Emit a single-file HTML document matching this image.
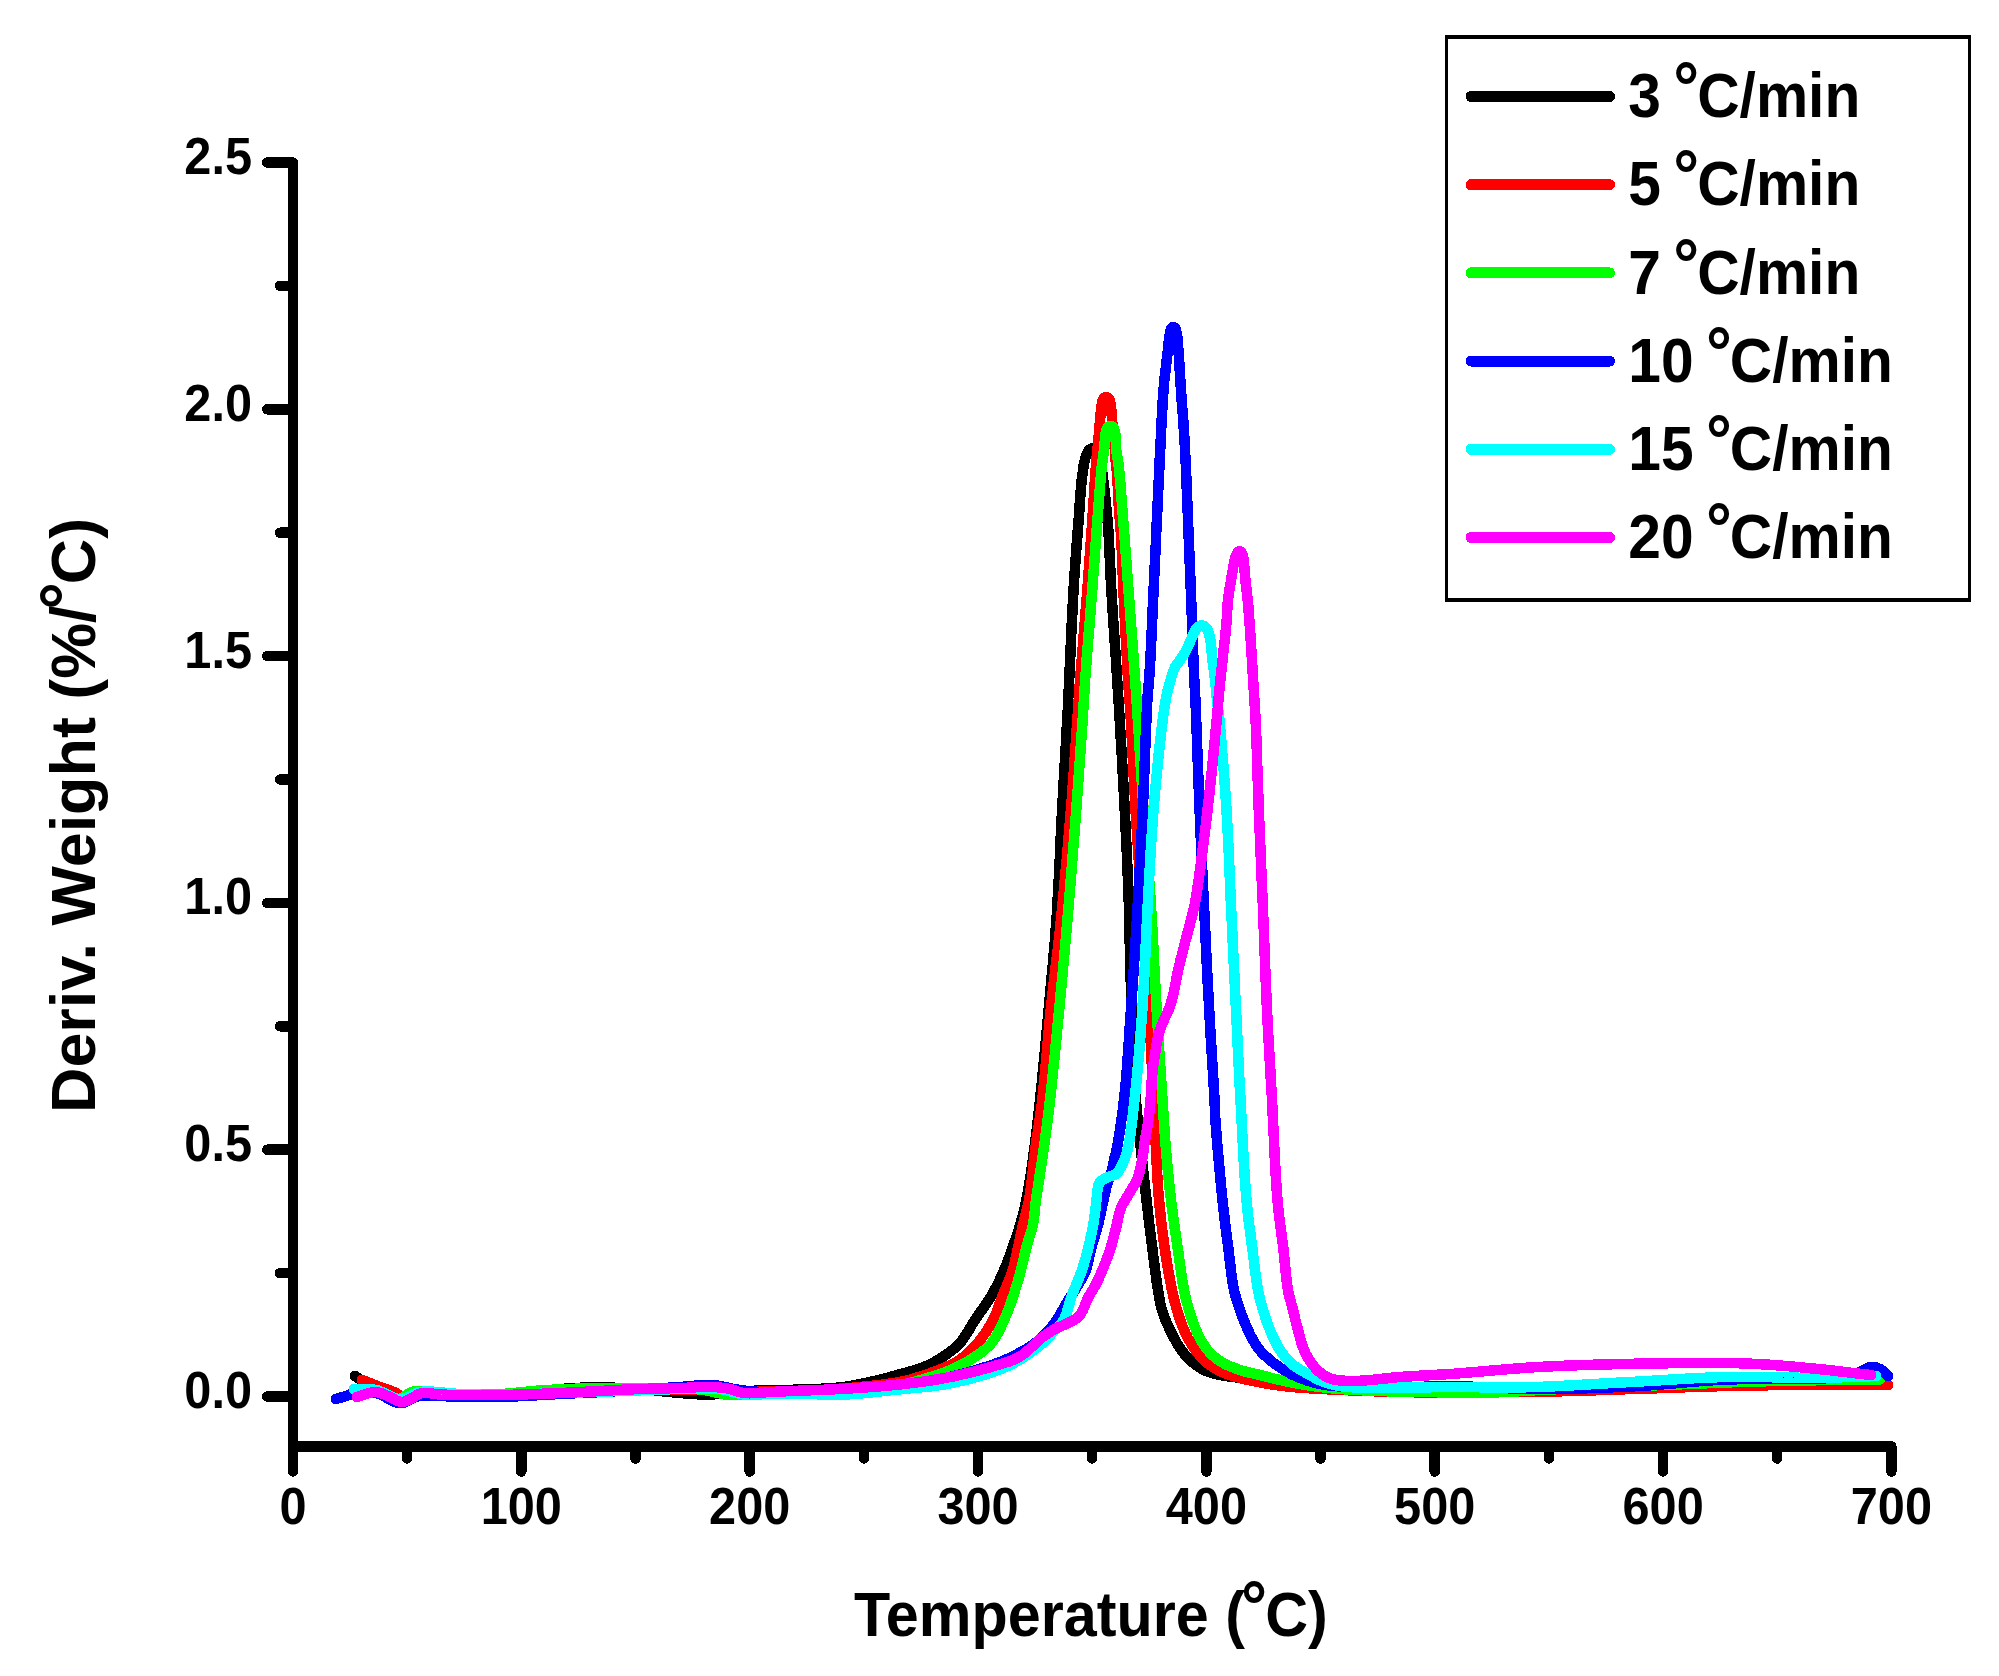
<!DOCTYPE html>
<html lang="en"><head><meta charset="utf-8"><title>Deriv. Weight vs Temperature</title>
<style>html,body{margin:0;padding:0;background:#fff}body{width:1999px;height:1676px;overflow:hidden}svg{display:block}text{font-family:'Liberation Sans', Arial, Helvetica, sans-serif;font-weight:bold;fill:#000}</style></head><body>
<svg width="1999" height="1676" viewBox="0 0 1999 1676">
<rect x="0" y="0" width="1999" height="1676" fill="#fff"/>
<g fill="none" stroke-width="10.5" stroke-linecap="round" stroke-linejoin="round" shape-rendering="crispEdges">
<path stroke="#000000" d="M355.0 1376.0L355.7 1376.5L357.4 1377.6L359.7 1379.0L362.0 1380.3L363.6 1381.1L365.4 1381.9L367.4 1382.7L369.5 1383.5L371.6 1384.3L373.7 1385.1L375.9 1385.9L378.0 1386.7L380.0 1387.5L382.1 1388.3L384.2 1389.0L386.3 1389.8L388.4 1390.5L390.5 1391.2L392.4 1392.0L394.3 1392.7L396.0 1393.5L398.2 1394.9L400.2 1396.4L402.0 1397.8L404.0 1398.5L405.9 1398.5L407.9 1397.9L409.9 1397.2L412.0 1396.5L413.8 1396.0L415.6 1395.4L417.5 1394.9L419.6 1394.4L422.0 1394.0L423.4 1393.9L425.0 1393.8L426.6 1393.7L428.4 1393.7L430.2 1393.8L432.1 1393.8L434.1 1393.9L436.2 1394.0L438.3 1394.1L440.5 1394.2L442.7 1394.3L444.9 1394.4L447.1 1394.5L449.3 1394.6L451.5 1394.8L453.7 1394.8L455.8 1394.9L457.9 1395.0L460.0 1395.0L462.0 1395.0L464.0 1395.0L465.9 1395.0L467.9 1395.0L469.9 1395.1L471.9 1395.1L473.9 1395.1L475.9 1395.1L477.9 1395.0L479.9 1395.0L481.9 1395.0L484.0 1395.0L486.0 1395.0L488.0 1394.9L490.0 1394.9L492.0 1394.8L494.0 1394.8L496.0 1394.7L498.0 1394.6L500.0 1394.5L502.0 1394.4L504.0 1394.3L506.0 1394.1L508.0 1394.0L510.1 1393.8L512.1 1393.7L514.1 1393.5L516.1 1393.3L518.2 1393.1L520.2 1392.9L522.2 1392.7L524.2 1392.5L526.2 1392.3L528.2 1392.1L530.2 1391.9L532.2 1391.7L534.1 1391.5L536.1 1391.4L538.1 1391.2L540.0 1391.0L542.1 1390.8L544.3 1390.6L546.4 1390.4L548.5 1390.2L550.6 1390.0L552.8 1389.8L554.9 1389.6L557.0 1389.4L559.1 1389.2L561.1 1389.0L563.2 1388.9L565.2 1388.7L567.2 1388.5L569.2 1388.4L571.2 1388.2L573.1 1388.1L575.0 1388.0L577.2 1387.9L579.3 1387.8L581.4 1387.7L583.4 1387.6L585.4 1387.6L587.4 1387.5L589.4 1387.5L591.4 1387.5L593.4 1387.5L595.5 1387.5L597.7 1387.5L600.0 1387.5L601.8 1387.5L603.6 1387.5L605.5 1387.6L607.4 1387.6L609.3 1387.6L611.3 1387.7L613.3 1387.7L615.3 1387.8L617.4 1387.9L619.4 1387.9L621.5 1388.0L623.6 1388.1L625.6 1388.2L627.7 1388.3L629.8 1388.4L631.9 1388.5L633.9 1388.6L636.0 1388.7L638.0 1388.9L640.0 1389.0L642.0 1389.1L644.0 1389.3L646.1 1389.5L648.1 1389.7L650.1 1389.9L652.2 1390.1L654.2 1390.3L656.3 1390.5L658.3 1390.8L660.4 1391.0L662.4 1391.2L664.4 1391.5L666.4 1391.7L668.4 1391.9L670.4 1392.1L672.4 1392.3L674.3 1392.5L676.2 1392.7L678.1 1392.9L680.0 1393.0L682.1 1393.2L684.2 1393.3L686.2 1393.5L688.2 1393.6L690.2 1393.8L692.1 1393.9L694.1 1394.1L696.0 1394.2L697.9 1394.3L699.9 1394.4L701.8 1394.5L703.8 1394.5L705.8 1394.5L707.9 1394.5L710.0 1394.5L711.9 1394.4L713.9 1394.4L715.8 1394.2L717.8 1394.1L719.8 1393.9L721.8 1393.7L723.8 1393.5L725.8 1393.3L727.8 1393.1L729.9 1392.9L731.9 1392.6L734.0 1392.4L736.1 1392.1L738.2 1391.9L740.4 1391.7L742.5 1391.5L744.6 1391.3L746.8 1391.1L749.0 1391.0L750.9 1390.9L752.9 1390.8L754.8 1390.7L756.8 1390.6L758.9 1390.5L760.9 1390.5L763.0 1390.4L765.0 1390.4L767.1 1390.3L769.2 1390.3L771.3 1390.2L773.4 1390.2L775.5 1390.1L777.6 1390.1L779.7 1390.0L781.8 1390.0L783.9 1390.0L786.0 1389.9L788.0 1389.9L790.1 1389.8L792.1 1389.8L794.1 1389.7L796.1 1389.6L798.1 1389.6L800.0 1389.5L802.1 1389.4L804.2 1389.3L806.3 1389.3L808.4 1389.2L810.5 1389.1L812.5 1389.1L814.6 1389.0L816.6 1388.9L818.7 1388.8L820.7 1388.8L822.7 1388.7L824.7 1388.6L826.6 1388.5L828.6 1388.4L830.5 1388.2L832.5 1388.1L834.4 1388.0L836.3 1387.8L838.1 1387.6L840.0 1387.4L842.1 1387.1L844.2 1386.9L846.3 1386.6L848.3 1386.3L850.3 1385.9L852.3 1385.6L854.3 1385.2L856.3 1384.9L858.2 1384.5L860.2 1384.1L862.1 1383.7L864.1 1383.3L866.0 1382.9L868.0 1382.4L870.0 1382.0L872.0 1381.5L874.0 1381.1L876.1 1380.6L878.1 1380.1L880.2 1379.6L882.2 1379.1L884.2 1378.5L886.3 1378.0L888.3 1377.5L890.3 1376.9L892.3 1376.4L894.2 1375.8L896.2 1375.3L898.1 1374.7L900.0 1374.2L902.1 1373.6L904.2 1373.1L906.3 1372.5L908.3 1371.9L910.4 1371.4L912.4 1370.8L914.4 1370.3L916.4 1369.7L918.3 1369.1L920.2 1368.4L922.1 1367.7L923.9 1367.0L925.8 1366.2L927.7 1365.3L929.6 1364.5L931.4 1363.6L933.1 1362.7L934.9 1361.7L936.6 1360.7L938.3 1359.7L940.1 1358.6L941.8 1357.5L943.5 1356.4L945.2 1355.3L946.9 1354.1L948.5 1352.9L950.2 1351.7L951.9 1350.4L953.5 1349.1L955.1 1347.7L956.7 1346.3L958.2 1344.8L959.7 1343.2L961.0 1341.8L962.2 1340.2L963.4 1338.6L964.5 1337.0L965.6 1335.3L966.7 1333.5L967.8 1331.8L968.9 1330.0L970.0 1328.2L971.0 1326.4L972.1 1324.6L973.2 1322.8L974.3 1321.0L975.4 1319.3L976.5 1317.6L977.7 1315.9L978.9 1314.2L980.1 1312.5L981.3 1310.8L982.5 1309.1L983.7 1307.5L984.8 1305.8L986.0 1304.1L987.2 1302.4L988.3 1300.7L989.4 1299.0L990.5 1297.2L991.5 1295.5L992.5 1293.7L993.6 1291.9L994.6 1290.1L995.5 1288.2L996.5 1286.4L997.4 1284.6L998.3 1282.7L999.2 1280.9L1000.1 1279.0L1001.0 1277.2L1001.8 1275.3L1002.7 1273.5L1003.5 1271.6L1004.3 1269.6L1005.2 1267.6L1006.0 1265.7L1006.7 1263.7L1007.5 1261.7L1008.2 1259.7L1009.0 1257.7L1009.7 1255.7L1010.4 1253.7L1011.1 1251.7L1011.8 1249.7L1012.5 1247.7L1013.2 1245.7L1013.9 1243.8L1014.6 1241.8L1015.3 1239.8L1016.0 1237.9L1016.6 1235.9L1017.3 1233.9L1017.9 1231.9L1018.6 1230.0L1019.2 1228.0L1019.8 1226.0L1020.4 1224.0L1021.0 1222.0L1021.5 1220.1L1022.0 1218.2L1022.6 1216.4L1023.1 1214.5L1023.5 1212.6L1024.0 1210.7L1024.5 1208.7L1025.0 1206.6L1025.4 1204.5L1025.9 1202.3L1026.4 1200.0L1026.7 1198.3L1027.1 1196.6L1027.4 1194.9L1027.7 1193.0L1028.1 1191.2L1028.4 1189.3L1028.7 1187.3L1029.0 1185.4L1029.4 1183.4L1029.7 1181.3L1030.0 1179.3L1030.3 1177.2L1030.6 1175.1L1031.0 1173.0L1031.3 1170.9L1031.6 1168.8L1031.9 1166.7L1032.2 1164.5L1032.5 1162.4L1032.8 1160.3L1033.1 1158.2L1033.4 1156.1L1033.6 1154.1L1033.9 1152.0L1034.2 1150.0L1034.5 1148.0L1034.7 1146.0L1035.0 1144.1L1035.2 1142.2L1035.5 1140.2L1035.7 1138.3L1036.0 1136.4L1036.2 1134.5L1036.4 1132.6L1036.6 1130.7L1036.9 1128.8L1037.1 1126.9L1037.3 1125.0L1037.5 1123.0L1037.7 1121.1L1038.0 1119.1L1038.2 1117.1L1038.4 1115.1L1038.6 1113.0L1038.8 1110.9L1039.1 1108.8L1039.3 1106.7L1039.5 1104.5L1039.8 1102.3L1040.0 1100.0L1040.2 1098.3L1040.4 1096.5L1040.5 1094.8L1040.7 1093.0L1040.9 1091.2L1041.1 1089.3L1041.3 1087.5L1041.5 1085.6L1041.7 1083.7L1041.9 1081.8L1042.1 1079.8L1042.2 1077.9L1042.4 1075.9L1042.6 1073.9L1042.8 1072.0L1043.0 1069.9L1043.2 1067.9L1043.4 1065.9L1043.6 1063.9L1043.8 1061.8L1044.0 1059.7L1044.2 1057.7L1044.4 1055.6L1044.6 1053.5L1044.8 1051.4L1045.0 1049.4L1045.2 1047.3L1045.4 1045.2L1045.6 1043.1L1045.8 1041.0L1046.0 1038.9L1046.1 1036.8L1046.3 1034.7L1046.5 1032.6L1046.7 1030.5L1046.9 1028.4L1047.1 1026.3L1047.3 1024.3L1047.5 1022.2L1047.7 1020.1L1047.9 1018.1L1048.0 1016.1L1048.2 1014.0L1048.4 1012.0L1048.6 1010.0L1048.8 1008.0L1049.0 1006.0L1049.1 1004.0L1049.3 1002.0L1049.5 1000.1L1049.7 998.1L1049.9 996.1L1050.1 994.1L1050.3 992.1L1050.4 990.2L1050.6 988.2L1050.8 986.2L1051.0 984.3L1051.2 982.3L1051.4 980.3L1051.5 978.4L1051.7 976.4L1051.9 974.4L1052.1 972.5L1052.3 970.5L1052.4 968.5L1052.6 966.6L1052.8 964.6L1053.0 962.6L1053.1 960.6L1053.3 958.6L1053.5 956.7L1053.7 954.7L1053.8 952.7L1054.0 950.7L1054.2 948.7L1054.4 946.7L1054.5 944.7L1054.7 942.6L1054.9 940.6L1055.0 938.6L1055.2 936.5L1055.3 934.5L1055.5 932.5L1055.6 930.4L1055.8 928.3L1056.0 926.3L1056.1 924.2L1056.3 922.1L1056.4 920.0L1056.5 918.1L1056.7 916.2L1056.8 914.3L1056.9 912.3L1057.0 910.4L1057.2 908.4L1057.3 906.5L1057.4 904.5L1057.5 902.5L1057.6 900.5L1057.7 898.5L1057.8 896.5L1058.0 894.5L1058.1 892.5L1058.2 890.5L1058.3 888.5L1058.4 886.5L1058.5 884.4L1058.6 882.4L1058.7 880.4L1058.8 878.3L1058.9 876.3L1059.0 874.2L1059.1 872.2L1059.2 870.1L1059.3 868.1L1059.4 866.0L1059.5 864.0L1059.6 861.9L1059.7 859.9L1059.8 857.8L1059.9 855.8L1060.0 853.7L1060.1 851.7L1060.2 849.7L1060.3 847.6L1060.3 845.6L1060.4 843.6L1060.5 841.5L1060.6 839.5L1060.7 837.5L1060.8 835.5L1060.9 833.5L1061.0 831.5L1061.1 829.5L1061.2 827.5L1061.3 825.5L1061.4 823.5L1061.5 821.6L1061.6 819.6L1061.7 817.7L1061.8 815.7L1061.9 813.8L1062.0 811.9L1062.1 810.0L1062.2 807.9L1062.3 805.8L1062.4 803.7L1062.6 801.6L1062.7 799.4L1062.8 797.3L1062.9 795.2L1063.0 793.1L1063.2 790.9L1063.3 788.8L1063.4 786.7L1063.5 784.5L1063.6 782.4L1063.8 780.3L1063.9 778.2L1064.0 776.1L1064.1 774.0L1064.3 771.9L1064.4 769.8L1064.5 767.7L1064.6 765.6L1064.7 763.5L1064.9 761.5L1065.0 759.4L1065.1 757.4L1065.2 755.4L1065.3 753.3L1065.4 751.3L1065.6 749.4L1065.7 747.4L1065.8 745.4L1065.9 743.5L1066.0 741.6L1066.1 739.6L1066.2 737.8L1066.3 735.9L1066.4 734.0L1066.5 732.2L1066.6 730.4L1066.7 728.6L1066.8 726.8L1066.9 725.1L1067.0 723.4L1067.1 721.7L1067.2 720.0L1067.3 717.6L1067.4 715.4L1067.6 713.2L1067.7 711.1L1067.8 709.0L1067.9 707.0L1068.0 705.1L1068.1 703.1L1068.1 701.2L1068.2 699.3L1068.3 697.5L1068.4 695.6L1068.5 693.7L1068.6 691.8L1068.7 689.9L1068.8 687.9L1068.9 685.9L1069.0 683.9L1069.1 681.8L1069.2 679.6L1069.3 677.3L1069.4 675.0L1069.5 673.3L1069.6 671.5L1069.7 669.7L1069.7 667.9L1069.8 666.1L1069.9 664.2L1070.0 662.3L1070.1 660.3L1070.2 658.4L1070.3 656.4L1070.4 654.4L1070.5 652.4L1070.6 650.3L1070.6 648.2L1070.7 646.2L1070.8 644.1L1070.9 642.0L1071.0 639.8L1071.1 637.7L1071.2 635.6L1071.3 633.4L1071.4 631.3L1071.5 629.1L1071.6 626.9L1071.7 624.8L1071.8 622.6L1071.9 620.5L1072.0 618.3L1072.1 616.2L1072.3 614.0L1072.4 611.9L1072.5 609.8L1072.6 607.7L1072.7 605.6L1072.8 603.5L1072.9 601.4L1073.0 599.4L1073.1 597.3L1073.2 595.3L1073.4 593.3L1073.5 591.4L1073.6 589.4L1073.7 587.5L1073.8 585.3L1074.0 583.2L1074.1 581.0L1074.2 578.8L1074.4 576.7L1074.5 574.5L1074.7 572.4L1074.8 570.2L1075.0 568.1L1075.1 566.0L1075.3 563.8L1075.4 561.7L1075.6 559.6L1075.7 557.5L1075.9 555.5L1076.0 553.4L1076.2 551.3L1076.3 549.3L1076.5 547.2L1076.6 545.2L1076.8 543.2L1077.0 541.2L1077.1 539.2L1077.3 537.2L1077.4 535.2L1077.6 533.3L1077.7 531.3L1077.9 529.4L1078.0 527.5L1078.2 525.6L1078.3 523.7L1078.5 521.8L1078.6 520.0L1078.8 517.7L1078.9 515.5L1079.1 513.2L1079.3 511.0L1079.4 508.7L1079.6 506.5L1079.7 504.3L1079.9 502.1L1080.0 499.9L1080.2 497.7L1080.4 495.6L1080.5 493.5L1080.7 491.4L1080.8 489.4L1081.0 487.4L1081.2 485.5L1081.3 483.6L1081.5 481.8L1081.7 480.0L1081.9 478.3L1082.1 476.6L1082.3 475.0L1082.7 472.4L1083.0 469.9L1083.4 467.5L1083.7 465.3L1084.1 463.2L1084.5 461.2L1085.0 459.4L1085.5 457.6L1086.3 455.3L1087.1 453.2L1088.0 451.4L1089.0 450.0L1090.7 448.7L1092.5 448.2L1094.6 449.1L1096.5 451.0L1097.4 452.5L1098.2 454.4L1098.8 456.5L1099.4 458.7L1100.0 461.0L1100.5 462.9L1100.9 464.9L1101.3 467.0L1101.7 469.1L1102.0 471.4L1102.4 473.6L1102.7 476.0L1103.0 477.8L1103.2 479.7L1103.5 481.6L1103.7 483.6L1103.9 485.6L1104.2 487.7L1104.4 489.7L1104.6 491.8L1104.8 493.9L1105.1 495.9L1105.3 498.0L1105.5 500.0L1105.7 502.2L1106.0 504.3L1106.2 506.5L1106.4 508.7L1106.6 510.9L1106.9 513.1L1107.1 515.3L1107.3 517.4L1107.5 519.5L1107.6 521.5L1107.8 523.5L1108.0 525.6L1108.1 527.6L1108.3 529.5L1108.4 531.4L1108.5 533.3L1108.6 535.3L1108.8 537.5L1108.9 540.0L1109.0 541.6L1109.1 543.2L1109.2 544.9L1109.2 546.6L1109.3 548.4L1109.4 550.3L1109.5 552.2L1109.6 554.1L1109.7 556.1L1109.8 558.2L1109.9 560.3L1110.0 562.4L1110.1 564.5L1110.2 566.7L1110.3 568.9L1110.4 571.2L1110.5 573.5L1110.6 575.8L1110.7 578.1L1110.8 580.4L1110.9 582.8L1111.1 585.1L1111.2 587.5L1111.3 589.2L1111.4 591.0L1111.5 592.9L1111.6 594.7L1111.7 596.6L1111.9 598.6L1112.0 600.6L1112.1 602.6L1112.2 604.6L1112.4 606.6L1112.5 608.7L1112.6 610.8L1112.8 612.9L1112.9 615.1L1113.1 617.2L1113.2 619.4L1113.3 621.5L1113.5 623.7L1113.6 625.9L1113.8 628.1L1113.9 630.3L1114.1 632.5L1114.2 634.7L1114.4 636.9L1114.5 639.1L1114.7 641.2L1114.8 643.4L1114.9 645.6L1115.1 647.7L1115.2 649.8L1115.4 651.9L1115.5 654.0L1115.7 656.1L1115.8 658.1L1115.9 660.1L1116.1 662.1L1116.2 664.1L1116.3 666.0L1116.4 667.9L1116.6 669.7L1116.7 671.5L1116.8 673.3L1116.9 675.0L1117.0 677.3L1117.2 679.6L1117.3 681.8L1117.5 683.9L1117.6 685.9L1117.7 687.9L1117.8 689.9L1118.0 691.8L1118.1 693.7L1118.2 695.6L1118.3 697.5L1118.4 699.3L1118.6 701.2L1118.7 703.1L1118.8 705.1L1118.9 707.0L1119.0 709.0L1119.2 711.1L1119.3 713.2L1119.4 715.4L1119.6 717.6L1119.7 720.0L1119.8 721.7L1119.9 723.4L1120.0 725.1L1120.1 726.9L1120.2 728.6L1120.3 730.5L1120.4 732.3L1120.5 734.1L1120.6 736.0L1120.7 737.9L1120.9 739.8L1121.0 741.8L1121.1 743.7L1121.2 745.7L1121.3 747.7L1121.4 749.7L1121.5 751.7L1121.7 753.8L1121.8 755.8L1121.9 757.9L1122.0 759.9L1122.1 762.0L1122.2 764.1L1122.4 766.2L1122.5 768.3L1122.6 770.4L1122.7 772.5L1122.8 774.6L1122.9 776.7L1123.1 778.9L1123.2 781.0L1123.3 783.1L1123.4 785.2L1123.5 787.3L1123.6 789.4L1123.7 791.5L1123.9 793.6L1124.0 795.7L1124.1 797.8L1124.2 799.8L1124.3 801.9L1124.4 803.9L1124.5 806.0L1124.6 808.0L1124.7 810.0L1124.8 812.0L1124.9 814.0L1125.0 816.0L1125.1 818.0L1125.2 820.1L1125.3 822.1L1125.4 824.1L1125.5 826.1L1125.6 828.2L1125.7 830.2L1125.8 832.3L1125.9 834.3L1126.0 836.3L1126.1 838.4L1126.2 840.4L1126.3 842.5L1126.4 844.5L1126.5 846.5L1126.6 848.6L1126.7 850.6L1126.8 852.7L1126.9 854.7L1126.9 856.7L1127.0 858.7L1127.1 860.8L1127.2 862.8L1127.3 864.8L1127.4 866.8L1127.5 868.8L1127.6 870.8L1127.7 872.8L1127.7 874.8L1127.8 876.8L1127.9 878.8L1128.0 880.8L1128.1 882.7L1128.1 884.7L1128.2 886.6L1128.3 888.6L1128.4 890.5L1128.4 892.4L1128.5 894.3L1128.6 896.2L1128.6 898.1L1128.7 900.0L1128.8 902.1L1128.8 904.2L1128.9 906.3L1129.0 908.4L1129.0 910.5L1129.1 912.5L1129.1 914.6L1129.2 916.6L1129.2 918.6L1129.3 920.6L1129.3 922.6L1129.4 924.6L1129.4 926.6L1129.5 928.6L1129.5 930.6L1129.5 932.6L1129.6 934.6L1129.6 936.5L1129.7 938.5L1129.7 940.5L1129.7 942.4L1129.8 944.4L1129.8 946.3L1129.9 948.3L1129.9 950.3L1129.9 952.2L1130.0 954.2L1130.0 956.1L1130.1 958.1L1130.1 960.1L1130.2 962.1L1130.2 964.0L1130.3 966.0L1130.3 968.0L1130.4 970.0L1130.5 972.0L1130.5 974.0L1130.6 976.0L1130.7 978.0L1130.7 980.0L1130.8 982.1L1130.9 984.1L1130.9 986.1L1131.0 988.1L1131.1 990.2L1131.1 992.2L1131.2 994.2L1131.3 996.2L1131.3 998.3L1131.4 1000.3L1131.5 1002.3L1131.6 1004.3L1131.6 1006.3L1131.7 1008.4L1131.8 1010.4L1131.9 1012.4L1131.9 1014.4L1132.0 1016.4L1132.1 1018.4L1132.2 1020.4L1132.3 1022.4L1132.3 1024.4L1132.4 1026.3L1132.5 1028.3L1132.6 1030.3L1132.7 1032.2L1132.8 1034.2L1132.8 1036.1L1132.9 1038.1L1133.0 1040.0L1133.1 1042.1L1133.2 1044.1L1133.3 1046.2L1133.4 1048.3L1133.4 1050.3L1133.5 1052.4L1133.6 1054.4L1133.7 1056.5L1133.8 1058.5L1133.9 1060.5L1133.9 1062.6L1134.0 1064.6L1134.1 1066.6L1134.2 1068.6L1134.3 1070.6L1134.4 1072.6L1134.5 1074.6L1134.6 1076.6L1134.7 1078.6L1134.8 1080.6L1134.9 1082.6L1135.0 1084.5L1135.1 1086.5L1135.2 1088.4L1135.3 1090.4L1135.5 1092.3L1135.6 1094.2L1135.7 1096.2L1135.9 1098.1L1136.0 1100.0L1136.2 1102.1L1136.3 1104.2L1136.5 1106.2L1136.7 1108.3L1136.9 1110.3L1137.0 1112.3L1137.2 1114.3L1137.4 1116.3L1137.6 1118.3L1137.8 1120.3L1138.0 1122.3L1138.2 1124.3L1138.4 1126.3L1138.6 1128.3L1138.9 1130.2L1139.1 1132.2L1139.3 1134.2L1139.5 1136.1L1139.7 1138.1L1139.9 1140.1L1140.1 1142.1L1140.4 1144.0L1140.6 1146.0L1140.8 1148.0L1141.0 1150.0L1141.2 1152.0L1141.4 1154.0L1141.6 1156.0L1141.8 1158.0L1142.1 1160.0L1142.3 1162.0L1142.5 1164.0L1142.7 1166.0L1142.9 1168.0L1143.1 1170.0L1143.4 1172.0L1143.6 1174.0L1143.8 1176.0L1144.0 1178.0L1144.2 1180.0L1144.5 1182.0L1144.7 1184.0L1144.9 1186.0L1145.1 1188.0L1145.4 1190.0L1145.6 1192.0L1145.8 1194.0L1146.0 1196.0L1146.3 1198.0L1146.5 1200.0L1146.7 1202.0L1147.0 1204.0L1147.2 1206.0L1147.4 1208.1L1147.7 1210.1L1147.9 1212.1L1148.1 1214.2L1148.4 1216.2L1148.6 1218.2L1148.9 1220.3L1149.1 1222.3L1149.3 1224.3L1149.6 1226.4L1149.8 1228.4L1150.1 1230.4L1150.3 1232.4L1150.6 1234.4L1150.8 1236.4L1151.0 1238.4L1151.3 1240.4L1151.5 1242.3L1151.8 1244.3L1152.0 1246.2L1152.3 1248.1L1152.5 1250.0L1152.8 1252.1L1153.0 1254.2L1153.3 1256.4L1153.6 1258.5L1153.9 1260.6L1154.1 1262.8L1154.4 1264.9L1154.7 1267.0L1155.0 1269.1L1155.2 1271.1L1155.5 1273.2L1155.8 1275.2L1156.1 1277.2L1156.3 1279.2L1156.6 1281.1L1156.9 1283.0L1157.2 1284.8L1157.4 1286.6L1157.7 1288.3L1158.0 1290.0L1158.4 1292.3L1158.7 1294.5L1159.1 1296.5L1159.4 1298.5L1159.8 1300.5L1160.1 1302.4L1160.5 1304.3L1161.0 1306.1L1161.4 1308.1L1162.0 1310.0L1162.6 1312.0L1163.3 1314.1L1164.0 1316.1L1164.8 1318.1L1165.6 1320.1L1166.4 1322.1L1167.3 1324.1L1168.2 1326.1L1169.1 1328.1L1170.0 1330.0L1170.9 1331.9L1171.8 1333.8L1172.8 1335.7L1173.8 1337.5L1174.8 1339.4L1175.8 1341.2L1176.8 1343.0L1177.9 1344.7L1178.9 1346.4L1180.0 1348.0L1181.3 1349.9L1182.7 1351.7L1184.0 1353.5L1185.4 1355.2L1186.9 1356.8L1188.4 1358.4L1190.0 1360.0L1191.6 1361.4L1193.2 1362.8L1194.9 1364.2L1196.6 1365.5L1198.4 1366.7L1200.3 1367.9L1202.1 1369.0L1204.0 1370.0L1205.9 1370.9L1207.8 1371.6L1209.7 1372.3L1211.7 1372.9L1213.8 1373.5L1215.8 1374.0L1217.9 1374.5L1220.0 1375.0L1221.9 1375.4L1223.8 1375.8L1225.8 1376.1L1227.8 1376.3L1229.8 1376.6L1231.9 1376.9L1233.9 1377.1L1236.0 1377.4L1238.0 1377.7L1240.0 1378.0L1242.0 1378.4L1244.0 1378.8L1246.0 1379.2L1248.0 1379.6L1250.0 1380.0L1252.0 1380.4L1254.0 1380.8L1256.0 1381.2L1258.0 1381.6L1260.0 1382.0L1262.0 1382.3L1264.0 1382.7L1266.0 1383.0L1268.0 1383.3L1270.0 1383.6L1272.0 1383.9L1274.0 1384.2L1276.0 1384.5L1278.0 1384.7L1280.0 1385.0L1281.9 1385.2L1283.8 1385.5L1285.5 1385.7L1287.3 1385.9L1289.0 1386.1L1290.9 1386.2L1292.9 1386.4L1295.0 1386.6L1297.4 1386.8L1300.0 1387.0L1301.3 1387.1L1302.6 1387.2L1304.0 1387.3L1305.4 1387.4L1306.9 1387.5L1308.4 1387.6L1310.0 1387.7L1311.7 1387.8L1313.4 1387.9L1315.1 1388.0L1316.9 1388.1L1318.7 1388.2L1320.6 1388.3L1322.4 1388.4L1324.4 1388.5L1326.3 1388.6L1328.3 1388.7L1330.4 1388.8L1332.4 1388.9L1334.5 1389.0L1336.6 1389.1L1338.7 1389.2L1340.9 1389.3L1343.0 1389.4L1345.2 1389.5L1347.4 1389.6L1349.6 1389.7L1351.9 1389.8L1354.1 1389.9L1356.3 1390.0L1358.6 1390.1L1360.8 1390.2L1363.1 1390.3L1365.3 1390.4L1367.6 1390.5L1369.8 1390.6L1372.1 1390.6L1374.3 1390.7L1376.6 1390.8L1378.8 1390.9L1381.0 1391.0L1383.2 1391.0L1385.4 1391.1L1387.5 1391.2L1389.7 1391.2L1391.8 1391.3L1393.9 1391.3L1395.9 1391.4L1398.0 1391.5L1400.0 1391.5L1402.0 1391.5L1404.0 1391.6L1406.0 1391.6L1408.0 1391.7L1410.0 1391.7L1412.0 1391.7L1414.0 1391.8L1416.0 1391.8L1418.0 1391.8L1420.0 1391.8L1422.0 1391.8L1424.0 1391.9L1426.0 1391.9L1428.0 1391.9L1430.0 1391.9L1432.0 1391.9L1434.0 1391.9L1436.0 1391.9L1438.0 1391.9L1440.0 1391.9L1442.0 1391.9L1444.0 1391.9L1446.0 1391.9L1448.0 1391.9L1450.0 1391.9L1452.0 1391.9L1454.0 1391.9L1456.0 1391.9L1458.0 1391.9L1460.0 1391.9L1462.0 1391.9L1464.0 1391.9L1466.0 1391.9L1468.0 1391.8L1470.0 1391.8L1472.0 1391.8L1474.0 1391.8L1476.0 1391.8L1478.0 1391.8L1480.0 1391.7L1482.0 1391.7L1484.0 1391.7L1486.0 1391.7L1488.0 1391.6L1490.0 1391.6L1492.0 1391.6L1494.0 1391.6L1496.0 1391.5L1498.0 1391.5L1500.0 1391.5L1502.0 1391.5L1504.0 1391.4L1506.0 1391.4L1508.0 1391.4L1510.0 1391.4L1512.0 1391.3L1514.0 1391.3L1516.0 1391.3L1518.0 1391.2L1520.0 1391.2L1522.0 1391.1L1524.0 1391.1L1526.0 1391.1L1528.0 1391.0L1530.0 1391.0L1532.0 1390.9L1534.0 1390.9L1536.0 1390.8L1538.0 1390.8L1540.0 1390.8L1542.0 1390.7L1544.0 1390.7L1546.0 1390.6L1548.0 1390.6L1550.0 1390.5L1552.0 1390.4L1554.0 1390.4L1556.0 1390.3L1558.0 1390.3L1560.0 1390.2L1562.0 1390.2L1564.0 1390.1L1566.0 1390.1L1568.0 1390.0L1570.0 1389.9L1572.0 1389.9L1574.0 1389.8L1576.0 1389.8L1578.0 1389.7L1580.0 1389.6L1582.0 1389.6L1584.0 1389.5L1586.0 1389.4L1588.0 1389.4L1590.0 1389.3L1592.0 1389.3L1594.0 1389.2L1596.0 1389.1L1598.0 1389.1L1600.0 1389.0L1602.0 1388.9L1604.0 1388.9L1606.0 1388.8L1608.0 1388.7L1610.0 1388.7L1612.0 1388.6L1614.0 1388.5L1616.0 1388.5L1618.0 1388.4L1620.0 1388.3L1622.0 1388.2L1624.0 1388.2L1626.0 1388.1L1628.0 1388.0L1630.0 1387.9L1632.0 1387.9L1634.0 1387.8L1636.0 1387.7L1638.0 1387.6L1640.0 1387.6L1642.0 1387.5L1644.0 1387.4L1646.0 1387.3L1648.0 1387.2L1650.0 1387.2L1652.0 1387.1L1654.0 1387.0L1656.0 1386.9L1658.0 1386.8L1660.0 1386.7L1662.0 1386.7L1664.0 1386.6L1666.0 1386.5L1668.0 1386.4L1670.0 1386.3L1672.0 1386.2L1674.0 1386.1L1676.0 1386.1L1678.0 1386.0L1680.0 1385.9L1682.0 1385.8L1684.0 1385.7L1686.0 1385.6L1688.0 1385.5L1690.0 1385.4L1692.0 1385.4L1694.0 1385.3L1696.0 1385.2L1698.0 1385.1L1700.0 1385.0L1702.0 1384.9L1704.0 1384.8L1706.0 1384.7L1708.0 1384.6L1710.0 1384.5L1712.0 1384.4L1714.1 1384.4L1716.1 1384.3L1718.1 1384.2L1720.1 1384.1L1722.1 1384.0L1724.2 1383.9L1726.2 1383.8L1728.2 1383.7L1730.2 1383.6L1732.3 1383.5L1734.3 1383.4L1736.3 1383.3L1738.3 1383.2L1740.4 1383.1L1742.4 1383.0L1744.4 1382.9L1746.4 1382.8L1748.5 1382.7L1750.5 1382.6L1752.5 1382.4L1754.5 1382.3L1756.5 1382.2L1758.5 1382.1L1760.5 1382.0L1762.6 1381.9L1764.6 1381.8L1766.6 1381.7L1768.6 1381.6L1770.6 1381.5L1772.5 1381.4L1774.5 1381.3L1776.5 1381.2L1778.5 1381.1L1780.5 1381.0L1782.5 1380.9L1784.4 1380.8L1786.4 1380.7L1788.4 1380.6L1790.3 1380.5L1792.3 1380.4L1794.2 1380.3L1796.1 1380.2L1798.1 1380.1L1800.0 1380.0L1802.1 1379.9L1804.3 1379.8L1806.6 1379.7L1808.9 1379.5L1811.3 1379.4L1813.8 1379.3L1816.3 1379.2L1818.8 1379.0L1821.4 1378.9L1824.0 1378.8L1826.6 1378.6L1829.3 1378.5L1832.0 1378.3L1834.6 1378.2L1837.3 1378.1L1840.0 1377.9L1842.6 1377.8L1845.2 1377.6L1847.8 1377.5L1850.4 1377.4L1852.9 1377.2L1855.4 1377.1L1857.8 1377.0L1860.2 1376.9L1862.5 1376.7L1864.7 1376.6L1866.9 1376.5L1869.0 1376.4L1871.0 1376.3L1872.9 1376.2L1874.7 1376.1L1876.3 1376.0L1877.9 1375.9L1879.4 1375.9L1880.7 1375.8L1881.9 1375.7L1882.9 1375.7L1883.8 1375.6L1884.6 1375.6L1885.2 1375.5L1885.6 1375.5L1885.9 1375.5L1886.0 1375.5"/>
<path stroke="#ff0000" d="M362.0 1380.0L362.4 1380.2L363.6 1380.6L365.4 1381.3L367.6 1382.2L370.1 1383.2L372.7 1384.2L375.4 1385.2L377.8 1386.2L380.0 1387.0L382.1 1387.8L384.2 1388.5L386.3 1389.3L388.4 1390.0L390.5 1390.7L392.4 1391.5L394.3 1392.2L396.0 1393.0L398.2 1394.4L400.2 1395.9L402.0 1397.3L404.0 1398.0L405.9 1398.0L407.9 1397.4L409.9 1396.7L412.0 1396.0L413.8 1395.5L415.6 1394.9L417.5 1394.4L419.6 1393.9L422.0 1393.5L423.4 1393.4L425.0 1393.3L426.6 1393.2L428.4 1393.2L430.2 1393.3L432.1 1393.3L434.1 1393.4L436.2 1393.5L438.3 1393.6L440.5 1393.7L442.7 1393.8L444.9 1393.9L447.1 1394.0L449.3 1394.1L451.5 1394.3L453.7 1394.3L455.8 1394.4L457.9 1394.5L460.0 1394.5L462.0 1394.5L463.9 1394.5L465.9 1394.5L467.8 1394.5L469.7 1394.5L471.7 1394.5L473.6 1394.5L475.5 1394.5L477.5 1394.5L479.4 1394.5L481.4 1394.4L483.4 1394.4L485.4 1394.4L487.4 1394.3L489.4 1394.3L491.5 1394.2L493.6 1394.2L495.7 1394.1L497.8 1394.1L500.0 1394.0L501.8 1393.9L503.6 1393.9L505.5 1393.8L507.4 1393.7L509.3 1393.6L511.2 1393.5L513.2 1393.4L515.1 1393.3L517.1 1393.2L519.1 1393.1L521.1 1393.0L523.1 1392.9L525.2 1392.8L527.2 1392.7L529.2 1392.5L531.3 1392.4L533.4 1392.3L535.4 1392.2L537.5 1392.1L539.5 1391.9L541.6 1391.8L543.7 1391.7L545.7 1391.6L547.8 1391.5L549.9 1391.4L551.9 1391.3L553.9 1391.2L556.0 1391.1L558.0 1391.1L560.0 1391.0L562.0 1390.9L564.0 1390.9L566.0 1390.8L567.9 1390.8L569.9 1390.7L571.9 1390.7L573.8 1390.6L575.8 1390.6L577.7 1390.5L579.7 1390.5L581.6 1390.4L583.6 1390.4L585.5 1390.4L587.5 1390.3L589.5 1390.3L591.4 1390.3L593.4 1390.3L595.4 1390.2L597.4 1390.2L599.4 1390.2L601.4 1390.2L603.4 1390.1L605.4 1390.1L607.4 1390.1L609.5 1390.1L611.6 1390.1L613.7 1390.1L615.7 1390.0L617.9 1390.0L620.0 1390.0L621.9 1390.0L623.8 1390.0L625.7 1390.0L627.6 1389.9L629.5 1389.9L631.5 1389.9L633.5 1389.9L635.4 1389.9L637.4 1389.9L639.5 1389.9L641.5 1389.9L643.5 1389.9L645.6 1389.8L647.6 1389.8L649.7 1389.8L651.7 1389.8L653.8 1389.8L655.9 1389.8L657.9 1389.8L660.0 1389.8L662.1 1389.8L664.1 1389.8L666.2 1389.8L668.3 1389.8L670.3 1389.8L672.4 1389.8L674.4 1389.8L676.5 1389.8L678.5 1389.8L680.5 1389.8L682.6 1389.9L684.6 1389.9L686.5 1389.9L688.5 1389.9L690.5 1389.9L692.4 1389.9L694.3 1389.9L696.2 1390.0L698.1 1390.0L700.0 1390.0L702.1 1390.0L704.3 1390.1L706.3 1390.1L708.4 1390.2L710.5 1390.2L712.6 1390.3L714.6 1390.3L716.6 1390.4L718.6 1390.4L720.6 1390.5L722.6 1390.6L724.6 1390.6L726.6 1390.7L728.6 1390.8L730.5 1390.9L732.5 1390.9L734.5 1391.0L736.4 1391.0L738.4 1391.1L740.3 1391.2L742.3 1391.2L744.2 1391.3L746.2 1391.3L748.1 1391.4L750.1 1391.4L752.1 1391.4L754.0 1391.5L756.0 1391.5L758.0 1391.5L760.0 1391.5L762.0 1391.5L764.0 1391.5L766.0 1391.5L768.0 1391.5L770.1 1391.5L772.1 1391.4L774.1 1391.4L776.1 1391.4L778.2 1391.4L780.2 1391.3L782.2 1391.3L784.3 1391.3L786.3 1391.2L788.3 1391.2L790.3 1391.1L792.4 1391.1L794.4 1391.0L796.4 1391.0L798.4 1390.9L800.4 1390.8L802.4 1390.8L804.4 1390.7L806.4 1390.6L808.4 1390.5L810.3 1390.5L812.3 1390.4L814.2 1390.3L816.2 1390.2L818.1 1390.1L820.0 1390.0L822.1 1389.9L824.2 1389.8L826.3 1389.6L828.4 1389.5L830.5 1389.4L832.6 1389.2L834.7 1389.1L836.8 1389.0L838.9 1388.8L840.9 1388.6L843.0 1388.5L845.1 1388.3L847.1 1388.2L849.1 1388.0L851.1 1387.8L853.1 1387.7L855.1 1387.5L857.1 1387.3L859.0 1387.1L860.9 1386.9L862.8 1386.7L864.6 1386.6L866.4 1386.4L868.2 1386.2L870.0 1386.0L872.2 1385.8L874.4 1385.5L876.6 1385.3L878.7 1385.1L880.7 1384.8L882.7 1384.6L884.7 1384.3L886.7 1384.1L888.6 1383.8L890.6 1383.5L892.5 1383.3L894.4 1382.9L896.2 1382.6L898.1 1382.3L900.0 1381.9L902.1 1381.5L904.2 1381.0L906.2 1380.5L908.2 1380.0L910.2 1379.5L912.2 1378.9L914.1 1378.4L916.1 1377.8L918.0 1377.2L920.0 1376.6L921.9 1375.9L923.9 1375.3L925.9 1374.6L928.0 1373.9L930.1 1373.2L932.2 1372.4L934.3 1371.7L936.4 1370.9L938.4 1370.1L940.4 1369.3L942.4 1368.5L944.2 1367.7L946.0 1366.9L947.7 1366.2L949.9 1365.2L952.0 1364.3L953.9 1363.4L955.8 1362.4L957.7 1361.2L959.7 1359.9L961.1 1358.9L962.6 1357.7L964.1 1356.5L965.6 1355.2L967.2 1353.9L968.7 1352.5L970.3 1351.0L971.8 1349.5L973.3 1348.0L974.8 1346.4L976.2 1344.8L977.6 1343.2L978.9 1341.7L980.1 1340.1L981.3 1338.5L982.5 1336.9L983.7 1335.2L984.9 1333.5L986.1 1331.7L987.2 1330.0L988.3 1328.2L989.4 1326.4L990.4 1324.6L991.4 1322.8L992.4 1321.1L993.3 1319.3L994.3 1317.4L995.2 1315.4L996.0 1313.4L996.8 1311.5L997.5 1309.5L998.3 1307.5L999.0 1305.5L999.7 1303.5L1000.4 1301.5L1001.1 1299.5L1001.8 1297.5L1002.6 1295.5L1003.4 1293.5L1004.2 1291.5L1005.1 1289.5L1005.9 1287.6L1006.8 1285.6L1007.6 1283.6L1008.4 1281.6L1009.3 1279.6L1010.1 1277.6L1010.8 1275.6L1011.5 1273.6L1012.2 1271.6L1012.8 1269.6L1013.4 1267.6L1013.9 1265.7L1014.4 1263.7L1014.9 1261.7L1015.4 1259.7L1015.8 1257.7L1016.2 1255.7L1016.7 1253.7L1017.1 1251.7L1017.5 1249.7L1018.0 1247.7L1018.5 1245.7L1018.9 1243.7L1019.3 1241.8L1019.8 1239.8L1020.2 1237.8L1020.6 1235.8L1021.0 1233.8L1021.4 1231.8L1021.9 1229.8L1022.3 1227.9L1022.7 1225.9L1023.2 1223.9L1023.7 1221.9L1024.1 1220.0L1024.6 1218.1L1025.1 1216.3L1025.6 1214.4L1026.1 1212.5L1026.6 1210.6L1027.1 1208.6L1027.6 1206.6L1028.1 1204.5L1028.6 1202.3L1029.0 1200.0L1029.3 1198.3L1029.6 1196.6L1029.9 1194.9L1030.1 1193.0L1030.4 1191.2L1030.6 1189.3L1030.9 1187.3L1031.1 1185.4L1031.4 1183.4L1031.6 1181.3L1031.9 1179.3L1032.1 1177.2L1032.3 1175.1L1032.6 1173.0L1032.8 1170.9L1033.0 1168.8L1033.2 1166.6L1033.5 1164.5L1033.7 1162.4L1033.9 1160.3L1034.2 1158.2L1034.4 1156.1L1034.7 1154.1L1034.9 1152.0L1035.2 1150.0L1035.5 1148.0L1035.7 1146.0L1036.0 1144.1L1036.3 1142.2L1036.6 1140.2L1036.8 1138.3L1037.1 1136.4L1037.4 1134.5L1037.7 1132.6L1038.0 1130.7L1038.3 1128.8L1038.5 1126.9L1038.8 1125.0L1039.1 1123.0L1039.4 1121.1L1039.7 1119.1L1040.0 1117.1L1040.3 1115.1L1040.5 1113.0L1040.8 1110.9L1041.1 1108.8L1041.4 1106.7L1041.7 1104.5L1041.9 1102.3L1042.2 1100.0L1042.4 1098.3L1042.6 1096.5L1042.8 1094.8L1043.0 1093.0L1043.2 1091.2L1043.4 1089.3L1043.6 1087.5L1043.7 1085.6L1043.9 1083.7L1044.1 1081.8L1044.3 1079.8L1044.5 1077.9L1044.7 1075.9L1044.9 1073.9L1045.0 1072.0L1045.2 1069.9L1045.4 1067.9L1045.6 1065.9L1045.8 1063.9L1046.0 1061.8L1046.1 1059.7L1046.3 1057.7L1046.5 1055.6L1046.7 1053.5L1046.9 1051.4L1047.0 1049.4L1047.2 1047.3L1047.4 1045.2L1047.6 1043.1L1047.8 1041.0L1048.0 1038.9L1048.2 1036.8L1048.3 1034.7L1048.5 1032.6L1048.7 1030.5L1048.9 1028.4L1049.1 1026.3L1049.3 1024.3L1049.5 1022.2L1049.7 1020.1L1049.9 1018.1L1050.1 1016.1L1050.3 1014.0L1050.5 1012.0L1050.7 1010.0L1050.9 1008.0L1051.1 1006.0L1051.3 1004.0L1051.5 1002.0L1051.8 1000.0L1052.0 998.1L1052.2 996.1L1052.4 994.1L1052.6 992.1L1052.9 990.2L1053.1 988.2L1053.3 986.2L1053.6 984.3L1053.8 982.3L1054.0 980.3L1054.2 978.4L1054.5 976.4L1054.7 974.4L1054.9 972.5L1055.2 970.5L1055.4 968.5L1055.6 966.6L1055.9 964.6L1056.1 962.6L1056.3 960.6L1056.6 958.6L1056.8 956.7L1057.1 954.7L1057.3 952.7L1057.5 950.7L1057.8 948.7L1058.0 946.7L1058.2 944.7L1058.4 942.6L1058.7 940.6L1058.9 938.6L1059.1 936.5L1059.4 934.5L1059.6 932.5L1059.8 930.4L1060.0 928.3L1060.2 926.3L1060.5 924.2L1060.7 922.1L1060.9 920.0L1061.1 918.1L1061.3 916.2L1061.5 914.3L1061.7 912.3L1061.9 910.4L1062.1 908.5L1062.3 906.5L1062.4 904.6L1062.6 902.6L1062.8 900.7L1063.0 898.7L1063.2 896.7L1063.4 894.8L1063.6 892.8L1063.8 890.8L1064.0 888.8L1064.2 886.8L1064.4 884.8L1064.5 882.8L1064.7 880.8L1064.9 878.8L1065.1 876.8L1065.3 874.8L1065.5 872.8L1065.7 870.8L1065.8 868.7L1066.0 866.7L1066.2 864.7L1066.4 862.7L1066.6 860.6L1066.8 858.6L1066.9 856.6L1067.1 854.5L1067.3 852.5L1067.5 850.5L1067.7 848.4L1067.8 846.4L1068.0 844.4L1068.2 842.3L1068.4 840.3L1068.5 838.3L1068.7 836.2L1068.9 834.2L1069.1 832.2L1069.2 830.2L1069.4 828.1L1069.6 826.1L1069.7 824.1L1069.9 822.1L1070.1 820.0L1070.2 818.0L1070.4 816.0L1070.6 814.0L1070.7 812.0L1070.9 810.0L1071.1 808.0L1071.2 806.0L1071.4 803.9L1071.5 801.8L1071.7 799.7L1071.9 797.6L1072.0 795.5L1072.2 793.3L1072.4 791.1L1072.5 789.0L1072.7 786.8L1072.8 784.6L1073.0 782.3L1073.2 780.1L1073.3 777.9L1073.5 775.7L1073.7 773.4L1073.8 771.2L1074.0 769.0L1074.1 766.7L1074.3 764.5L1074.4 762.3L1074.6 760.0L1074.7 757.8L1074.9 755.6L1075.1 753.4L1075.2 751.2L1075.4 749.0L1075.5 746.9L1075.6 744.7L1075.8 742.6L1075.9 740.5L1076.1 738.4L1076.2 736.3L1076.4 734.3L1076.5 732.2L1076.6 730.2L1076.8 728.3L1076.9 726.3L1077.0 724.4L1077.2 722.5L1077.3 720.6L1077.4 718.8L1077.5 717.0L1077.6 715.3L1077.8 713.5L1077.9 711.9L1078.0 710.2L1078.1 708.6L1078.2 707.1L1078.3 705.6L1078.4 704.1L1078.5 702.7L1078.6 701.3L1078.7 700.0L1078.9 697.3L1079.1 695.0L1079.2 692.9L1079.3 690.9L1079.5 689.1L1079.6 687.3L1079.7 685.6L1079.8 683.8L1080.0 681.9L1080.1 679.8L1080.3 677.6L1080.5 675.0L1080.6 673.6L1080.7 672.0L1080.8 670.5L1081.0 668.8L1081.1 667.2L1081.2 665.4L1081.4 663.7L1081.5 661.8L1081.7 660.0L1081.8 658.1L1082.0 656.1L1082.2 654.1L1082.3 652.1L1082.5 650.0L1082.7 648.0L1082.8 645.8L1083.0 643.7L1083.2 641.6L1083.4 639.4L1083.5 637.2L1083.7 635.0L1083.9 632.7L1084.1 630.5L1084.3 628.3L1084.4 626.0L1084.6 623.8L1084.8 621.5L1085.0 619.3L1085.2 617.0L1085.4 614.8L1085.5 612.6L1085.7 610.4L1085.9 608.2L1086.1 606.0L1086.2 603.8L1086.4 601.7L1086.6 599.6L1086.7 597.5L1086.9 595.4L1087.1 593.4L1087.2 591.4L1087.4 589.4L1087.5 587.5L1087.7 585.3L1087.8 583.2L1088.0 581.0L1088.1 578.8L1088.3 576.7L1088.5 574.6L1088.6 572.4L1088.8 570.3L1088.9 568.2L1089.1 566.1L1089.2 564.0L1089.4 561.9L1089.5 559.8L1089.7 557.7L1089.8 555.7L1090.0 553.6L1090.1 551.5L1090.3 549.5L1090.4 547.5L1090.5 545.5L1090.7 543.4L1090.8 541.4L1091.0 539.4L1091.1 537.4L1091.2 535.5L1091.4 533.5L1091.5 531.5L1091.6 529.6L1091.8 527.7L1091.9 525.7L1092.0 523.8L1092.2 521.9L1092.3 520.0L1092.4 517.9L1092.6 515.7L1092.7 513.6L1092.9 511.4L1093.0 509.3L1093.1 507.2L1093.3 505.1L1093.4 503.0L1093.5 500.9L1093.7 498.9L1093.8 496.8L1093.9 494.8L1094.0 492.7L1094.2 490.7L1094.3 488.7L1094.4 486.8L1094.6 484.8L1094.7 482.9L1094.8 481.0L1094.9 479.1L1095.1 477.2L1095.2 475.4L1095.3 473.5L1095.5 471.8L1095.6 470.0L1095.8 467.8L1096.0 465.6L1096.1 463.4L1096.3 461.3L1096.5 459.2L1096.7 457.1L1096.9 455.1L1097.1 453.1L1097.3 451.1L1097.4 449.2L1097.6 447.3L1097.8 445.4L1098.0 443.6L1098.1 441.8L1098.3 440.0L1098.5 437.8L1098.7 435.6L1098.9 433.5L1099.1 431.4L1099.2 429.4L1099.4 427.4L1099.6 425.5L1099.7 423.6L1099.9 421.8L1100.1 419.2L1100.3 416.8L1100.5 414.4L1100.8 412.2L1101.0 410.0L1101.3 407.8L1101.5 405.7L1101.8 403.7L1102.2 402.0L1102.7 400.1L1103.4 398.6L1104.0 397.9L1104.6 397.5L1105.4 397.3L1106.2 397.2L1107.0 397.3L1107.8 397.5L1108.4 397.9L1109.0 398.6L1109.7 400.1L1110.2 402.0L1110.5 403.7L1110.8 405.7L1111.1 407.8L1111.3 410.0L1111.5 412.2L1111.7 414.7L1111.8 417.1L1112.0 419.5L1112.2 421.8L1112.5 423.8L1112.8 425.7L1113.2 427.6L1113.5 430.0L1113.7 431.6L1113.8 433.4L1114.0 435.4L1114.1 437.6L1114.3 439.8L1114.4 442.1L1114.5 444.5L1114.7 446.9L1114.8 449.2L1114.9 451.5L1115.1 453.8L1115.2 455.9L1115.4 457.9L1115.6 460.3L1115.8 462.6L1116.1 464.8L1116.3 466.9L1116.6 469.1L1116.8 471.2L1117.0 473.5L1117.2 475.8L1117.3 477.8L1117.5 479.9L1117.6 482.1L1117.7 484.2L1117.8 486.4L1117.9 488.6L1118.0 490.9L1118.1 493.1L1118.2 495.3L1118.3 497.5L1118.4 499.7L1118.5 501.9L1118.7 504.1L1118.8 506.3L1119.0 508.5L1119.2 510.8L1119.3 513.0L1119.5 515.2L1119.6 517.3L1119.8 519.4L1120.0 521.5L1120.1 523.5L1120.3 525.6L1120.4 527.6L1120.6 529.5L1120.7 531.4L1120.9 533.3L1121.0 535.3L1121.2 537.5L1121.3 540.0L1121.4 541.6L1121.5 543.2L1121.6 544.9L1121.6 546.6L1121.7 548.4L1121.8 550.3L1121.9 552.2L1122.0 554.1L1122.0 556.1L1122.1 558.2L1122.2 560.3L1122.3 562.4L1122.4 564.5L1122.4 566.7L1122.5 568.9L1122.6 571.2L1122.7 573.5L1122.8 575.8L1122.9 578.1L1123.0 580.4L1123.1 582.8L1123.2 585.1L1123.3 587.5L1123.4 589.3L1123.5 591.0L1123.6 592.9L1123.6 594.8L1123.7 596.7L1123.8 598.7L1123.9 600.7L1124.0 602.7L1124.1 604.8L1124.2 606.9L1124.3 609.0L1124.4 611.1L1124.5 613.3L1124.6 615.4L1124.8 617.6L1124.9 619.8L1125.0 622.0L1125.1 624.3L1125.2 626.5L1125.3 628.7L1125.4 630.9L1125.5 633.2L1125.6 635.4L1125.8 637.6L1125.9 639.8L1126.0 642.0L1126.1 644.2L1126.2 646.3L1126.3 648.5L1126.4 650.6L1126.5 652.7L1126.7 654.8L1126.8 656.8L1126.9 658.8L1127.0 660.8L1127.1 662.7L1127.2 664.6L1127.3 666.5L1127.4 668.3L1127.5 670.0L1127.6 671.7L1127.7 673.4L1127.8 675.0L1127.9 677.4L1128.1 679.7L1128.2 681.9L1128.4 683.9L1128.5 685.9L1128.6 687.8L1128.8 689.6L1128.9 691.5L1129.1 693.3L1129.2 695.1L1129.3 697.0L1129.5 698.9L1129.6 700.9L1129.7 702.9L1129.9 705.2L1130.0 707.5L1130.2 710.0L1130.3 711.5L1130.4 713.1L1130.5 714.6L1130.6 716.3L1130.7 717.9L1130.8 719.6L1130.9 721.4L1131.0 723.2L1131.1 725.0L1131.2 726.8L1131.3 728.7L1131.4 730.6L1131.5 732.5L1131.6 734.4L1131.7 736.4L1131.8 738.4L1131.9 740.4L1132.0 742.4L1132.1 744.5L1132.2 746.6L1132.3 748.6L1132.4 750.7L1132.5 752.9L1132.6 755.0L1132.7 757.1L1132.9 759.3L1133.0 761.4L1133.1 763.6L1133.2 765.7L1133.3 767.9L1133.4 770.1L1133.5 772.3L1133.6 774.4L1133.8 776.6L1133.9 778.8L1134.0 780.9L1134.1 783.1L1134.2 785.2L1134.3 787.4L1134.4 789.5L1134.6 791.6L1134.7 793.7L1134.8 795.8L1134.9 797.9L1135.0 800.0L1135.1 802.0L1135.3 804.1L1135.4 806.1L1135.5 808.0L1135.6 810.0L1135.7 812.0L1135.8 814.1L1136.0 816.1L1136.1 818.1L1136.2 820.2L1136.3 822.2L1136.5 824.2L1136.6 826.2L1136.7 828.2L1136.8 830.1L1137.0 832.1L1137.1 834.1L1137.2 836.1L1137.4 838.1L1137.5 840.0L1137.6 842.0L1137.7 843.9L1137.9 845.9L1138.0 847.9L1138.1 849.8L1138.3 851.8L1138.4 853.8L1138.5 855.7L1138.6 857.7L1138.8 859.6L1138.9 861.6L1139.0 863.6L1139.2 865.6L1139.3 867.5L1139.4 869.5L1139.6 871.5L1139.7 873.5L1139.8 875.5L1140.0 877.5L1140.1 879.5L1140.3 881.5L1140.4 883.5L1140.5 885.5L1140.7 887.6L1140.8 889.6L1140.9 891.7L1141.1 893.7L1141.2 895.8L1141.4 897.9L1141.5 900.0L1141.6 901.9L1141.8 903.8L1141.9 905.7L1142.0 907.7L1142.2 909.6L1142.3 911.6L1142.4 913.5L1142.6 915.5L1142.7 917.5L1142.8 919.5L1143.0 921.5L1143.1 923.5L1143.3 925.5L1143.4 927.5L1143.5 929.5L1143.7 931.5L1143.8 933.5L1144.0 935.6L1144.1 937.6L1144.3 939.7L1144.4 941.7L1144.6 943.7L1144.7 945.8L1144.8 947.8L1145.0 949.9L1145.1 951.9L1145.3 954.0L1145.4 956.0L1145.6 958.1L1145.7 960.1L1145.9 962.2L1146.0 964.2L1146.1 966.3L1146.3 968.3L1146.4 970.3L1146.6 972.4L1146.7 974.4L1146.8 976.4L1147.0 978.5L1147.1 980.5L1147.3 982.5L1147.4 984.5L1147.5 986.5L1147.7 988.5L1147.8 990.5L1147.9 992.5L1148.0 994.5L1148.2 996.5L1148.3 998.4L1148.4 1000.4L1148.5 1002.3L1148.7 1004.3L1148.8 1006.2L1148.9 1008.1L1149.0 1010.0L1149.1 1012.1L1149.2 1014.2L1149.4 1016.3L1149.5 1018.4L1149.6 1020.5L1149.7 1022.7L1149.8 1024.8L1149.9 1026.9L1150.1 1029.0L1150.2 1031.1L1150.3 1033.2L1150.4 1035.3L1150.5 1037.4L1150.6 1039.5L1150.7 1041.6L1150.8 1043.7L1150.9 1045.8L1151.0 1047.9L1151.1 1050.0L1151.2 1052.1L1151.3 1054.1L1151.4 1056.2L1151.5 1058.2L1151.6 1060.3L1151.7 1062.3L1151.8 1064.3L1151.9 1066.3L1152.0 1068.3L1152.1 1070.3L1152.2 1072.3L1152.3 1074.2L1152.4 1076.2L1152.5 1078.1L1152.5 1080.0L1152.6 1081.9L1152.7 1083.8L1152.8 1085.7L1152.9 1087.5L1153.0 1089.4L1153.1 1091.2L1153.2 1093.0L1153.2 1094.8L1153.3 1096.5L1153.4 1098.3L1153.5 1100.0L1153.6 1102.3L1153.7 1104.5L1153.8 1106.7L1153.9 1108.8L1154.0 1110.9L1154.1 1113.0L1154.2 1115.1L1154.3 1117.1L1154.4 1119.1L1154.5 1121.1L1154.6 1123.0L1154.7 1124.9L1154.8 1126.9L1154.9 1128.8L1155.0 1130.7L1155.1 1132.6L1155.2 1134.5L1155.3 1136.4L1155.4 1138.3L1155.5 1140.2L1155.6 1142.2L1155.7 1144.1L1155.8 1146.0L1155.9 1148.0L1156.0 1150.0L1156.1 1152.0L1156.2 1154.0L1156.3 1156.0L1156.4 1158.0L1156.5 1160.0L1156.6 1162.0L1156.7 1164.0L1156.8 1166.0L1156.9 1168.0L1157.0 1170.0L1157.1 1172.0L1157.2 1174.0L1157.3 1176.0L1157.4 1178.0L1157.6 1180.0L1157.7 1182.0L1157.8 1184.0L1157.9 1186.0L1158.1 1188.0L1158.2 1190.0L1158.3 1192.0L1158.5 1194.0L1158.7 1196.0L1158.8 1198.0L1159.0 1200.0L1159.2 1202.0L1159.4 1204.0L1159.6 1206.0L1159.8 1208.1L1160.0 1210.1L1160.2 1212.1L1160.4 1214.2L1160.6 1216.2L1160.9 1218.2L1161.1 1220.3L1161.3 1222.3L1161.6 1224.4L1161.8 1226.4L1162.1 1228.4L1162.3 1230.4L1162.6 1232.4L1162.8 1234.4L1163.1 1236.4L1163.4 1238.4L1163.6 1240.4L1163.9 1242.3L1164.2 1244.3L1164.4 1246.2L1164.7 1248.1L1165.0 1250.0L1165.3 1252.1L1165.6 1254.3L1166.0 1256.4L1166.3 1258.5L1166.6 1260.7L1167.0 1262.8L1167.3 1264.9L1167.7 1267.0L1168.0 1269.1L1168.4 1271.2L1168.8 1273.2L1169.1 1275.2L1169.5 1277.2L1169.9 1279.2L1170.2 1281.1L1170.6 1283.0L1170.9 1284.8L1171.3 1286.6L1171.6 1288.3L1172.0 1290.0L1172.5 1292.3L1173.0 1294.5L1173.4 1296.5L1173.9 1298.5L1174.4 1300.5L1174.9 1302.4L1175.4 1304.2L1175.9 1306.1L1176.4 1308.0L1177.0 1310.0L1177.6 1312.0L1178.2 1314.0L1178.9 1316.1L1179.5 1318.1L1180.2 1320.1L1180.9 1322.1L1181.6 1324.1L1182.4 1326.1L1183.2 1328.1L1184.0 1330.0L1184.9 1331.9L1185.8 1333.8L1186.7 1335.6L1187.6 1337.5L1188.6 1339.3L1189.7 1341.1L1190.7 1342.9L1191.8 1344.6L1192.9 1346.3L1194.0 1348.0L1195.2 1349.7L1196.4 1351.4L1197.7 1353.1L1199.0 1354.7L1200.3 1356.3L1201.7 1357.8L1203.1 1359.3L1204.5 1360.7L1206.0 1362.0L1207.6 1363.3L1209.2 1364.6L1210.9 1365.8L1212.6 1366.9L1214.4 1368.0L1216.2 1369.0L1218.1 1370.0L1220.0 1371.0L1221.8 1371.8L1223.7 1372.7L1225.7 1373.4L1227.7 1374.2L1229.7 1374.9L1231.8 1375.5L1233.8 1376.2L1235.9 1376.8L1238.0 1377.4L1240.0 1378.0L1242.0 1378.5L1244.0 1379.1L1246.0 1379.5L1248.0 1380.0L1250.0 1380.4L1252.0 1380.8L1254.0 1381.2L1256.0 1381.6L1258.0 1382.0L1260.0 1382.4L1262.0 1382.8L1264.0 1383.1L1266.0 1383.5L1268.0 1383.8L1270.0 1384.1L1272.0 1384.5L1274.0 1384.8L1276.0 1385.1L1278.0 1385.3L1280.0 1385.6L1281.9 1385.8L1283.7 1386.1L1285.5 1386.3L1287.3 1386.5L1289.0 1386.7L1290.9 1386.9L1292.9 1387.0L1295.0 1387.2L1297.4 1387.4L1300.0 1387.6L1301.3 1387.7L1302.6 1387.8L1303.9 1387.9L1305.4 1388.0L1306.8 1388.1L1308.3 1388.2L1309.9 1388.3L1311.5 1388.4L1313.1 1388.5L1314.8 1388.6L1316.6 1388.7L1318.3 1388.8L1320.1 1388.9L1322.0 1389.0L1323.8 1389.1L1325.8 1389.2L1327.7 1389.3L1329.7 1389.4L1331.7 1389.5L1333.7 1389.6L1335.7 1389.7L1337.8 1389.8L1339.9 1389.9L1342.0 1390.0L1344.2 1390.1L1346.3 1390.2L1348.5 1390.3L1350.7 1390.4L1352.9 1390.5L1355.1 1390.6L1357.3 1390.6L1359.6 1390.7L1361.8 1390.8L1364.1 1390.9L1366.4 1391.0L1368.6 1391.1L1370.9 1391.2L1373.2 1391.2L1375.4 1391.3L1377.7 1391.4L1380.0 1391.5L1382.2 1391.5L1384.5 1391.6L1386.7 1391.7L1389.0 1391.7L1391.2 1391.8L1393.4 1391.8L1395.6 1391.9L1397.8 1392.0L1400.0 1392.0L1401.8 1392.0L1403.7 1392.1L1405.6 1392.1L1407.4 1392.1L1409.3 1392.2L1411.2 1392.2L1413.2 1392.2L1415.1 1392.3L1417.1 1392.3L1419.0 1392.3L1421.0 1392.3L1423.0 1392.3L1424.9 1392.4L1426.9 1392.4L1428.9 1392.4L1431.0 1392.4L1433.0 1392.4L1435.0 1392.4L1437.0 1392.4L1439.1 1392.4L1441.1 1392.5L1443.2 1392.5L1445.3 1392.5L1447.3 1392.5L1449.4 1392.5L1451.5 1392.5L1453.6 1392.5L1455.6 1392.5L1457.7 1392.5L1459.8 1392.5L1461.9 1392.5L1464.0 1392.5L1466.1 1392.4L1468.2 1392.4L1470.3 1392.4L1472.4 1392.4L1474.4 1392.4L1476.5 1392.4L1478.6 1392.4L1480.7 1392.4L1482.8 1392.4L1484.9 1392.3L1486.9 1392.3L1489.0 1392.3L1491.1 1392.3L1493.1 1392.3L1495.2 1392.3L1497.3 1392.2L1499.3 1392.2L1501.3 1392.2L1503.4 1392.2L1505.4 1392.2L1507.4 1392.1L1509.4 1392.1L1511.4 1392.1L1513.4 1392.1L1515.4 1392.0L1517.4 1392.0L1519.3 1392.0L1521.3 1392.0L1523.2 1391.9L1525.1 1391.9L1527.0 1391.9L1528.9 1391.9L1530.8 1391.8L1532.7 1391.8L1534.5 1391.8L1536.4 1391.8L1538.2 1391.7L1540.0 1391.7L1542.2 1391.7L1544.4 1391.6L1546.5 1391.6L1548.7 1391.6L1550.8 1391.5L1552.9 1391.5L1555.0 1391.4L1557.1 1391.4L1559.2 1391.3L1561.2 1391.3L1563.3 1391.2L1565.3 1391.2L1567.4 1391.1L1569.4 1391.1L1571.4 1391.0L1573.4 1391.0L1575.4 1390.9L1577.4 1390.8L1579.4 1390.8L1581.4 1390.7L1583.3 1390.7L1585.3 1390.6L1587.3 1390.5L1589.2 1390.5L1591.2 1390.4L1593.1 1390.4L1595.0 1390.3L1597.0 1390.2L1598.9 1390.2L1600.9 1390.1L1602.8 1390.0L1604.7 1390.0L1606.7 1389.9L1608.6 1389.8L1610.5 1389.8L1612.5 1389.7L1614.4 1389.6L1616.3 1389.6L1618.3 1389.5L1620.2 1389.4L1622.2 1389.4L1624.1 1389.3L1626.1 1389.2L1628.1 1389.2L1630.0 1389.1L1632.0 1389.1L1634.0 1389.0L1636.0 1388.9L1638.0 1388.9L1640.0 1388.8L1642.0 1388.7L1644.0 1388.7L1646.0 1388.6L1648.1 1388.5L1650.1 1388.5L1652.1 1388.4L1654.1 1388.3L1656.1 1388.3L1658.1 1388.2L1660.1 1388.1L1662.1 1388.1L1664.1 1388.0L1666.1 1387.9L1668.1 1387.8L1670.1 1387.8L1672.1 1387.7L1674.1 1387.6L1676.1 1387.6L1678.1 1387.5L1680.1 1387.4L1682.1 1387.3L1684.1 1387.3L1686.1 1387.2L1688.0 1387.1L1690.0 1387.1L1692.0 1387.0L1694.0 1386.9L1696.0 1386.9L1698.0 1386.8L1700.0 1386.7L1702.0 1386.7L1704.0 1386.6L1706.0 1386.5L1708.0 1386.5L1710.0 1386.4L1712.0 1386.4L1714.0 1386.3L1716.0 1386.3L1718.0 1386.2L1720.0 1386.1L1722.0 1386.1L1724.0 1386.0L1726.0 1386.0L1728.0 1386.0L1730.0 1385.9L1732.0 1385.9L1734.0 1385.8L1736.1 1385.8L1738.1 1385.7L1740.1 1385.7L1742.2 1385.7L1744.2 1385.6L1746.2 1385.6L1748.3 1385.6L1750.3 1385.5L1752.4 1385.5L1754.4 1385.5L1756.4 1385.4L1758.5 1385.4L1760.5 1385.4L1762.6 1385.3L1764.6 1385.3L1766.7 1385.3L1768.7 1385.2L1770.7 1385.2L1772.8 1385.2L1774.8 1385.2L1776.8 1385.1L1778.9 1385.1L1780.9 1385.1L1782.9 1385.1L1784.9 1385.1L1786.9 1385.0L1788.9 1385.0L1790.9 1385.0L1792.9 1385.0L1794.9 1385.0L1796.9 1384.9L1798.8 1384.9L1800.8 1384.9L1802.7 1384.9L1804.7 1384.9L1806.6 1384.9L1808.5 1384.9L1810.5 1384.8L1812.4 1384.8L1814.2 1384.8L1816.1 1384.8L1818.0 1384.8L1820.2 1384.8L1822.5 1384.8L1824.8 1384.8L1827.2 1384.8L1829.7 1384.8L1832.3 1384.8L1834.9 1384.8L1837.5 1384.8L1840.1 1384.8L1842.8 1384.8L1845.4 1384.8L1848.1 1384.8L1850.8 1384.8L1853.4 1384.8L1856.0 1384.8L1858.6 1384.8L1861.1 1384.8L1863.6 1384.9L1866.0 1384.9L1868.3 1384.9L1870.5 1384.9L1872.7 1384.9L1874.7 1384.9L1876.7 1384.9L1878.5 1384.9L1880.2 1384.9L1881.7 1385.0L1883.1 1385.0L1884.4 1385.0L1885.4 1385.0L1886.3 1385.0L1887.0 1385.0L1887.6 1385.0L1887.9 1385.0L1888.0 1385.0"/>
<path stroke="#00ff00" d="M358.0 1394.0L358.4 1393.9L359.6 1393.6L361.3 1393.1L363.5 1392.6L365.9 1392.0L368.6 1391.5L371.2 1391.1L373.7 1391.0L376.0 1391.0L378.0 1391.3L380.0 1392.0L382.0 1392.8L384.1 1393.8L386.2 1394.8L388.3 1395.9L390.3 1396.9L392.3 1397.8L394.3 1398.5L396.2 1398.9L398.0 1399.0L400.2 1398.6L402.3 1397.7L404.3 1396.5L406.3 1395.2L408.2 1393.9L410.1 1392.8L412.0 1392.0L414.0 1391.5L415.8 1391.2L417.6 1391.1L419.6 1391.0L422.0 1391.0L423.4 1391.0L425.0 1391.1L426.6 1391.1L428.4 1391.3L430.2 1391.4L432.2 1391.6L434.2 1391.8L436.2 1392.0L438.3 1392.2L440.5 1392.4L442.7 1392.6L444.9 1392.8L447.1 1393.0L449.3 1393.3L451.5 1393.4L453.7 1393.6L455.8 1393.8L457.9 1393.9L460.0 1394.0L462.0 1394.1L464.0 1394.1L465.9 1394.2L467.9 1394.3L469.9 1394.3L471.9 1394.3L473.9 1394.4L475.9 1394.4L477.9 1394.4L479.9 1394.4L481.9 1394.4L484.0 1394.4L486.0 1394.4L488.0 1394.4L490.0 1394.3L492.0 1394.3L494.0 1394.2L496.0 1394.2L498.0 1394.1L500.0 1394.0L502.0 1393.9L504.0 1393.8L505.9 1393.7L507.9 1393.5L509.8 1393.3L511.7 1393.2L513.7 1393.0L515.6 1392.8L517.6 1392.6L519.5 1392.4L521.4 1392.2L523.4 1392.0L525.4 1391.8L527.4 1391.6L529.4 1391.4L531.5 1391.2L533.6 1391.0L535.7 1390.8L537.8 1390.6L540.0 1390.5L541.8 1390.4L543.7 1390.3L545.6 1390.2L547.5 1390.0L549.4 1389.9L551.4 1389.8L553.4 1389.7L555.4 1389.6L557.5 1389.5L559.5 1389.4L561.6 1389.3L563.7 1389.2L565.8 1389.1L567.9 1389.0L570.0 1389.0L572.1 1388.9L574.2 1388.8L576.3 1388.7L578.4 1388.6L580.4 1388.6L582.5 1388.5L584.5 1388.4L586.6 1388.4L588.6 1388.3L590.6 1388.2L592.5 1388.2L594.4 1388.1L596.3 1388.1L598.2 1388.0L600.0 1388.0L602.2 1388.0L604.3 1387.9L606.4 1387.9L608.4 1387.9L610.4 1387.8L612.3 1387.8L614.3 1387.8L616.2 1387.8L618.1 1387.8L620.0 1387.8L621.9 1387.8L623.8 1387.8L625.7 1387.8L627.7 1387.9L629.6 1387.9L631.6 1387.9L633.6 1387.9L635.7 1387.9L637.8 1388.0L640.0 1388.0L641.8 1388.0L643.7 1388.0L645.6 1388.1L647.6 1388.1L649.5 1388.1L651.6 1388.1L653.6 1388.1L655.7 1388.1L657.8 1388.1L659.9 1388.1L662.0 1388.1L664.1 1388.1L666.3 1388.1L668.4 1388.2L670.6 1388.2L672.7 1388.2L674.8 1388.3L676.9 1388.3L679.0 1388.3L681.1 1388.4L683.2 1388.5L685.2 1388.5L687.2 1388.6L689.1 1388.7L691.1 1388.8L693.0 1388.9L694.8 1389.0L696.6 1389.2L698.3 1389.3L700.0 1389.5L702.3 1389.8L704.5 1390.1L706.7 1390.5L708.8 1390.9L710.8 1391.3L712.8 1391.7L714.7 1392.2L716.6 1392.7L718.5 1393.1L720.4 1393.5L722.3 1393.9L724.2 1394.3L726.1 1394.6L728.0 1394.8L730.0 1395.0L732.0 1395.1L734.0 1395.2L735.9 1395.2L737.9 1395.2L739.8 1395.2L741.8 1395.1L743.7 1395.0L745.7 1394.9L747.7 1394.8L749.7 1394.6L751.7 1394.5L753.7 1394.3L755.8 1394.2L757.9 1394.1L760.0 1394.0L761.9 1393.9L763.7 1393.8L765.6 1393.8L767.5 1393.7L769.4 1393.6L771.3 1393.5L773.3 1393.4L775.2 1393.3L777.2 1393.2L779.1 1393.1L781.1 1393.0L783.1 1392.9L785.2 1392.8L787.2 1392.7L789.3 1392.5L791.4 1392.4L793.5 1392.3L795.6 1392.2L797.8 1392.1L800.0 1392.0L801.8 1391.9L803.7 1391.8L805.6 1391.7L807.5 1391.6L809.4 1391.6L811.4 1391.5L813.4 1391.4L815.4 1391.3L817.5 1391.2L819.6 1391.1L821.6 1391.0L823.7 1390.9L825.8 1390.9L827.9 1390.8L830.0 1390.7L832.1 1390.6L834.2 1390.5L836.3 1390.4L838.4 1390.3L840.5 1390.2L842.5 1390.1L844.6 1390.0L846.6 1389.9L848.6 1389.7L850.6 1389.6L852.5 1389.5L854.4 1389.4L856.3 1389.3L858.2 1389.1L860.0 1389.0L862.2 1388.8L864.4 1388.7L866.5 1388.5L868.7 1388.4L870.8 1388.2L872.9 1388.0L875.0 1387.9L877.1 1387.7L879.1 1387.5L881.2 1387.3L883.2 1387.2L885.2 1387.0L887.1 1386.8L889.0 1386.5L890.9 1386.3L892.8 1386.1L894.6 1385.8L896.5 1385.6L898.2 1385.3L900.0 1385.0L902.2 1384.6L904.4 1384.2L906.5 1383.7L908.5 1383.3L910.5 1382.8L912.4 1382.3L914.3 1381.8L916.3 1381.2L918.2 1380.7L920.1 1380.1L922.0 1379.6L924.0 1379.0L926.0 1378.4L928.0 1377.8L930.0 1377.2L932.1 1376.6L934.1 1376.0L936.1 1375.4L938.1 1374.7L940.1 1374.0L942.1 1373.3L944.1 1372.6L946.0 1371.8L948.0 1371.0L949.9 1370.2L951.7 1369.4L953.6 1368.6L955.4 1367.7L957.3 1366.9L959.2 1366.0L961.0 1365.0L962.8 1364.1L964.6 1363.1L966.4 1362.1L968.2 1361.1L969.9 1360.1L971.6 1359.0L973.4 1357.8L975.2 1356.7L976.9 1355.5L978.7 1354.3L980.4 1353.1L982.1 1351.8L983.8 1350.5L985.4 1349.1L986.9 1347.7L988.5 1346.3L989.9 1344.8L991.3 1343.2L992.6 1341.6L993.8 1340.0L994.9 1338.2L996.0 1336.4L997.1 1334.6L998.1 1332.7L999.0 1330.8L1000.0 1328.9L1000.9 1327.0L1001.8 1325.0L1002.7 1323.1L1003.5 1321.2L1004.4 1319.3L1005.3 1317.3L1006.1 1315.4L1006.9 1313.4L1007.7 1311.4L1008.5 1309.5L1009.2 1307.5L1010.0 1305.5L1010.7 1303.5L1011.4 1301.5L1012.0 1299.5L1012.7 1297.5L1013.4 1295.5L1014.1 1293.5L1014.7 1291.5L1015.3 1289.6L1015.9 1287.6L1016.5 1285.6L1017.1 1283.6L1017.7 1281.6L1018.3 1279.6L1018.9 1277.6L1019.4 1275.6L1020.0 1273.6L1020.5 1271.6L1021.0 1269.6L1021.5 1267.6L1022.0 1265.6L1022.5 1263.6L1023.0 1261.6L1023.4 1259.6L1023.9 1257.7L1024.3 1255.7L1024.8 1253.7L1025.3 1251.7L1025.8 1249.7L1026.3 1247.7L1026.8 1245.7L1027.4 1243.7L1028.0 1241.7L1028.6 1239.8L1029.2 1237.8L1029.8 1235.8L1030.4 1233.8L1031.0 1231.9L1031.6 1229.9L1032.1 1227.9L1032.6 1225.9L1033.0 1223.9L1033.4 1222.0L1033.7 1220.0L1034.0 1218.2L1034.2 1216.3L1034.4 1214.4L1034.6 1212.5L1034.8 1210.6L1035.0 1208.6L1035.2 1206.6L1035.4 1204.5L1035.7 1202.3L1036.0 1200.0L1036.2 1198.3L1036.5 1196.6L1036.7 1194.8L1037.0 1193.0L1037.3 1191.2L1037.6 1189.3L1037.9 1187.3L1038.2 1185.3L1038.5 1183.3L1038.8 1181.3L1039.1 1179.3L1039.4 1177.2L1039.7 1175.1L1040.1 1173.0L1040.4 1170.9L1040.7 1168.8L1041.0 1166.6L1041.4 1164.5L1041.7 1162.4L1042.0 1160.3L1042.3 1158.2L1042.6 1156.1L1042.9 1154.1L1043.2 1152.0L1043.5 1150.0L1043.8 1148.0L1044.1 1146.0L1044.3 1144.1L1044.6 1142.2L1044.9 1140.2L1045.1 1138.3L1045.4 1136.4L1045.6 1134.5L1045.9 1132.6L1046.2 1130.7L1046.4 1128.8L1046.7 1126.9L1046.9 1125.0L1047.2 1123.0L1047.4 1121.1L1047.7 1119.1L1047.9 1117.1L1048.2 1115.1L1048.4 1113.0L1048.7 1110.9L1049.0 1108.8L1049.2 1106.7L1049.5 1104.5L1049.7 1102.3L1050.0 1100.0L1050.2 1098.3L1050.4 1096.5L1050.6 1094.8L1050.8 1093.0L1051.0 1091.2L1051.2 1089.3L1051.4 1087.5L1051.6 1085.6L1051.8 1083.7L1052.0 1081.8L1052.2 1079.8L1052.4 1077.9L1052.6 1075.9L1052.8 1073.9L1053.0 1072.0L1053.2 1069.9L1053.4 1067.9L1053.6 1065.9L1053.9 1063.9L1054.1 1061.8L1054.3 1059.8L1054.5 1057.7L1054.7 1055.6L1054.9 1053.5L1055.1 1051.4L1055.3 1049.4L1055.5 1047.3L1055.7 1045.2L1055.9 1043.1L1056.1 1041.0L1056.3 1038.9L1056.5 1036.8L1056.7 1034.7L1056.9 1032.6L1057.1 1030.5L1057.3 1028.4L1057.5 1026.3L1057.7 1024.3L1057.9 1022.2L1058.1 1020.1L1058.3 1018.1L1058.5 1016.1L1058.7 1014.0L1058.9 1012.0L1059.1 1010.0L1059.3 1008.0L1059.5 1006.0L1059.7 1004.0L1059.9 1002.0L1060.1 1000.1L1060.2 998.1L1060.4 996.1L1060.6 994.1L1060.8 992.1L1061.0 990.2L1061.2 988.2L1061.4 986.2L1061.6 984.3L1061.8 982.3L1061.9 980.3L1062.1 978.4L1062.3 976.4L1062.5 974.4L1062.7 972.5L1062.9 970.5L1063.0 968.5L1063.2 966.6L1063.4 964.6L1063.6 962.6L1063.8 960.6L1064.0 958.6L1064.1 956.7L1064.3 954.7L1064.5 952.7L1064.7 950.7L1064.9 948.7L1065.0 946.7L1065.2 944.7L1065.4 942.6L1065.6 940.6L1065.8 938.6L1066.0 936.5L1066.1 934.5L1066.3 932.5L1066.5 930.4L1066.7 928.3L1066.9 926.3L1067.0 924.2L1067.2 922.1L1067.4 920.0L1067.6 918.1L1067.7 916.2L1067.9 914.3L1068.1 912.3L1068.2 910.4L1068.4 908.4L1068.6 906.5L1068.7 904.5L1068.9 902.5L1069.0 900.5L1069.2 898.5L1069.4 896.5L1069.5 894.5L1069.7 892.5L1069.9 890.5L1070.0 888.5L1070.2 886.5L1070.4 884.4L1070.5 882.4L1070.7 880.4L1070.9 878.3L1071.0 876.3L1071.2 874.2L1071.4 872.2L1071.5 870.1L1071.7 868.1L1071.9 866.0L1072.0 864.0L1072.2 861.9L1072.3 859.9L1072.5 857.8L1072.7 855.8L1072.8 853.7L1073.0 851.7L1073.1 849.7L1073.3 847.6L1073.5 845.6L1073.6 843.6L1073.8 841.5L1073.9 839.5L1074.1 837.5L1074.3 835.5L1074.4 833.5L1074.6 831.5L1074.7 829.5L1074.9 827.5L1075.0 825.5L1075.2 823.5L1075.3 821.6L1075.5 819.6L1075.6 817.7L1075.8 815.7L1075.9 813.8L1076.1 811.9L1076.2 810.0L1076.4 807.9L1076.5 805.8L1076.7 803.7L1076.8 801.6L1077.0 799.4L1077.1 797.3L1077.3 795.2L1077.5 793.1L1077.6 790.9L1077.8 788.8L1077.9 786.7L1078.1 784.6L1078.2 782.4L1078.4 780.3L1078.5 778.2L1078.7 776.1L1078.8 774.0L1079.0 771.9L1079.1 769.8L1079.3 767.7L1079.4 765.6L1079.6 763.5L1079.7 761.5L1079.9 759.4L1080.0 757.4L1080.2 755.4L1080.3 753.3L1080.4 751.3L1080.6 749.4L1080.7 747.4L1080.9 745.4L1081.0 743.5L1081.1 741.6L1081.3 739.6L1081.4 737.8L1081.5 735.9L1081.6 734.0L1081.8 732.2L1081.9 730.4L1082.0 728.6L1082.1 726.8L1082.3 725.1L1082.4 723.4L1082.5 721.7L1082.6 720.0L1082.8 717.6L1082.9 715.4L1083.1 713.2L1083.2 711.1L1083.3 709.0L1083.4 707.0L1083.6 705.1L1083.7 703.1L1083.8 701.2L1083.9 699.3L1084.0 697.5L1084.1 695.6L1084.3 693.7L1084.4 691.8L1084.5 689.9L1084.6 687.9L1084.8 685.9L1084.9 683.9L1085.0 681.8L1085.2 679.6L1085.3 677.3L1085.5 675.0L1085.6 673.3L1085.8 671.5L1085.9 669.7L1086.0 667.9L1086.2 666.1L1086.3 664.2L1086.4 662.3L1086.6 660.3L1086.7 658.4L1086.9 656.4L1087.1 654.4L1087.2 652.4L1087.4 650.3L1087.5 648.2L1087.7 646.2L1087.9 644.1L1088.0 642.0L1088.2 639.8L1088.4 637.7L1088.6 635.6L1088.7 633.4L1088.9 631.3L1089.1 629.1L1089.3 627.0L1089.4 624.8L1089.6 622.6L1089.8 620.5L1090.0 618.3L1090.1 616.2L1090.3 614.0L1090.5 611.9L1090.6 609.8L1090.8 607.7L1091.0 605.6L1091.1 603.5L1091.3 601.4L1091.5 599.4L1091.6 597.3L1091.8 595.3L1091.9 593.3L1092.1 591.4L1092.3 589.4L1092.4 587.5L1092.6 585.3L1092.7 583.2L1092.9 581.0L1093.1 578.8L1093.2 576.7L1093.4 574.5L1093.5 572.4L1093.7 570.2L1093.9 568.1L1094.0 566.0L1094.2 563.8L1094.3 561.7L1094.5 559.6L1094.6 557.5L1094.8 555.4L1094.9 553.4L1095.1 551.3L1095.2 549.2L1095.4 547.2L1095.5 545.2L1095.7 543.1L1095.8 541.1L1096.0 539.1L1096.1 537.2L1096.3 535.2L1096.4 533.2L1096.6 531.3L1096.7 529.4L1096.8 527.5L1097.0 525.6L1097.1 523.7L1097.3 521.8L1097.4 520.0L1097.6 517.8L1097.7 515.5L1097.9 513.2L1098.1 511.0L1098.3 508.7L1098.4 506.4L1098.6 504.2L1098.8 502.0L1098.9 499.7L1099.1 497.6L1099.3 495.4L1099.4 493.3L1099.6 491.2L1099.8 489.2L1099.9 487.3L1100.1 485.4L1100.2 483.5L1100.4 481.8L1100.5 480.1L1100.6 478.5L1100.8 476.9L1100.9 475.5L1101.1 473.1L1101.3 470.9L1101.5 469.0L1101.7 467.2L1101.9 465.4L1102.1 463.5L1102.4 461.5L1102.7 459.5L1103.0 457.5L1103.3 455.6L1103.5 453.6L1103.8 451.6L1104.1 449.2L1104.3 446.8L1104.5 444.5L1104.7 442.2L1104.9 440.0L1105.1 437.8L1105.3 435.7L1105.5 433.8L1105.8 432.0L1106.4 429.8L1107.2 428.0L1107.8 427.1L1108.6 426.5L1109.5 426.1L1110.4 426.0L1111.3 426.1L1112.2 426.5L1113.0 427.1L1113.6 428.0L1114.4 429.8L1115.0 432.0L1115.3 433.8L1115.4 435.7L1115.6 437.8L1115.7 440.0L1115.8 442.2L1115.9 444.5L1116.0 446.9L1116.2 449.2L1116.4 451.6L1116.7 453.6L1117.0 455.6L1117.4 457.5L1117.7 459.5L1118.1 461.5L1118.4 463.5L1118.6 465.4L1118.9 467.3L1119.0 469.2L1119.2 471.2L1119.4 473.3L1119.6 475.5L1119.8 477.2L1119.9 479.1L1120.1 481.1L1120.3 483.1L1120.4 485.2L1120.6 487.4L1120.8 489.5L1120.9 491.7L1121.1 493.8L1121.3 496.0L1121.4 498.0L1121.6 500.0L1121.8 502.0L1121.9 503.9L1122.1 505.8L1122.2 507.6L1122.4 509.4L1122.5 511.2L1122.7 513.2L1122.8 515.3L1123.0 517.5L1123.2 520.0L1123.3 521.5L1123.4 523.0L1123.6 524.6L1123.7 526.3L1123.8 528.0L1123.9 529.7L1124.1 531.5L1124.2 533.4L1124.4 535.3L1124.5 537.2L1124.7 539.2L1124.8 541.2L1125.0 543.3L1125.1 545.4L1125.3 547.5L1125.5 549.6L1125.6 551.8L1125.8 554.0L1126.0 556.2L1126.1 558.4L1126.3 560.6L1126.5 562.9L1126.6 565.1L1126.8 567.4L1127.0 569.6L1127.1 571.9L1127.3 574.2L1127.5 576.4L1127.6 578.7L1127.8 580.9L1128.0 583.1L1128.1 585.3L1128.3 587.5L1128.4 589.4L1128.6 591.4L1128.7 593.4L1128.9 595.4L1129.0 597.4L1129.2 599.5L1129.4 601.5L1129.5 603.6L1129.7 605.8L1129.8 607.9L1130.0 610.0L1130.2 612.2L1130.3 614.4L1130.5 616.6L1130.6 618.7L1130.8 620.9L1131.0 623.1L1131.1 625.3L1131.3 627.5L1131.5 629.7L1131.6 631.9L1131.8 634.1L1132.0 636.3L1132.1 638.4L1132.3 640.6L1132.4 642.7L1132.6 644.8L1132.7 646.9L1132.9 649.0L1133.1 651.1L1133.2 653.1L1133.4 655.1L1133.5 657.1L1133.6 659.1L1133.8 661.0L1133.9 662.9L1134.1 664.7L1134.2 666.5L1134.3 668.3L1134.4 670.1L1134.6 671.8L1134.7 673.4L1134.8 675.0L1135.0 677.4L1135.1 679.7L1135.3 681.9L1135.4 683.9L1135.6 685.9L1135.7 687.8L1135.8 689.6L1136.0 691.5L1136.1 693.3L1136.2 695.1L1136.3 697.0L1136.5 698.9L1136.6 700.9L1136.7 703.0L1136.9 705.2L1137.0 707.5L1137.2 710.0L1137.3 711.5L1137.4 713.1L1137.5 714.6L1137.6 716.3L1137.7 717.9L1137.8 719.6L1137.9 721.4L1138.0 723.2L1138.2 725.0L1138.3 726.8L1138.4 728.7L1138.5 730.6L1138.6 732.5L1138.8 734.4L1138.9 736.4L1139.0 738.4L1139.1 740.4L1139.2 742.4L1139.4 744.5L1139.5 746.6L1139.6 748.6L1139.8 750.7L1139.9 752.9L1140.0 755.0L1140.2 757.1L1140.3 759.3L1140.4 761.4L1140.6 763.6L1140.7 765.7L1140.8 767.9L1141.0 770.1L1141.1 772.3L1141.2 774.4L1141.4 776.6L1141.5 778.8L1141.7 780.9L1141.8 783.1L1141.9 785.2L1142.1 787.4L1142.2 789.5L1142.3 791.6L1142.5 793.7L1142.6 795.8L1142.8 797.9L1142.9 800.0L1143.0 802.0L1143.2 804.1L1143.3 806.1L1143.5 808.0L1143.6 810.0L1143.7 812.0L1143.9 814.1L1144.0 816.1L1144.2 818.1L1144.3 820.2L1144.5 822.2L1144.7 824.2L1144.8 826.2L1145.0 828.2L1145.1 830.1L1145.3 832.1L1145.4 834.1L1145.6 836.1L1145.8 838.1L1145.9 840.0L1146.1 842.0L1146.2 843.9L1146.4 845.9L1146.6 847.9L1146.7 849.8L1146.9 851.8L1147.1 853.8L1147.2 855.7L1147.4 857.7L1147.5 859.6L1147.7 861.6L1147.9 863.6L1148.0 865.5L1148.2 867.5L1148.3 869.5L1148.5 871.5L1148.7 873.5L1148.8 875.5L1149.0 877.5L1149.1 879.5L1149.3 881.5L1149.4 883.5L1149.6 885.5L1149.7 887.6L1149.9 889.6L1150.0 891.7L1150.2 893.7L1150.3 895.8L1150.5 897.9L1150.6 900.0L1150.7 901.9L1150.9 903.8L1151.0 905.7L1151.1 907.7L1151.2 909.6L1151.3 911.6L1151.5 913.5L1151.6 915.5L1151.7 917.5L1151.8 919.5L1151.9 921.5L1152.0 923.5L1152.2 925.5L1152.3 927.5L1152.4 929.5L1152.5 931.5L1152.6 933.5L1152.7 935.6L1152.8 937.6L1152.9 939.6L1153.0 941.7L1153.1 943.7L1153.3 945.8L1153.4 947.8L1153.5 949.9L1153.6 951.9L1153.7 954.0L1153.8 956.0L1153.9 958.1L1154.0 960.1L1154.1 962.2L1154.2 964.2L1154.3 966.3L1154.4 968.3L1154.5 970.3L1154.6 972.4L1154.7 974.4L1154.8 976.4L1155.0 978.5L1155.1 980.5L1155.2 982.5L1155.3 984.5L1155.4 986.5L1155.5 988.5L1155.6 990.5L1155.7 992.5L1155.8 994.5L1155.9 996.5L1156.0 998.4L1156.1 1000.4L1156.3 1002.3L1156.4 1004.3L1156.5 1006.2L1156.6 1008.1L1156.7 1010.0L1156.8 1012.1L1157.0 1014.2L1157.1 1016.3L1157.2 1018.4L1157.3 1020.5L1157.5 1022.7L1157.6 1024.8L1157.7 1026.9L1157.9 1029.0L1158.0 1031.1L1158.1 1033.2L1158.3 1035.3L1158.4 1037.4L1158.5 1039.5L1158.7 1041.6L1158.8 1043.7L1158.9 1045.8L1159.1 1047.9L1159.2 1050.0L1159.3 1052.1L1159.5 1054.1L1159.6 1056.2L1159.7 1058.2L1159.9 1060.3L1160.0 1062.3L1160.1 1064.3L1160.3 1066.3L1160.4 1068.3L1160.5 1070.3L1160.7 1072.3L1160.8 1074.2L1160.9 1076.2L1161.0 1078.1L1161.2 1080.0L1161.3 1081.9L1161.4 1083.8L1161.5 1085.7L1161.7 1087.5L1161.8 1089.4L1161.9 1091.2L1162.0 1093.0L1162.1 1094.8L1162.3 1096.5L1162.4 1098.3L1162.5 1100.0L1162.7 1102.3L1162.8 1104.5L1162.9 1106.7L1163.1 1108.8L1163.2 1110.9L1163.4 1113.0L1163.5 1115.1L1163.6 1117.1L1163.7 1119.1L1163.9 1121.1L1164.0 1123.0L1164.1 1125.0L1164.3 1126.9L1164.4 1128.8L1164.5 1130.7L1164.7 1132.6L1164.8 1134.5L1164.9 1136.4L1165.1 1138.3L1165.2 1140.2L1165.4 1142.2L1165.5 1144.1L1165.7 1146.0L1165.8 1148.0L1166.0 1150.0L1166.2 1152.0L1166.3 1154.0L1166.5 1156.0L1166.7 1158.0L1166.9 1160.0L1167.1 1162.0L1167.2 1164.0L1167.4 1166.0L1167.6 1168.0L1167.8 1170.0L1168.0 1172.0L1168.2 1174.0L1168.4 1176.0L1168.6 1178.0L1168.8 1180.0L1169.0 1182.0L1169.2 1184.0L1169.4 1186.0L1169.6 1188.0L1169.8 1190.0L1170.1 1192.0L1170.3 1194.0L1170.5 1196.0L1170.8 1198.0L1171.0 1200.0L1171.2 1202.0L1171.5 1204.0L1171.7 1206.0L1172.0 1208.1L1172.3 1210.1L1172.5 1212.1L1172.8 1214.2L1173.1 1216.2L1173.4 1218.2L1173.7 1220.3L1174.0 1222.3L1174.2 1224.3L1174.5 1226.4L1174.8 1228.4L1175.1 1230.4L1175.4 1232.4L1175.7 1234.4L1176.0 1236.4L1176.3 1238.4L1176.6 1240.4L1176.9 1242.3L1177.2 1244.3L1177.4 1246.2L1177.7 1248.1L1178.0 1250.0L1178.3 1252.1L1178.6 1254.2L1178.9 1256.4L1179.2 1258.5L1179.5 1260.6L1179.8 1262.8L1180.1 1264.9L1180.4 1267.0L1180.7 1269.1L1180.9 1271.2L1181.2 1273.2L1181.5 1275.2L1181.8 1277.2L1182.1 1279.2L1182.4 1281.1L1182.7 1283.0L1183.0 1284.8L1183.4 1286.6L1183.7 1288.3L1184.0 1290.0L1184.5 1292.3L1184.9 1294.5L1185.4 1296.5L1185.9 1298.5L1186.3 1300.5L1186.8 1302.4L1187.3 1304.2L1187.9 1306.1L1188.4 1308.0L1189.0 1310.0L1189.6 1312.0L1190.2 1314.0L1190.9 1316.1L1191.5 1318.1L1192.2 1320.1L1192.9 1322.1L1193.6 1324.1L1194.4 1326.1L1195.2 1328.1L1196.0 1330.0L1196.9 1331.9L1197.7 1333.8L1198.6 1335.7L1199.6 1337.5L1200.5 1339.4L1201.5 1341.2L1202.6 1343.0L1203.7 1344.7L1204.8 1346.4L1206.0 1348.0L1207.3 1349.7L1208.7 1351.3L1210.2 1352.8L1211.7 1354.3L1213.2 1355.8L1214.8 1357.2L1216.5 1358.5L1218.2 1359.8L1220.0 1361.0L1221.8 1362.1L1223.7 1363.2L1225.6 1364.2L1227.6 1365.2L1229.6 1366.1L1231.7 1366.9L1233.8 1367.7L1235.9 1368.5L1238.0 1369.3L1240.0 1370.0L1242.0 1370.6L1244.0 1371.2L1246.0 1371.8L1248.0 1372.3L1250.0 1372.7L1252.0 1373.2L1254.0 1373.6L1256.0 1374.1L1258.0 1374.5L1260.0 1375.0L1262.0 1375.5L1264.0 1376.0L1266.0 1376.5L1268.0 1377.0L1270.0 1377.6L1272.0 1378.1L1274.0 1378.6L1276.0 1379.1L1278.0 1379.5L1280.0 1380.0L1282.0 1380.4L1284.0 1380.9L1286.0 1381.3L1288.0 1381.7L1290.0 1382.1L1292.0 1382.5L1294.0 1382.9L1296.0 1383.3L1298.0 1383.6L1300.0 1384.0L1302.0 1384.3L1304.0 1384.7L1306.0 1385.0L1308.0 1385.3L1310.0 1385.6L1312.0 1385.9L1314.0 1386.2L1316.0 1386.5L1318.0 1386.7L1320.0 1387.0L1322.0 1387.2L1323.9 1387.5L1325.8 1387.7L1327.7 1387.9L1329.6 1388.1L1331.5 1388.3L1333.5 1388.5L1335.6 1388.6L1337.7 1388.8L1340.0 1389.0L1341.7 1389.1L1343.4 1389.2L1345.3 1389.4L1347.1 1389.5L1349.0 1389.6L1351.0 1389.7L1353.0 1389.8L1355.0 1389.9L1357.1 1390.0L1359.1 1390.1L1361.2 1390.2L1363.3 1390.3L1365.5 1390.4L1367.6 1390.5L1369.7 1390.6L1371.8 1390.7L1373.9 1390.8L1375.9 1390.8L1378.0 1390.9L1380.0 1391.0L1382.0 1391.1L1384.0 1391.1L1386.0 1391.2L1388.0 1391.3L1390.0 1391.3L1392.0 1391.4L1394.0 1391.4L1396.0 1391.5L1398.0 1391.6L1400.0 1391.6L1402.0 1391.6L1404.0 1391.7L1406.0 1391.7L1408.0 1391.8L1410.0 1391.8L1412.0 1391.9L1414.0 1391.9L1416.0 1391.9L1418.0 1392.0L1420.0 1392.0L1422.0 1392.0L1424.0 1392.1L1426.0 1392.1L1428.0 1392.1L1430.0 1392.2L1432.0 1392.2L1434.0 1392.2L1436.0 1392.2L1438.0 1392.3L1440.0 1392.3L1442.0 1392.3L1444.0 1392.3L1446.0 1392.3L1448.0 1392.3L1450.0 1392.4L1452.0 1392.4L1454.0 1392.4L1456.0 1392.4L1458.0 1392.4L1460.0 1392.4L1462.0 1392.4L1464.0 1392.4L1466.0 1392.4L1468.0 1392.4L1470.0 1392.4L1472.0 1392.4L1474.0 1392.5L1476.0 1392.5L1478.0 1392.5L1480.0 1392.5L1482.0 1392.5L1484.0 1392.5L1486.0 1392.4L1488.0 1392.4L1490.0 1392.4L1492.0 1392.4L1494.0 1392.3L1496.0 1392.3L1498.0 1392.3L1500.0 1392.2L1502.0 1392.1L1503.9 1392.1L1505.8 1392.0L1507.7 1391.9L1509.6 1391.8L1511.4 1391.7L1513.3 1391.6L1515.1 1391.5L1517.0 1391.4L1518.9 1391.2L1520.8 1391.1L1522.7 1391.0L1524.7 1390.9L1526.7 1390.7L1528.7 1390.6L1530.8 1390.5L1533.0 1390.4L1535.3 1390.2L1537.6 1390.1L1540.0 1390.0L1541.6 1389.9L1543.2 1389.9L1544.8 1389.8L1546.5 1389.7L1548.2 1389.6L1549.9 1389.5L1551.7 1389.5L1553.5 1389.4L1555.3 1389.3L1557.1 1389.2L1559.0 1389.2L1560.9 1389.1L1562.8 1389.0L1564.7 1388.9L1566.7 1388.8L1568.7 1388.8L1570.7 1388.7L1572.7 1388.6L1574.7 1388.5L1576.8 1388.4L1578.8 1388.4L1580.9 1388.3L1583.0 1388.2L1585.1 1388.1L1587.2 1388.0L1589.3 1388.0L1591.4 1387.9L1593.6 1387.8L1595.7 1387.7L1597.8 1387.6L1600.0 1387.5L1602.1 1387.5L1604.3 1387.4L1606.4 1387.3L1608.6 1387.2L1610.7 1387.1L1612.9 1387.1L1615.0 1387.0L1617.1 1386.9L1619.3 1386.8L1621.4 1386.7L1623.5 1386.6L1625.6 1386.6L1627.7 1386.5L1629.8 1386.4L1631.9 1386.3L1633.9 1386.2L1636.0 1386.2L1638.0 1386.1L1640.0 1386.0L1642.0 1385.9L1644.0 1385.8L1646.0 1385.8L1648.1 1385.7L1650.1 1385.6L1652.2 1385.5L1654.2 1385.4L1656.3 1385.3L1658.3 1385.2L1660.4 1385.2L1662.5 1385.1L1664.6 1385.0L1666.6 1384.9L1668.7 1384.8L1670.8 1384.7L1672.9 1384.6L1675.0 1384.6L1677.1 1384.5L1679.1 1384.4L1681.2 1384.3L1683.3 1384.2L1685.4 1384.1L1687.5 1384.0L1689.5 1383.9L1691.6 1383.9L1693.6 1383.8L1695.7 1383.7L1697.8 1383.6L1699.8 1383.5L1701.8 1383.4L1703.9 1383.4L1705.9 1383.3L1707.9 1383.2L1709.9 1383.1L1711.9 1383.0L1713.8 1383.0L1715.8 1382.9L1717.8 1382.8L1719.7 1382.7L1721.6 1382.7L1723.5 1382.6L1725.4 1382.5L1727.3 1382.4L1729.2 1382.4L1731.0 1382.3L1732.9 1382.2L1734.7 1382.2L1736.5 1382.1L1738.2 1382.1L1740.0 1382.0L1742.2 1381.9L1744.4 1381.9L1746.6 1381.8L1748.7 1381.7L1750.8 1381.7L1752.8 1381.6L1754.9 1381.5L1756.9 1381.5L1758.8 1381.4L1760.8 1381.4L1762.8 1381.3L1764.7 1381.3L1766.6 1381.2L1768.5 1381.2L1770.4 1381.1L1772.3 1381.1L1774.2 1381.0L1776.1 1381.0L1778.0 1380.9L1779.9 1380.9L1781.8 1380.9L1783.8 1380.8L1785.7 1380.8L1787.7 1380.7L1789.7 1380.7L1791.7 1380.7L1793.7 1380.6L1795.8 1380.6L1797.9 1380.5L1800.0 1380.5L1801.9 1380.5L1803.9 1380.4L1806.0 1380.4L1808.3 1380.4L1810.5 1380.3L1812.9 1380.3L1815.3 1380.3L1817.8 1380.2L1820.4 1380.2L1822.9 1380.1L1825.6 1380.1L1828.2 1380.1L1830.9 1380.0L1833.5 1380.0L1836.2 1380.0L1838.9 1379.9L1841.5 1379.9L1844.1 1379.9L1846.7 1379.9L1849.3 1379.8L1851.8 1379.8L1854.2 1379.8L1856.6 1379.7L1859.0 1379.7L1861.2 1379.7L1863.4 1379.7L1865.4 1379.6L1867.4 1379.6L1869.2 1379.6L1871.0 1379.6L1872.6 1379.6L1874.1 1379.6L1875.4 1379.5L1876.6 1379.5L1877.6 1379.5L1878.4 1379.5L1879.1 1379.5L1879.6 1379.5L1879.9 1379.5L1880.0 1379.5"/>
<path stroke="#0000ff" d="M336.0 1399.0L336.7 1398.8L338.6 1398.2L341.1 1397.5L343.7 1396.7L346.0 1396.0L348.2 1395.2L350.3 1394.4L352.5 1393.6L355.0 1393.0L356.7 1392.7L358.6 1392.5L360.6 1392.3L362.7 1392.2L364.9 1392.1L367.1 1392.1L369.4 1392.2L371.6 1392.4L373.8 1392.6L376.0 1393.0L377.8 1393.5L379.7 1394.1L381.5 1395.0L383.4 1395.9L385.3 1396.9L387.1 1398.0L389.0 1399.0L390.9 1400.0L392.7 1401.0L394.6 1401.8L396.4 1402.4L398.2 1402.8L400.0 1403.0L402.0 1402.9L404.0 1402.5L405.9 1401.8L407.7 1401.0L409.6 1400.0L411.5 1399.1L413.5 1398.1L415.5 1397.2L417.7 1396.5L420.0 1396.0L421.7 1395.8L423.4 1395.6L425.2 1395.5L427.1 1395.4L429.0 1395.4L430.9 1395.4L432.9 1395.5L435.0 1395.6L437.0 1395.7L439.1 1395.8L441.2 1395.9L443.3 1396.1L445.4 1396.2L447.5 1396.4L449.7 1396.5L451.8 1396.7L453.9 1396.8L455.9 1396.9L458.0 1397.0L460.0 1397.0L462.0 1397.0L464.0 1397.1L465.9 1397.1L467.9 1397.1L469.8 1397.1L471.7 1397.1L473.7 1397.2L475.6 1397.2L477.6 1397.2L479.5 1397.2L481.5 1397.2L483.4 1397.2L485.4 1397.2L487.4 1397.2L489.4 1397.2L491.5 1397.2L493.6 1397.1L495.7 1397.1L497.8 1397.1L500.0 1397.0L501.8 1397.0L503.6 1396.9L505.5 1396.8L507.4 1396.8L509.3 1396.7L511.2 1396.6L513.2 1396.5L515.1 1396.4L517.1 1396.3L519.1 1396.2L521.1 1396.1L523.1 1396.0L525.2 1395.9L527.2 1395.8L529.2 1395.7L531.3 1395.6L533.4 1395.5L535.4 1395.4L537.5 1395.2L539.6 1395.1L541.6 1395.0L543.7 1394.9L545.7 1394.8L547.8 1394.7L549.9 1394.5L551.9 1394.4L553.9 1394.3L556.0 1394.2L558.0 1394.1L560.0 1394.0L562.0 1393.9L564.0 1393.8L566.0 1393.7L568.0 1393.6L570.0 1393.5L572.0 1393.4L574.0 1393.3L576.0 1393.2L578.0 1393.1L580.0 1393.0L582.0 1392.9L584.0 1392.8L586.0 1392.8L588.0 1392.7L590.0 1392.6L592.0 1392.5L594.0 1392.4L596.0 1392.3L598.0 1392.2L600.0 1392.1L602.0 1392.0L604.0 1391.9L606.0 1391.8L608.0 1391.7L610.0 1391.6L612.0 1391.4L614.0 1391.3L616.0 1391.2L618.0 1391.1L620.0 1391.0L622.0 1390.9L624.0 1390.8L626.1 1390.6L628.1 1390.5L630.2 1390.4L632.3 1390.2L634.4 1390.1L636.5 1390.0L638.6 1389.8L640.7 1389.7L642.8 1389.5L644.9 1389.4L647.0 1389.3L649.1 1389.1L651.2 1389.0L653.2 1388.8L655.3 1388.7L657.3 1388.5L659.4 1388.4L661.4 1388.3L663.4 1388.1L665.3 1388.0L667.3 1387.9L669.2 1387.7L671.1 1387.6L672.9 1387.5L674.8 1387.3L676.5 1387.2L678.3 1387.1L680.0 1387.0L682.3 1386.8L684.5 1386.7L686.7 1386.5L688.8 1386.3L690.8 1386.1L692.8 1385.9L694.8 1385.7L696.8 1385.5L698.7 1385.3L700.6 1385.2L702.5 1385.0L704.4 1385.0L706.3 1384.9L708.2 1384.9L710.1 1384.9L712.0 1385.0L714.1 1385.2L716.1 1385.4L718.0 1385.7L720.0 1386.0L721.9 1386.4L723.9 1386.8L725.8 1387.2L727.7 1387.7L729.7 1388.1L731.7 1388.5L733.7 1389.0L735.7 1389.3L737.8 1389.7L740.0 1390.0L741.8 1390.2L743.7 1390.4L745.5 1390.7L747.4 1390.9L749.3 1391.1L751.2 1391.3L753.1 1391.5L755.1 1391.6L757.0 1391.8L759.0 1392.0L761.0 1392.1L763.1 1392.3L765.1 1392.4L767.2 1392.5L769.3 1392.6L771.4 1392.7L773.5 1392.8L775.6 1392.9L777.8 1392.9L780.0 1393.0L781.8 1393.0L783.6 1393.1L785.5 1393.1L787.4 1393.1L789.3 1393.1L791.2 1393.0L793.2 1393.0L795.1 1393.0L797.1 1393.0L799.1 1392.9L801.1 1392.9L803.1 1392.8L805.2 1392.7L807.2 1392.7L809.2 1392.6L811.3 1392.5L813.4 1392.4L815.4 1392.3L817.5 1392.2L819.6 1392.1L821.6 1392.0L823.7 1391.9L825.8 1391.8L827.8 1391.7L829.9 1391.6L831.9 1391.5L833.9 1391.3L836.0 1391.2L838.0 1391.1L840.0 1391.0L842.0 1390.9L844.0 1390.8L846.0 1390.6L848.0 1390.5L850.1 1390.4L852.1 1390.3L854.1 1390.1L856.2 1390.0L858.2 1389.9L860.2 1389.7L862.3 1389.6L864.3 1389.5L866.3 1389.3L868.3 1389.2L870.4 1389.0L872.4 1388.8L874.4 1388.7L876.4 1388.5L878.4 1388.3L880.4 1388.1L882.4 1388.0L884.4 1387.8L886.4 1387.6L888.4 1387.4L890.3 1387.2L892.3 1386.9L894.2 1386.7L896.2 1386.5L898.1 1386.2L900.0 1386.0L902.1 1385.7L904.2 1385.4L906.2 1385.2L908.3 1384.9L910.3 1384.6L912.4 1384.3L914.4 1383.9L916.4 1383.6L918.4 1383.3L920.4 1383.0L922.4 1382.6L924.4 1382.3L926.3 1381.9L928.3 1381.6L930.3 1381.2L932.3 1380.8L934.2 1380.5L936.2 1380.1L938.2 1379.7L940.1 1379.2L942.1 1378.8L944.1 1378.4L946.0 1377.9L948.0 1377.5L950.0 1377.0L952.0 1376.5L953.9 1376.0L955.9 1375.5L958.0 1375.0L960.0 1374.5L962.0 1373.9L964.1 1373.4L966.2 1372.8L968.2 1372.2L970.3 1371.7L972.4 1371.1L974.4 1370.5L976.4 1369.9L978.5 1369.3L980.4 1368.7L982.4 1368.0L984.4 1367.4L986.3 1366.8L988.2 1366.2L990.0 1365.6L991.8 1365.0L993.5 1364.4L995.2 1363.8L996.9 1363.2L998.5 1362.6L1000.0 1362.0L1002.3 1361.1L1004.5 1360.2L1006.6 1359.3L1008.6 1358.4L1010.5 1357.5L1012.3 1356.6L1014.1 1355.7L1015.9 1354.8L1017.6 1353.8L1019.3 1352.9L1021.0 1352.0L1022.9 1350.9L1024.8 1349.9L1026.6 1348.8L1028.3 1347.8L1030.0 1346.7L1031.7 1345.6L1033.3 1344.4L1035.0 1343.2L1036.7 1341.9L1038.4 1340.5L1040.1 1339.0L1041.8 1337.5L1043.4 1336.0L1045.0 1334.4L1046.5 1332.9L1048.0 1331.3L1049.4 1329.7L1050.8 1328.0L1052.0 1326.4L1053.3 1324.7L1054.5 1323.0L1055.7 1321.2L1057.0 1319.3L1058.0 1317.7L1059.1 1316.1L1060.1 1314.3L1061.2 1312.5L1062.2 1310.7L1063.3 1308.9L1064.4 1307.0L1065.4 1305.2L1066.5 1303.4L1067.5 1301.7L1068.5 1300.0L1069.7 1298.0L1071.0 1296.1L1072.2 1294.2L1073.4 1292.3L1074.6 1290.5L1075.8 1288.7L1076.9 1286.8L1078.0 1285.0L1079.1 1283.1L1080.3 1281.3L1081.3 1279.5L1082.4 1277.7L1083.4 1275.8L1084.4 1273.8L1085.3 1271.6L1085.9 1269.9L1086.5 1268.1L1087.0 1266.1L1087.5 1264.2L1088.0 1262.1L1088.5 1260.1L1088.9 1258.0L1089.4 1255.9L1089.8 1253.8L1090.3 1251.7L1090.8 1249.7L1091.3 1247.7L1091.9 1245.6L1092.5 1243.5L1093.1 1241.5L1093.7 1239.4L1094.4 1237.4L1095.0 1235.4L1095.6 1233.3L1096.3 1231.3L1096.9 1229.2L1097.4 1227.1L1098.0 1225.0L1098.5 1222.9L1099.0 1220.8L1099.5 1218.7L1100.0 1216.5L1100.5 1214.4L1100.9 1212.2L1101.4 1210.0L1101.8 1207.9L1102.2 1205.8L1102.7 1203.8L1103.1 1201.9L1103.5 1200.0L1104.0 1197.6L1104.5 1195.4L1105.0 1193.2L1105.5 1191.0L1105.9 1189.0L1106.4 1187.0L1107.0 1185.0L1107.8 1182.7L1108.6 1180.5L1109.4 1178.4L1110.3 1176.3L1111.0 1174.0L1111.5 1172.1L1112.0 1170.1L1112.4 1168.0L1112.8 1165.9L1113.2 1163.9L1113.6 1161.9L1114.0 1160.0L1114.5 1158.0L1115.0 1156.3L1115.5 1154.5L1116.0 1152.5L1116.5 1150.0L1116.8 1148.7L1117.0 1147.3L1117.3 1145.9L1117.6 1144.3L1117.9 1142.7L1118.2 1141.0L1118.5 1139.2L1118.8 1137.4L1119.1 1135.4L1119.4 1133.5L1119.7 1131.5L1120.0 1129.4L1120.4 1127.3L1120.7 1125.1L1121.0 1122.9L1121.3 1120.7L1121.7 1118.4L1122.0 1116.2L1122.3 1113.9L1122.6 1111.6L1122.9 1109.3L1123.2 1106.9L1123.5 1104.6L1123.7 1102.3L1124.0 1100.0L1124.2 1098.3L1124.4 1096.5L1124.6 1094.8L1124.7 1093.0L1124.9 1091.2L1125.1 1089.3L1125.3 1087.5L1125.5 1085.6L1125.6 1083.7L1125.8 1081.8L1126.0 1079.9L1126.1 1077.9L1126.3 1075.9L1126.4 1074.0L1126.6 1072.0L1126.8 1070.0L1126.9 1067.9L1127.1 1065.9L1127.2 1063.9L1127.4 1061.8L1127.5 1059.8L1127.7 1057.7L1127.8 1055.6L1128.0 1053.5L1128.1 1051.5L1128.2 1049.4L1128.4 1047.3L1128.5 1045.2L1128.7 1043.1L1128.8 1041.0L1128.9 1038.9L1129.1 1036.8L1129.2 1034.7L1129.4 1032.6L1129.5 1030.5L1129.6 1028.4L1129.8 1026.3L1129.9 1024.3L1130.1 1022.2L1130.2 1020.1L1130.3 1018.1L1130.5 1016.1L1130.6 1014.0L1130.8 1012.0L1130.9 1010.0L1131.0 1008.0L1131.2 1006.0L1131.3 1004.0L1131.5 1002.0L1131.6 1000.1L1131.7 998.1L1131.9 996.1L1132.0 994.1L1132.2 992.1L1132.3 990.2L1132.4 988.2L1132.6 986.2L1132.7 984.3L1132.8 982.3L1133.0 980.3L1133.1 978.4L1133.2 976.4L1133.4 974.4L1133.5 972.5L1133.6 970.5L1133.8 968.5L1133.9 966.6L1134.0 964.6L1134.1 962.6L1134.3 960.6L1134.4 958.6L1134.5 956.7L1134.7 954.7L1134.8 952.7L1134.9 950.7L1135.0 948.7L1135.2 946.7L1135.3 944.7L1135.4 942.6L1135.5 940.6L1135.7 938.6L1135.8 936.5L1135.9 934.5L1136.0 932.5L1136.2 930.4L1136.3 928.3L1136.4 926.3L1136.5 924.2L1136.7 922.1L1136.8 920.0L1136.9 918.1L1137.0 916.2L1137.1 914.3L1137.3 912.3L1137.4 910.4L1137.5 908.5L1137.6 906.5L1137.7 904.6L1137.8 902.6L1137.9 900.7L1138.0 898.7L1138.2 896.7L1138.3 894.8L1138.4 892.8L1138.5 890.8L1138.6 888.8L1138.7 886.8L1138.8 884.8L1138.9 882.8L1139.0 880.8L1139.2 878.8L1139.3 876.8L1139.4 874.8L1139.5 872.8L1139.6 870.7L1139.7 868.7L1139.8 866.7L1139.9 864.7L1140.0 862.7L1140.1 860.6L1140.2 858.6L1140.4 856.6L1140.5 854.5L1140.6 852.5L1140.7 850.5L1140.8 848.4L1140.9 846.4L1141.0 844.4L1141.1 842.3L1141.2 840.3L1141.3 838.3L1141.4 836.2L1141.5 834.2L1141.6 832.2L1141.7 830.2L1141.8 828.1L1141.9 826.1L1142.0 824.1L1142.1 822.1L1142.2 820.0L1142.3 818.0L1142.4 816.0L1142.5 814.0L1142.6 812.0L1142.7 810.0L1142.8 808.0L1142.9 806.0L1143.0 803.9L1143.1 801.8L1143.2 799.7L1143.3 797.6L1143.4 795.5L1143.5 793.3L1143.5 791.1L1143.6 788.9L1143.7 786.8L1143.8 784.6L1143.9 782.3L1144.0 780.1L1144.1 777.9L1144.2 775.7L1144.3 773.4L1144.4 771.2L1144.4 769.0L1144.5 766.7L1144.6 764.5L1144.7 762.3L1144.8 760.0L1144.9 757.8L1145.0 755.6L1145.0 753.4L1145.1 751.2L1145.2 749.0L1145.3 746.9L1145.4 744.7L1145.5 742.6L1145.5 740.5L1145.6 738.4L1145.7 736.3L1145.8 734.3L1145.9 732.2L1146.0 730.2L1146.0 728.2L1146.1 726.3L1146.2 724.4L1146.3 722.5L1146.4 720.6L1146.4 718.8L1146.5 717.0L1146.6 715.3L1146.7 713.5L1146.8 711.9L1146.8 710.2L1146.9 708.6L1147.0 707.1L1147.1 705.6L1147.2 704.1L1147.2 702.7L1147.3 701.3L1147.4 700.0L1147.6 697.3L1147.7 695.0L1147.9 692.9L1148.1 690.9L1148.2 689.1L1148.4 687.3L1148.6 685.6L1148.7 683.8L1148.9 681.9L1149.1 679.8L1149.2 677.6L1149.4 675.0L1149.5 673.6L1149.6 672.1L1149.7 670.5L1149.8 668.9L1149.9 667.2L1150.0 665.5L1150.1 663.8L1150.2 662.0L1150.3 660.2L1150.4 658.3L1150.5 656.4L1150.6 654.4L1150.7 652.5L1150.8 650.4L1150.9 648.4L1151.0 646.3L1151.1 644.2L1151.2 642.1L1151.3 640.0L1151.4 637.8L1151.5 635.7L1151.6 633.5L1151.7 631.3L1151.8 629.1L1151.9 626.8L1152.0 624.6L1152.1 622.4L1152.2 620.1L1152.3 617.9L1152.4 615.6L1152.5 613.4L1152.6 611.2L1152.7 609.0L1152.8 606.7L1152.9 604.5L1153.0 602.3L1153.1 600.2L1153.2 598.0L1153.3 595.8L1153.4 593.7L1153.5 591.6L1153.6 589.5L1153.7 587.5L1153.8 585.5L1153.9 583.4L1154.0 581.4L1154.1 579.3L1154.2 577.2L1154.3 575.2L1154.4 573.1L1154.5 571.0L1154.6 568.9L1154.7 566.8L1154.8 564.7L1154.9 562.6L1155.0 560.5L1155.1 558.4L1155.2 556.3L1155.3 554.2L1155.4 552.1L1155.5 550.0L1155.6 547.9L1155.7 545.9L1155.8 543.8L1155.9 541.7L1155.9 539.6L1156.0 537.5L1156.1 535.5L1156.2 533.4L1156.3 531.4L1156.4 529.3L1156.5 527.3L1156.6 525.2L1156.7 523.2L1156.8 521.2L1156.9 519.2L1157.0 517.2L1157.1 515.3L1157.2 513.3L1157.3 511.4L1157.4 509.4L1157.4 507.5L1157.5 505.6L1157.6 503.7L1157.7 501.9L1157.8 500.0L1157.9 497.8L1158.0 495.7L1158.1 493.5L1158.2 491.4L1158.3 489.3L1158.4 487.2L1158.5 485.1L1158.6 483.1L1158.7 481.0L1158.8 479.0L1158.9 477.0L1159.0 475.0L1159.1 473.0L1159.2 471.0L1159.3 469.0L1159.4 467.1L1159.4 465.1L1159.5 463.2L1159.6 461.2L1159.7 459.3L1159.8 457.3L1159.9 455.4L1160.0 453.5L1160.1 451.6L1160.2 449.6L1160.3 447.7L1160.4 445.8L1160.5 443.9L1160.6 441.9L1160.7 440.0L1160.8 437.9L1160.9 435.8L1161.0 433.7L1161.1 431.6L1161.2 429.5L1161.3 427.4L1161.4 425.3L1161.5 423.2L1161.6 421.1L1161.7 419.1L1161.8 417.0L1162.0 414.9L1162.1 412.9L1162.2 410.8L1162.3 408.8L1162.4 406.8L1162.5 404.7L1162.6 402.7L1162.7 400.8L1162.9 398.8L1163.0 396.9L1163.1 395.0L1163.3 393.1L1163.4 391.2L1163.5 389.3L1163.7 387.5L1163.9 385.2L1164.1 383.0L1164.3 380.7L1164.6 378.5L1164.8 376.3L1165.0 374.1L1165.3 372.0L1165.5 369.9L1165.8 367.8L1166.0 365.7L1166.3 363.7L1166.5 361.7L1166.7 359.8L1167.0 357.9L1167.2 356.0L1167.4 354.2L1167.6 352.5L1167.9 350.0L1168.1 347.5L1168.4 345.1L1168.6 342.8L1168.8 340.7L1169.0 338.6L1169.3 336.7L1169.6 335.0L1170.1 332.4L1170.6 330.2L1171.3 328.5L1172.3 327.4L1173.3 327.0L1174.3 327.4L1175.3 328.5L1176.0 330.2L1176.5 332.4L1177.0 335.0L1177.3 336.7L1177.5 338.6L1177.7 340.7L1177.9 342.8L1178.1 345.1L1178.2 347.5L1178.4 350.0L1178.6 352.5L1178.7 354.2L1178.9 356.0L1179.0 357.9L1179.1 359.8L1179.2 361.7L1179.4 363.7L1179.5 365.7L1179.6 367.8L1179.7 369.9L1179.8 372.0L1180.0 374.1L1180.1 376.3L1180.2 378.5L1180.4 380.7L1180.5 383.0L1180.7 385.2L1180.8 387.5L1180.9 389.3L1181.1 391.2L1181.2 393.1L1181.3 395.0L1181.5 396.9L1181.6 398.8L1181.7 400.8L1181.9 402.8L1182.0 404.8L1182.2 406.8L1182.3 408.8L1182.5 410.8L1182.7 412.9L1182.8 414.9L1183.0 417.0L1183.1 419.1L1183.3 421.1L1183.4 423.2L1183.6 425.3L1183.7 427.4L1183.8 429.5L1184.0 431.6L1184.1 433.7L1184.2 435.8L1184.4 437.9L1184.5 440.0L1184.6 441.9L1184.7 443.9L1184.8 445.8L1184.9 447.7L1185.0 449.6L1185.1 451.6L1185.2 453.5L1185.3 455.4L1185.4 457.3L1185.5 459.3L1185.6 461.2L1185.7 463.2L1185.8 465.1L1185.8 467.1L1185.9 469.0L1186.0 471.0L1186.1 473.0L1186.2 475.0L1186.3 477.0L1186.3 479.0L1186.4 481.0L1186.5 483.1L1186.6 485.1L1186.7 487.2L1186.8 489.3L1186.8 491.4L1186.9 493.5L1187.0 495.7L1187.1 497.8L1187.2 500.0L1187.3 501.9L1187.4 503.7L1187.4 505.6L1187.5 507.5L1187.6 509.4L1187.7 511.4L1187.8 513.3L1187.8 515.3L1187.9 517.2L1188.0 519.2L1188.1 521.2L1188.2 523.2L1188.2 525.2L1188.3 527.3L1188.4 529.3L1188.5 531.4L1188.6 533.4L1188.7 535.5L1188.7 537.5L1188.8 539.6L1188.9 541.7L1189.0 543.8L1189.1 545.8L1189.1 547.9L1189.2 550.0L1189.3 552.1L1189.4 554.2L1189.5 556.3L1189.6 558.4L1189.6 560.5L1189.7 562.6L1189.8 564.7L1189.9 566.8L1190.0 568.9L1190.1 571.0L1190.1 573.1L1190.2 575.2L1190.3 577.2L1190.4 579.3L1190.5 581.4L1190.5 583.4L1190.6 585.5L1190.7 587.5L1190.8 589.5L1190.9 591.6L1190.9 593.7L1191.0 595.8L1191.1 598.0L1191.2 600.2L1191.3 602.3L1191.4 604.5L1191.4 606.7L1191.5 609.0L1191.6 611.2L1191.7 613.4L1191.8 615.6L1191.9 617.9L1191.9 620.1L1192.0 622.4L1192.1 624.6L1192.2 626.8L1192.3 629.1L1192.4 631.3L1192.4 633.5L1192.5 635.7L1192.6 637.8L1192.7 640.0L1192.8 642.1L1192.9 644.2L1192.9 646.3L1193.0 648.4L1193.1 650.4L1193.2 652.5L1193.2 654.4L1193.3 656.4L1193.4 658.3L1193.5 660.2L1193.5 662.0L1193.6 663.8L1193.7 665.5L1193.8 667.2L1193.8 668.9L1193.9 670.5L1194.0 672.1L1194.0 673.6L1194.1 675.0L1194.2 677.6L1194.3 679.8L1194.4 681.9L1194.5 683.8L1194.6 685.6L1194.7 687.3L1194.8 689.1L1194.9 690.9L1195.1 692.9L1195.2 695.0L1195.3 697.3L1195.4 700.0L1195.5 701.3L1195.5 702.7L1195.6 704.1L1195.6 705.6L1195.7 707.1L1195.8 708.7L1195.8 710.3L1195.9 711.9L1196.0 713.6L1196.0 715.3L1196.1 717.1L1196.2 718.9L1196.2 720.7L1196.3 722.6L1196.4 724.5L1196.5 726.5L1196.5 728.4L1196.6 730.4L1196.7 732.4L1196.8 734.5L1196.8 736.5L1196.9 738.6L1197.0 740.7L1197.1 742.9L1197.1 745.0L1197.2 747.2L1197.3 749.4L1197.4 751.6L1197.5 753.8L1197.5 756.0L1197.6 758.2L1197.7 760.4L1197.8 762.6L1197.9 764.9L1197.9 767.1L1198.0 769.3L1198.1 771.6L1198.2 773.8L1198.3 776.0L1198.4 778.3L1198.4 780.5L1198.5 782.7L1198.6 784.9L1198.7 787.1L1198.8 789.3L1198.9 791.4L1198.9 793.6L1199.0 795.7L1199.1 797.8L1199.2 799.9L1199.3 802.0L1199.4 804.0L1199.4 806.0L1199.5 808.0L1199.6 810.0L1199.7 812.0L1199.8 814.1L1199.9 816.1L1199.9 818.2L1200.0 820.2L1200.1 822.2L1200.2 824.2L1200.3 826.3L1200.4 828.3L1200.5 830.3L1200.6 832.3L1200.7 834.3L1200.7 836.3L1200.8 838.3L1200.9 840.4L1201.0 842.4L1201.1 844.4L1201.2 846.4L1201.3 848.3L1201.4 850.3L1201.5 852.3L1201.6 854.3L1201.7 856.3L1201.7 858.3L1201.8 860.3L1201.9 862.3L1202.0 864.3L1202.1 866.3L1202.2 868.2L1202.3 870.2L1202.4 872.2L1202.5 874.2L1202.6 876.2L1202.7 878.2L1202.8 880.2L1202.9 882.1L1203.0 884.1L1203.1 886.1L1203.2 888.1L1203.2 890.1L1203.3 892.1L1203.4 894.1L1203.5 896.0L1203.6 898.0L1203.7 900.0L1203.8 902.0L1203.9 904.0L1204.0 906.0L1204.1 908.0L1204.2 910.0L1204.3 912.0L1204.4 914.0L1204.5 916.0L1204.6 918.0L1204.7 920.0L1204.8 922.0L1204.9 924.0L1205.0 926.1L1205.1 928.1L1205.2 930.1L1205.3 932.1L1205.4 934.1L1205.5 936.1L1205.6 938.1L1205.7 940.2L1205.7 942.2L1205.8 944.2L1205.9 946.2L1206.0 948.2L1206.1 950.3L1206.2 952.3L1206.3 954.3L1206.4 956.3L1206.5 958.3L1206.6 960.3L1206.7 962.3L1206.8 964.4L1206.9 966.4L1207.0 968.4L1207.1 970.4L1207.2 972.4L1207.3 974.4L1207.4 976.4L1207.5 978.4L1207.6 980.4L1207.7 982.4L1207.8 984.4L1207.9 986.4L1208.1 988.4L1208.2 990.3L1208.3 992.3L1208.4 994.3L1208.5 996.3L1208.6 998.2L1208.7 1000.2L1208.8 1002.2L1208.9 1004.1L1209.0 1006.1L1209.1 1008.1L1209.2 1010.0L1209.3 1012.1L1209.4 1014.2L1209.5 1016.3L1209.7 1018.4L1209.8 1020.6L1209.9 1022.7L1210.0 1024.9L1210.2 1027.1L1210.3 1029.3L1210.4 1031.6L1210.6 1033.8L1210.7 1036.0L1210.8 1038.3L1211.0 1040.5L1211.1 1042.7L1211.2 1045.0L1211.4 1047.2L1211.5 1049.4L1211.6 1051.7L1211.8 1053.9L1211.9 1056.1L1212.0 1058.3L1212.2 1060.4L1212.3 1062.6L1212.4 1064.7L1212.6 1066.8L1212.7 1068.9L1212.8 1070.9L1212.9 1073.0L1213.1 1075.0L1213.2 1076.9L1213.3 1078.9L1213.4 1080.8L1213.5 1082.6L1213.6 1084.4L1213.7 1086.2L1213.8 1087.9L1213.9 1089.6L1214.0 1091.3L1214.1 1092.9L1214.2 1094.4L1214.3 1095.9L1214.4 1097.3L1214.4 1098.7L1214.5 1100.0L1214.6 1102.5L1214.7 1104.7L1214.8 1106.6L1214.8 1108.4L1214.9 1110.1L1215.0 1111.7L1215.0 1113.5L1215.1 1115.4L1215.2 1117.5L1215.4 1120.0L1215.5 1121.4L1215.6 1122.8L1215.7 1124.3L1215.8 1125.9L1215.9 1127.6L1216.1 1129.3L1216.2 1131.1L1216.4 1132.9L1216.5 1134.8L1216.7 1136.7L1216.8 1138.7L1217.0 1140.7L1217.2 1142.7L1217.3 1144.8L1217.5 1146.9L1217.7 1149.1L1217.9 1151.2L1218.1 1153.4L1218.3 1155.6L1218.5 1157.8L1218.7 1160.1L1218.9 1162.3L1219.1 1164.6L1219.3 1166.8L1219.5 1169.0L1219.7 1171.3L1219.9 1173.5L1220.1 1175.7L1220.3 1177.9L1220.5 1180.1L1220.7 1182.2L1220.9 1184.4L1221.1 1186.4L1221.3 1188.5L1221.5 1190.5L1221.7 1192.5L1221.9 1194.5L1222.1 1196.4L1222.3 1198.2L1222.5 1200.0L1222.7 1202.2L1223.0 1204.4L1223.2 1206.6L1223.4 1208.7L1223.7 1210.8L1223.9 1212.9L1224.2 1215.0L1224.4 1217.1L1224.6 1219.1L1224.9 1221.1L1225.1 1223.1L1225.3 1225.1L1225.6 1227.1L1225.8 1229.0L1226.1 1231.0L1226.3 1232.9L1226.6 1234.8L1226.8 1236.7L1227.0 1238.6L1227.3 1240.5L1227.5 1242.4L1227.8 1244.3L1228.0 1246.2L1228.3 1248.1L1228.5 1250.0L1228.8 1252.1L1229.0 1254.2L1229.3 1256.4L1229.5 1258.5L1229.8 1260.6L1230.0 1262.8L1230.3 1264.9L1230.5 1267.0L1230.8 1269.1L1231.0 1271.2L1231.3 1273.2L1231.6 1275.2L1231.8 1277.2L1232.1 1279.2L1232.4 1281.1L1232.7 1283.0L1233.0 1284.8L1233.3 1286.6L1233.7 1288.3L1234.0 1290.0L1234.5 1292.3L1235.1 1294.5L1235.6 1296.5L1236.2 1298.5L1236.8 1300.5L1237.4 1302.4L1238.0 1304.3L1238.7 1306.1L1239.3 1308.0L1240.0 1310.0L1240.7 1312.0L1241.4 1314.0L1242.2 1316.1L1243.0 1318.1L1243.7 1320.1L1244.5 1322.1L1245.4 1324.1L1246.2 1326.1L1247.1 1328.1L1248.0 1330.0L1248.9 1331.9L1249.8 1333.8L1250.7 1335.7L1251.7 1337.6L1252.7 1339.4L1253.7 1341.2L1254.7 1343.0L1255.7 1344.7L1256.9 1346.4L1258.0 1348.0L1259.4 1349.7L1260.8 1351.3L1262.2 1352.9L1263.7 1354.4L1265.2 1355.8L1266.8 1357.2L1268.4 1358.6L1270.0 1360.0L1271.6 1361.4L1273.3 1362.7L1275.0 1364.0L1276.8 1365.3L1278.5 1366.5L1280.3 1367.7L1282.2 1368.9L1284.0 1370.0L1285.9 1371.1L1287.8 1372.2L1289.8 1373.3L1291.7 1374.3L1293.7 1375.3L1295.8 1376.2L1297.9 1377.1L1300.0 1378.0L1301.9 1378.7L1303.8 1379.4L1305.8 1380.1L1307.8 1380.8L1309.8 1381.4L1311.8 1382.0L1313.9 1382.5L1315.9 1383.1L1318.0 1383.6L1320.0 1384.0L1321.9 1384.4L1323.8 1384.7L1325.6 1385.0L1327.5 1385.3L1329.3 1385.6L1331.2 1385.8L1333.2 1386.0L1335.3 1386.2L1337.6 1386.3L1340.0 1386.5L1341.5 1386.6L1343.1 1386.7L1344.7 1386.8L1346.4 1386.8L1348.1 1386.9L1349.9 1386.9L1351.8 1387.0L1353.7 1387.0L1355.6 1387.0L1357.6 1387.1L1359.6 1387.1L1361.7 1387.1L1363.8 1387.1L1365.9 1387.1L1368.0 1387.1L1370.1 1387.1L1372.3 1387.1L1374.5 1387.1L1376.6 1387.1L1378.8 1387.1L1381.0 1387.1L1383.2 1387.1L1385.3 1387.1L1387.5 1387.0L1389.6 1387.0L1391.8 1387.0L1393.9 1387.0L1395.9 1387.0L1398.0 1387.0L1400.0 1387.0L1402.0 1387.0L1404.0 1387.0L1406.0 1387.0L1407.9 1387.0L1409.9 1386.9L1411.9 1386.9L1413.8 1386.9L1415.8 1386.9L1417.7 1386.8L1419.7 1386.8L1421.6 1386.8L1423.6 1386.8L1425.5 1386.7L1427.5 1386.7L1429.5 1386.7L1431.4 1386.6L1433.4 1386.6L1435.4 1386.6L1437.4 1386.5L1439.4 1386.5L1441.4 1386.5L1443.4 1386.5L1445.4 1386.5L1447.4 1386.5L1449.5 1386.5L1451.6 1386.5L1453.7 1386.5L1455.8 1386.5L1457.9 1386.5L1460.0 1386.5L1461.9 1386.5L1463.7 1386.6L1465.6 1386.6L1467.5 1386.6L1469.4 1386.7L1471.3 1386.7L1473.2 1386.8L1475.2 1386.9L1477.1 1386.9L1479.0 1387.0L1481.0 1387.1L1483.0 1387.2L1484.9 1387.2L1486.9 1387.3L1488.9 1387.4L1490.9 1387.5L1492.9 1387.6L1494.9 1387.7L1496.9 1387.8L1498.9 1387.8L1500.9 1387.9L1502.9 1388.0L1505.0 1388.1L1507.0 1388.2L1509.0 1388.3L1511.1 1388.3L1513.1 1388.4L1515.2 1388.5L1517.2 1388.6L1519.3 1388.6L1521.3 1388.7L1523.4 1388.8L1525.5 1388.8L1527.5 1388.9L1529.6 1388.9L1531.7 1388.9L1533.8 1389.0L1535.8 1389.0L1537.9 1389.0L1540.0 1389.0L1541.9 1389.0L1543.9 1389.0L1545.8 1389.0L1547.7 1389.0L1549.7 1389.0L1551.6 1389.0L1553.6 1388.9L1555.6 1388.9L1557.5 1388.9L1559.5 1388.9L1561.5 1388.8L1563.5 1388.8L1565.5 1388.8L1567.5 1388.7L1569.5 1388.7L1571.5 1388.7L1573.5 1388.6L1575.5 1388.6L1577.5 1388.5L1579.5 1388.5L1581.5 1388.4L1583.6 1388.3L1585.6 1388.3L1587.6 1388.2L1589.6 1388.2L1591.7 1388.1L1593.7 1388.0L1595.7 1388.0L1597.7 1387.9L1599.8 1387.8L1601.8 1387.7L1603.8 1387.7L1605.8 1387.6L1607.9 1387.5L1609.9 1387.4L1611.9 1387.3L1613.9 1387.2L1616.0 1387.2L1618.0 1387.1L1620.0 1387.0L1622.0 1386.9L1624.0 1386.8L1626.0 1386.7L1628.0 1386.6L1630.0 1386.5L1632.0 1386.4L1634.0 1386.3L1636.0 1386.2L1638.0 1386.1L1640.0 1386.0L1642.0 1385.8L1644.0 1385.7L1646.1 1385.6L1648.1 1385.4L1650.1 1385.3L1652.1 1385.2L1654.1 1385.0L1656.1 1384.9L1658.1 1384.7L1660.1 1384.5L1662.1 1384.4L1664.1 1384.2L1666.1 1384.0L1668.1 1383.9L1670.1 1383.7L1672.1 1383.5L1674.1 1383.4L1676.1 1383.2L1678.1 1383.0L1680.1 1382.8L1682.1 1382.7L1684.1 1382.5L1686.1 1382.3L1688.0 1382.2L1690.0 1382.0L1692.0 1381.8L1694.0 1381.7L1696.0 1381.5L1698.0 1381.3L1700.0 1381.2L1702.0 1381.0L1704.0 1380.9L1706.0 1380.8L1708.0 1380.6L1710.0 1380.5L1712.0 1380.3L1714.0 1380.2L1716.0 1380.1L1718.0 1380.0L1720.0 1379.9L1722.0 1379.8L1724.0 1379.7L1726.0 1379.6L1728.0 1379.5L1730.0 1379.4L1732.1 1379.4L1734.2 1379.3L1736.3 1379.3L1738.4 1379.2L1740.5 1379.2L1742.7 1379.1L1744.8 1379.1L1747.0 1379.1L1749.2 1379.0L1751.4 1379.0L1753.6 1379.0L1755.8 1379.0L1758.0 1379.0L1760.2 1379.0L1762.3 1379.0L1764.5 1379.0L1766.7 1379.0L1768.9 1379.0L1771.1 1379.0L1773.3 1379.0L1775.4 1379.0L1777.6 1379.0L1779.7 1379.0L1781.8 1379.0L1783.9 1379.0L1786.0 1379.0L1788.0 1379.0L1790.0 1379.0L1792.1 1379.0L1794.0 1379.0L1796.0 1379.0L1797.9 1379.0L1799.8 1379.0L1801.6 1379.0L1803.5 1378.9L1805.2 1378.9L1807.0 1378.9L1808.7 1378.9L1810.4 1378.8L1812.0 1378.8L1813.6 1378.8L1815.1 1378.7L1816.6 1378.7L1818.0 1378.6L1820.6 1378.5L1823.1 1378.4L1825.5 1378.3L1827.8 1378.2L1829.9 1378.1L1832.0 1378.0L1834.0 1377.8L1836.0 1377.7L1837.8 1377.5L1839.7 1377.3L1841.5 1377.1L1843.2 1376.8L1845.0 1376.5L1847.4 1376.0L1849.7 1375.4L1851.9 1374.8L1854.0 1374.1L1856.0 1373.5L1858.0 1372.7L1860.0 1372.0L1862.0 1371.1L1863.8 1370.1L1865.7 1369.1L1867.5 1368.1L1869.2 1367.4L1871.0 1367.0L1873.3 1367.0L1875.6 1367.4L1877.9 1368.1L1880.0 1369.0L1882.0 1370.3L1884.1 1372.1L1886.0 1374.0L1887.5 1375.4L1888.0 1376.0"/>
<path stroke="#00ffff" d="M354.0 1389.0L354.3 1389.0L355.3 1389.0L356.8 1388.9L358.8 1388.9L361.0 1388.9L363.5 1389.0L366.1 1389.0L368.8 1389.2L371.4 1389.4L373.8 1389.6L376.0 1390.0L378.0 1390.5L380.0 1391.2L382.0 1392.1L384.1 1393.0L386.1 1394.1L388.1 1395.1L390.1 1396.1L392.1 1397.0L394.1 1397.8L396.1 1398.4L398.1 1398.8L400.0 1399.0L402.0 1398.9L404.0 1398.4L405.9 1397.7L407.8 1396.9L409.6 1396.0L411.5 1395.0L413.5 1394.0L415.5 1393.2L417.7 1392.5L420.0 1392.0L421.7 1391.8L423.4 1391.7L425.2 1391.6L427.1 1391.6L429.0 1391.6L430.9 1391.6L432.9 1391.7L435.0 1391.9L437.0 1392.0L439.1 1392.2L441.2 1392.4L443.3 1392.6L445.4 1392.8L447.5 1393.0L449.7 1393.3L451.8 1393.4L453.9 1393.6L455.9 1393.8L458.0 1393.9L460.0 1394.0L462.0 1394.1L464.0 1394.2L465.9 1394.2L467.9 1394.3L469.8 1394.4L471.7 1394.4L473.7 1394.5L475.6 1394.6L477.5 1394.6L479.5 1394.7L481.4 1394.8L483.4 1394.8L485.4 1394.9L487.4 1394.9L489.4 1394.9L491.5 1395.0L493.6 1395.0L495.7 1395.0L497.8 1395.0L500.0 1395.0L501.8 1395.0L503.6 1395.0L505.5 1394.9L507.4 1394.9L509.3 1394.9L511.2 1394.8L513.2 1394.8L515.1 1394.7L517.1 1394.7L519.1 1394.6L521.1 1394.5L523.1 1394.5L525.2 1394.4L527.2 1394.3L529.2 1394.2L531.3 1394.1L533.4 1394.1L535.4 1394.0L537.5 1393.9L539.6 1393.8L541.6 1393.7L543.7 1393.6L545.7 1393.5L547.8 1393.5L549.9 1393.4L551.9 1393.3L553.9 1393.2L556.0 1393.1L558.0 1393.1L560.0 1393.0L562.0 1392.9L564.0 1392.9L566.0 1392.8L568.0 1392.7L570.0 1392.7L572.0 1392.6L574.0 1392.5L576.0 1392.5L578.0 1392.4L580.0 1392.3L582.0 1392.3L584.0 1392.2L586.0 1392.1L588.0 1392.1L590.0 1392.0L592.0 1391.9L594.0 1391.9L596.0 1391.8L598.0 1391.7L600.0 1391.7L602.0 1391.6L604.0 1391.5L606.0 1391.5L608.0 1391.4L610.0 1391.3L612.0 1391.3L614.0 1391.2L616.0 1391.1L618.0 1391.1L620.0 1391.0L622.0 1390.9L624.0 1390.9L626.1 1390.8L628.1 1390.7L630.1 1390.6L632.2 1390.6L634.3 1390.5L636.3 1390.4L638.4 1390.3L640.4 1390.3L642.5 1390.2L644.6 1390.1L646.6 1390.0L648.7 1389.9L650.8 1389.9L652.8 1389.8L654.8 1389.7L656.9 1389.6L658.9 1389.6L660.9 1389.5L662.9 1389.4L664.9 1389.4L666.8 1389.3L668.8 1389.3L670.7 1389.2L672.6 1389.2L674.5 1389.1L676.4 1389.1L678.2 1389.0L680.0 1389.0L682.2 1389.0L684.4 1388.9L686.5 1388.8L688.7 1388.8L690.8 1388.7L692.9 1388.6L695.0 1388.6L697.1 1388.5L699.1 1388.5L701.2 1388.4L703.2 1388.4L705.1 1388.4L707.1 1388.4L709.0 1388.4L710.9 1388.4L712.8 1388.5L714.6 1388.6L716.5 1388.7L718.2 1388.8L720.0 1389.0L722.2 1389.3L724.3 1389.7L726.4 1390.2L728.3 1390.7L730.3 1391.3L732.2 1391.8L734.1 1392.4L736.0 1392.9L737.9 1393.4L739.9 1393.9L741.9 1394.2L744.0 1394.5L745.9 1394.6L747.8 1394.7L749.7 1394.8L751.6 1394.8L753.6 1394.7L755.6 1394.6L757.6 1394.5L759.6 1394.4L761.7 1394.3L763.7 1394.1L765.8 1394.0L767.8 1393.8L769.9 1393.7L771.9 1393.6L774.0 1393.5L776.0 1393.5L778.0 1393.5L780.0 1393.5L782.0 1393.5L784.0 1393.5L786.0 1393.5L788.0 1393.5L790.0 1393.6L792.1 1393.6L794.1 1393.6L796.1 1393.7L798.1 1393.7L800.1 1393.8L802.1 1393.8L804.1 1393.9L806.1 1393.9L808.1 1394.0L810.0 1394.0L812.0 1394.1L814.0 1394.1L816.0 1394.2L817.9 1394.3L819.8 1394.4L821.6 1394.5L823.5 1394.6L825.4 1394.7L827.4 1394.7L829.3 1394.8L831.3 1394.9L833.4 1394.9L835.5 1394.9L837.7 1394.9L840.0 1394.8L841.7 1394.7L843.4 1394.7L845.2 1394.6L847.0 1394.5L848.9 1394.3L850.8 1394.2L852.7 1394.1L854.7 1393.9L856.7 1393.7L858.7 1393.6L860.8 1393.4L862.9 1393.2L864.9 1393.0L867.0 1392.8L869.2 1392.6L871.3 1392.4L873.4 1392.1L875.5 1391.9L877.6 1391.7L879.8 1391.5L881.9 1391.2L884.0 1391.0L886.0 1390.8L888.1 1390.6L890.2 1390.3L892.2 1390.1L894.2 1389.9L896.2 1389.7L898.1 1389.5L900.0 1389.3L902.1 1389.1L904.2 1388.9L906.2 1388.7L908.3 1388.5L910.3 1388.3L912.3 1388.1L914.3 1387.9L916.3 1387.8L918.3 1387.6L920.3 1387.4L922.3 1387.2L924.2 1387.0L926.2 1386.8L928.1 1386.6L930.1 1386.4L932.0 1386.2L934.0 1385.9L935.9 1385.7L937.9 1385.4L939.8 1385.1L941.8 1384.8L943.8 1384.5L945.7 1384.2L947.7 1383.8L949.7 1383.4L951.8 1383.0L953.8 1382.6L955.9 1382.1L958.0 1381.7L960.1 1381.2L962.2 1380.7L964.3 1380.2L966.4 1379.7L968.5 1379.1L970.6 1378.6L972.7 1378.0L974.8 1377.5L976.9 1376.9L978.9 1376.3L980.9 1375.7L982.9 1375.1L984.8 1374.6L986.7 1374.0L988.6 1373.4L990.4 1372.8L992.1 1372.2L993.8 1371.6L995.5 1371.0L997.6 1370.2L999.7 1369.4L1001.7 1368.7L1003.5 1367.9L1005.4 1367.1L1007.2 1366.3L1008.9 1365.5L1010.7 1364.7L1012.4 1363.8L1014.1 1362.9L1015.8 1362.0L1017.5 1361.0L1019.3 1360.0L1021.1 1358.9L1022.9 1357.8L1024.7 1356.6L1026.5 1355.4L1028.3 1354.2L1030.1 1352.9L1031.9 1351.6L1033.7 1350.3L1035.4 1349.0L1037.1 1347.7L1038.7 1346.4L1040.3 1345.1L1041.8 1343.8L1043.2 1342.6L1045.0 1341.0L1046.6 1339.4L1048.1 1337.8L1049.6 1336.2L1051.0 1334.6L1052.3 1333.1L1053.7 1331.5L1055.0 1330.0L1056.6 1328.3L1058.2 1326.6L1059.8 1325.0L1061.3 1323.3L1062.7 1321.4L1064.0 1319.3L1064.8 1317.7L1065.6 1316.0L1066.3 1314.1L1066.9 1312.2L1067.5 1310.1L1068.1 1308.1L1068.7 1305.9L1069.3 1303.8L1069.8 1301.7L1070.5 1299.6L1071.1 1297.5L1071.8 1295.5L1072.5 1293.5L1073.3 1291.5L1074.1 1289.5L1075.0 1287.5L1075.8 1285.5L1076.7 1283.6L1077.5 1281.6L1078.3 1279.6L1079.1 1277.6L1079.9 1275.6L1080.7 1273.6L1081.4 1271.6L1082.1 1269.6L1082.7 1267.6L1083.3 1265.7L1084.0 1263.7L1084.5 1261.7L1085.1 1259.7L1085.7 1257.7L1086.2 1255.7L1086.8 1253.7L1087.3 1251.7L1087.8 1249.7L1088.3 1247.7L1088.8 1245.7L1089.3 1243.7L1089.7 1241.8L1090.2 1239.8L1090.6 1237.8L1091.0 1235.8L1091.4 1233.8L1091.8 1231.9L1092.2 1229.9L1092.6 1227.9L1093.0 1225.9L1093.3 1223.9L1093.6 1221.9L1094.0 1219.8L1094.3 1217.7L1094.6 1215.6L1094.9 1213.4L1095.1 1211.3L1095.4 1209.2L1095.6 1207.2L1095.9 1205.3L1096.1 1203.4L1096.3 1201.6L1096.5 1200.0L1096.7 1197.7L1096.9 1195.6L1097.0 1193.7L1097.2 1191.8L1097.5 1190.0L1097.9 1187.8L1098.3 1185.7L1099.0 1183.8L1100.0 1182.0L1101.6 1180.5L1103.6 1179.2L1105.8 1178.0L1108.0 1177.0L1110.0 1176.2L1112.1 1175.7L1114.2 1175.0L1116.0 1174.0L1117.4 1172.6L1118.7 1171.0L1119.8 1169.1L1120.9 1167.1L1122.0 1165.0L1122.9 1163.2L1123.7 1161.3L1124.6 1159.4L1125.3 1157.3L1126.1 1155.1L1126.8 1152.7L1127.5 1150.0L1127.8 1148.6L1128.2 1147.1L1128.5 1145.5L1128.8 1143.8L1129.1 1142.1L1129.4 1140.4L1129.7 1138.6L1130.0 1136.7L1130.3 1134.8L1130.6 1132.9L1130.9 1130.9L1131.2 1128.8L1131.4 1126.7L1131.7 1124.6L1131.9 1122.5L1132.2 1120.3L1132.5 1118.1L1132.7 1115.9L1133.0 1113.7L1133.2 1111.4L1133.5 1109.2L1133.7 1106.9L1134.0 1104.6L1134.2 1102.3L1134.5 1100.0L1134.7 1098.3L1134.9 1096.5L1135.1 1094.8L1135.3 1093.0L1135.5 1091.2L1135.6 1089.4L1135.8 1087.6L1136.0 1085.7L1136.2 1083.8L1136.4 1082.0L1136.6 1080.1L1136.8 1078.1L1137.0 1076.2L1137.1 1074.3L1137.3 1072.3L1137.5 1070.3L1137.7 1068.3L1137.9 1066.3L1138.0 1064.3L1138.2 1062.3L1138.4 1060.3L1138.6 1058.2L1138.8 1056.2L1138.9 1054.1L1139.1 1052.1L1139.3 1050.0L1139.4 1047.9L1139.6 1045.8L1139.8 1043.8L1140.0 1041.7L1140.1 1039.6L1140.3 1037.5L1140.4 1035.3L1140.6 1033.2L1140.8 1031.1L1140.9 1029.0L1141.1 1026.9L1141.2 1024.8L1141.4 1022.7L1141.6 1020.5L1141.7 1018.4L1141.9 1016.3L1142.0 1014.2L1142.2 1012.1L1142.3 1010.0L1142.4 1008.1L1142.6 1006.2L1142.7 1004.3L1142.8 1002.3L1142.9 1000.4L1143.1 998.4L1143.2 996.5L1143.3 994.5L1143.4 992.5L1143.5 990.5L1143.6 988.5L1143.7 986.5L1143.8 984.5L1144.0 982.5L1144.1 980.5L1144.2 978.5L1144.3 976.5L1144.4 974.4L1144.5 972.4L1144.6 970.4L1144.7 968.3L1144.8 966.3L1144.9 964.2L1145.0 962.2L1145.1 960.1L1145.2 958.1L1145.3 956.0L1145.4 954.0L1145.5 951.9L1145.6 949.9L1145.6 947.8L1145.7 945.8L1145.8 943.7L1145.9 941.7L1146.0 939.7L1146.1 937.6L1146.2 935.6L1146.3 933.6L1146.4 931.5L1146.5 929.5L1146.6 927.5L1146.7 925.5L1146.8 923.5L1146.9 921.5L1147.0 919.5L1147.1 917.5L1147.2 915.5L1147.3 913.5L1147.4 911.6L1147.5 909.6L1147.6 907.7L1147.7 905.7L1147.8 903.8L1147.9 901.9L1148.0 900.0L1148.1 897.9L1148.2 895.8L1148.3 893.7L1148.5 891.7L1148.6 889.6L1148.7 887.5L1148.8 885.5L1148.9 883.5L1149.0 881.4L1149.1 879.4L1149.2 877.4L1149.3 875.3L1149.5 873.3L1149.6 871.3L1149.7 869.3L1149.8 867.3L1149.9 865.3L1150.0 863.3L1150.1 861.4L1150.2 859.4L1150.3 857.4L1150.4 855.4L1150.6 853.4L1150.7 851.5L1150.8 849.5L1150.9 847.5L1151.0 845.6L1151.1 843.6L1151.3 841.6L1151.4 839.7L1151.5 837.7L1151.6 835.7L1151.8 833.8L1151.9 831.8L1152.0 829.8L1152.2 827.8L1152.3 825.9L1152.4 823.9L1152.6 821.9L1152.7 819.9L1152.9 818.0L1153.0 816.0L1153.2 814.0L1153.3 812.0L1153.5 810.0L1153.7 808.0L1153.8 805.9L1154.0 803.9L1154.2 801.8L1154.4 799.7L1154.6 797.6L1154.7 795.5L1154.9 793.3L1155.1 791.2L1155.3 789.0L1155.5 786.8L1155.7 784.6L1155.9 782.5L1156.1 780.3L1156.3 778.1L1156.6 775.9L1156.8 773.7L1157.0 771.5L1157.2 769.3L1157.4 767.2L1157.6 765.0L1157.8 762.8L1158.1 760.7L1158.3 758.6L1158.5 756.4L1158.7 754.3L1158.9 752.3L1159.2 750.2L1159.4 748.2L1159.6 746.2L1159.8 744.2L1160.0 742.2L1160.3 740.3L1160.5 738.4L1160.7 736.5L1160.9 734.7L1161.1 732.9L1161.3 731.1L1161.5 729.4L1161.7 727.7L1161.9 726.1L1162.1 724.5L1162.3 723.0L1162.5 721.5L1162.7 720.0L1163.0 717.5L1163.4 715.1L1163.7 712.8L1164.0 710.5L1164.3 708.4L1164.7 706.3L1165.0 704.3L1165.3 702.4L1165.6 700.5L1165.9 698.7L1166.2 697.0L1166.6 695.4L1166.9 693.8L1167.2 692.3L1167.8 689.9L1168.3 687.9L1168.9 686.0L1169.4 684.1L1170.0 682.2L1170.6 680.1L1171.2 678.0L1171.7 675.9L1172.4 673.9L1173.0 672.0L1173.9 669.6L1174.9 667.4L1176.0 665.5L1177.4 663.7L1178.9 661.9L1180.4 659.5L1182.0 657.0L1183.1 655.3L1184.3 653.6L1185.5 651.7L1186.4 649.9L1187.3 647.9L1188.3 645.8L1189.2 643.7L1190.1 641.6L1191.0 639.5L1191.9 637.3L1192.8 635.2L1193.7 633.2L1194.6 631.5L1196.2 628.9L1198.0 627.0L1199.9 625.8L1202.0 625.3L1204.1 626.0L1206.0 627.5L1207.5 629.7L1208.6 632.5L1209.2 634.5L1209.7 636.7L1210.2 639.1L1210.6 641.6L1210.9 643.4L1211.1 645.3L1211.3 647.2L1211.4 649.3L1211.6 651.4L1211.8 653.4L1212.0 655.5L1212.2 657.6L1212.5 659.7L1212.7 661.8L1213.0 663.9L1213.3 666.1L1213.6 668.2L1213.9 670.4L1214.2 672.7L1214.5 675.0L1214.7 676.9L1214.9 678.9L1215.1 681.0L1215.3 683.1L1215.6 685.2L1215.8 687.4L1216.0 689.6L1216.2 691.7L1216.4 693.8L1216.6 695.9L1216.8 698.0L1217.0 700.0L1217.2 702.0L1217.5 703.9L1217.7 705.7L1217.9 707.5L1218.2 709.2L1218.4 711.1L1218.6 713.0L1218.9 715.1L1219.1 717.4L1219.4 720.0L1219.5 721.3L1219.7 722.7L1219.8 724.1L1219.9 725.6L1220.1 727.1L1220.2 728.7L1220.4 730.4L1220.5 732.0L1220.7 733.8L1220.8 735.6L1221.0 737.4L1221.2 739.2L1221.3 741.1L1221.5 743.1L1221.7 745.0L1221.8 747.0L1222.0 749.1L1222.2 751.1L1222.3 753.2L1222.5 755.3L1222.7 757.4L1222.9 759.6L1223.0 761.7L1223.2 763.9L1223.4 766.1L1223.5 768.3L1223.7 770.5L1223.9 772.8L1224.1 775.0L1224.2 777.2L1224.4 779.5L1224.6 781.7L1224.7 784.0L1224.9 786.2L1225.0 788.4L1225.2 790.7L1225.4 792.9L1225.5 795.1L1225.7 797.3L1225.8 799.4L1226.0 801.6L1226.1 803.7L1226.2 805.8L1226.4 807.9L1226.5 810.0L1226.6 811.9L1226.7 813.9L1226.9 815.9L1227.0 817.8L1227.1 819.8L1227.2 821.8L1227.3 823.7L1227.4 825.7L1227.5 827.7L1227.6 829.7L1227.7 831.6L1227.8 833.6L1227.9 835.6L1228.0 837.6L1228.1 839.6L1228.2 841.6L1228.3 843.6L1228.4 845.6L1228.5 847.6L1228.6 849.6L1228.7 851.6L1228.8 853.6L1228.8 855.6L1228.9 857.7L1229.0 859.7L1229.1 861.7L1229.2 863.7L1229.3 865.7L1229.4 867.7L1229.4 869.7L1229.5 871.8L1229.6 873.8L1229.7 875.8L1229.8 877.8L1229.9 879.8L1230.0 881.8L1230.0 883.9L1230.1 885.9L1230.2 887.9L1230.3 889.9L1230.4 891.9L1230.5 893.9L1230.6 896.0L1230.6 898.0L1230.7 900.0L1230.8 902.0L1230.9 904.0L1231.0 906.0L1231.1 908.0L1231.2 910.0L1231.3 912.0L1231.4 914.0L1231.5 916.0L1231.6 918.0L1231.7 920.0L1231.8 922.0L1231.9 924.0L1232.0 926.1L1232.1 928.1L1232.2 930.1L1232.3 932.1L1232.3 934.1L1232.4 936.1L1232.5 938.1L1232.6 940.2L1232.7 942.2L1232.8 944.2L1232.9 946.2L1233.0 948.2L1233.1 950.3L1233.2 952.3L1233.3 954.3L1233.4 956.3L1233.5 958.3L1233.6 960.3L1233.7 962.3L1233.8 964.4L1233.9 966.4L1234.0 968.4L1234.1 970.4L1234.2 972.4L1234.3 974.4L1234.4 976.4L1234.5 978.4L1234.6 980.4L1234.7 982.4L1234.8 984.4L1234.8 986.4L1234.9 988.4L1235.0 990.3L1235.1 992.3L1235.2 994.3L1235.3 996.3L1235.4 998.2L1235.5 1000.2L1235.6 1002.2L1235.7 1004.1L1235.8 1006.1L1235.9 1008.1L1236.0 1010.0L1236.1 1012.0L1236.2 1014.1L1236.3 1016.1L1236.4 1018.2L1236.5 1020.2L1236.6 1022.2L1236.7 1024.2L1236.8 1026.2L1236.9 1028.2L1237.0 1030.2L1237.1 1032.2L1237.2 1034.2L1237.3 1036.2L1237.4 1038.2L1237.5 1040.2L1237.6 1042.2L1237.7 1044.1L1237.7 1046.1L1237.8 1048.1L1237.9 1050.1L1238.0 1052.0L1238.1 1054.0L1238.2 1056.0L1238.3 1058.0L1238.4 1059.9L1238.5 1061.9L1238.6 1063.9L1238.7 1065.9L1238.8 1067.8L1238.9 1069.8L1239.0 1071.8L1239.1 1073.8L1239.2 1075.8L1239.3 1077.8L1239.4 1079.8L1239.5 1081.8L1239.6 1083.8L1239.7 1085.8L1239.8 1087.8L1239.9 1089.8L1240.1 1091.8L1240.2 1093.9L1240.3 1095.9L1240.4 1098.0L1240.5 1100.0L1240.6 1102.0L1240.7 1103.9L1240.8 1105.9L1240.9 1107.9L1241.0 1109.9L1241.1 1112.0L1241.2 1114.0L1241.4 1116.1L1241.5 1118.1L1241.6 1120.2L1241.7 1122.3L1241.8 1124.4L1241.9 1126.5L1242.0 1128.6L1242.1 1130.7L1242.2 1132.8L1242.3 1134.9L1242.4 1137.0L1242.6 1139.2L1242.7 1141.3L1242.8 1143.4L1242.9 1145.5L1243.0 1147.6L1243.1 1149.7L1243.2 1151.8L1243.4 1153.9L1243.5 1156.0L1243.6 1158.1L1243.7 1160.2L1243.8 1162.2L1244.0 1164.3L1244.1 1166.3L1244.2 1168.4L1244.3 1170.4L1244.4 1172.4L1244.6 1174.4L1244.7 1176.3L1244.8 1178.3L1245.0 1180.2L1245.1 1182.1L1245.2 1184.0L1245.4 1185.9L1245.5 1187.7L1245.6 1189.6L1245.8 1191.4L1245.9 1193.2L1246.1 1194.9L1246.2 1196.6L1246.4 1198.3L1246.5 1200.0L1246.7 1202.3L1246.9 1204.6L1247.2 1206.8L1247.4 1209.0L1247.6 1211.2L1247.8 1213.3L1248.1 1215.4L1248.3 1217.5L1248.5 1219.5L1248.8 1221.5L1249.0 1223.5L1249.3 1225.5L1249.5 1227.4L1249.8 1229.3L1250.0 1231.2L1250.3 1233.1L1250.5 1235.0L1250.8 1236.9L1251.0 1238.8L1251.3 1240.6L1251.5 1242.5L1251.8 1244.4L1252.0 1246.2L1252.3 1248.1L1252.5 1250.0L1252.8 1252.1L1253.0 1254.2L1253.3 1256.4L1253.6 1258.5L1253.8 1260.6L1254.1 1262.8L1254.3 1264.9L1254.6 1267.0L1254.9 1269.1L1255.1 1271.2L1255.4 1273.2L1255.7 1275.2L1255.9 1277.2L1256.2 1279.2L1256.5 1281.1L1256.8 1283.0L1257.1 1284.8L1257.4 1286.6L1257.7 1288.3L1258.0 1290.0L1258.5 1292.3L1258.9 1294.5L1259.4 1296.5L1259.8 1298.5L1260.3 1300.5L1260.8 1302.4L1261.3 1304.2L1261.9 1306.1L1262.4 1308.0L1263.0 1310.0L1263.6 1312.0L1264.2 1314.0L1264.9 1316.0L1265.5 1318.0L1266.2 1320.1L1266.9 1322.1L1267.6 1324.0L1268.4 1326.0L1269.2 1328.0L1270.0 1330.0L1270.8 1331.9L1271.6 1333.7L1272.4 1335.6L1273.3 1337.5L1274.2 1339.4L1275.1 1341.3L1276.0 1343.1L1277.0 1344.9L1277.9 1346.7L1279.0 1348.4L1280.0 1350.0L1281.2 1351.8L1282.4 1353.5L1283.7 1355.1L1284.9 1356.7L1286.3 1358.3L1287.6 1359.8L1289.0 1361.2L1290.5 1362.6L1292.0 1364.0L1293.6 1365.3L1295.3 1366.5L1297.0 1367.7L1298.8 1368.8L1300.6 1369.9L1302.5 1371.0L1304.3 1372.0L1306.2 1373.0L1308.0 1374.0L1310.0 1375.1L1312.0 1376.2L1313.9 1377.3L1315.9 1378.4L1317.9 1379.4L1319.9 1380.3L1322.0 1381.2L1324.0 1382.0L1326.0 1382.7L1327.9 1383.3L1329.9 1383.9L1331.8 1384.4L1333.8 1384.8L1335.8 1385.3L1337.9 1385.6L1340.0 1386.0L1341.9 1386.3L1343.7 1386.5L1345.6 1386.7L1347.5 1386.9L1349.4 1387.1L1351.4 1387.2L1353.4 1387.3L1355.5 1387.4L1357.7 1387.5L1360.0 1387.6L1361.7 1387.7L1363.4 1387.7L1365.2 1387.7L1367.0 1387.8L1368.8 1387.8L1370.7 1387.8L1372.7 1387.8L1374.6 1387.8L1376.6 1387.8L1378.6 1387.8L1380.7 1387.8L1382.8 1387.8L1384.9 1387.7L1387.0 1387.7L1389.1 1387.7L1391.3 1387.7L1393.4 1387.6L1395.6 1387.6L1397.8 1387.6L1400.0 1387.6L1401.8 1387.6L1403.7 1387.6L1405.6 1387.6L1407.5 1387.5L1409.4 1387.5L1411.4 1387.5L1413.4 1387.5L1415.4 1387.5L1417.5 1387.4L1419.6 1387.4L1421.6 1387.4L1423.7 1387.3L1425.8 1387.3L1427.9 1387.3L1430.0 1387.3L1432.1 1387.2L1434.2 1387.2L1436.3 1387.2L1438.4 1387.1L1440.4 1387.1L1442.5 1387.1L1444.6 1387.1L1446.6 1387.1L1448.6 1387.0L1450.6 1387.0L1452.5 1387.0L1454.4 1387.0L1456.3 1387.0L1458.2 1387.0L1460.0 1387.0L1462.2 1387.0L1464.3 1387.0L1466.4 1387.0L1468.5 1387.1L1470.5 1387.1L1472.6 1387.1L1474.6 1387.2L1476.5 1387.2L1478.5 1387.2L1480.4 1387.3L1482.4 1387.3L1484.3 1387.3L1486.2 1387.4L1488.2 1387.4L1490.1 1387.4L1492.1 1387.5L1494.0 1387.5L1496.0 1387.5L1498.0 1387.5L1500.0 1387.5L1502.0 1387.5L1503.9 1387.5L1505.8 1387.5L1507.7 1387.5L1509.6 1387.5L1511.5 1387.5L1513.3 1387.4L1515.2 1387.4L1517.1 1387.4L1519.0 1387.4L1520.9 1387.3L1522.8 1387.3L1524.8 1387.3L1526.8 1387.2L1528.8 1387.2L1530.9 1387.1L1533.0 1387.1L1535.1 1387.0L1537.4 1387.0L1539.6 1386.9L1542.0 1386.8L1543.6 1386.7L1545.3 1386.7L1547.0 1386.6L1548.7 1386.5L1550.5 1386.5L1552.2 1386.4L1554.1 1386.3L1555.9 1386.2L1557.7 1386.1L1559.6 1386.0L1561.5 1385.9L1563.5 1385.8L1565.4 1385.7L1567.4 1385.6L1569.4 1385.5L1571.4 1385.4L1573.4 1385.3L1575.4 1385.2L1577.5 1385.1L1579.5 1384.9L1581.6 1384.8L1583.7 1384.7L1585.8 1384.6L1587.9 1384.5L1590.0 1384.3L1592.1 1384.2L1594.2 1384.1L1596.3 1384.0L1598.5 1383.8L1600.6 1383.7L1602.7 1383.6L1604.9 1383.5L1607.0 1383.3L1609.1 1383.2L1611.2 1383.1L1613.3 1383.0L1615.5 1382.8L1617.6 1382.7L1619.7 1382.6L1621.7 1382.5L1623.8 1382.4L1625.9 1382.2L1627.9 1382.1L1630.0 1382.0L1632.0 1381.9L1634.0 1381.8L1636.0 1381.7L1638.0 1381.6L1640.0 1381.5L1642.0 1381.4L1644.0 1381.2L1646.0 1381.1L1648.0 1381.0L1650.0 1380.9L1652.0 1380.8L1654.0 1380.6L1656.0 1380.5L1658.0 1380.4L1660.0 1380.3L1662.0 1380.1L1664.0 1380.0L1666.0 1379.9L1668.0 1379.8L1670.0 1379.6L1672.0 1379.5L1674.0 1379.4L1676.0 1379.3L1678.0 1379.2L1680.0 1379.0L1682.0 1378.9L1684.0 1378.8L1686.0 1378.7L1688.0 1378.6L1690.0 1378.5L1692.0 1378.4L1694.0 1378.2L1696.0 1378.1L1698.0 1378.0L1700.0 1377.9L1702.0 1377.8L1704.0 1377.8L1706.0 1377.7L1708.0 1377.6L1710.0 1377.5L1712.0 1377.4L1714.0 1377.3L1716.0 1377.3L1718.0 1377.2L1720.0 1377.2L1722.0 1377.1L1724.0 1377.0L1726.0 1377.0L1728.0 1377.0L1730.0 1376.9L1732.0 1376.9L1734.1 1376.9L1736.1 1376.9L1738.2 1376.9L1740.2 1376.8L1742.3 1376.8L1744.3 1376.9L1746.4 1376.9L1748.5 1376.9L1750.5 1376.9L1752.6 1376.9L1754.7 1376.9L1756.8 1377.0L1758.8 1377.0L1760.9 1377.0L1763.0 1377.1L1765.1 1377.1L1767.1 1377.1L1769.2 1377.2L1771.3 1377.2L1773.3 1377.3L1775.4 1377.3L1777.4 1377.3L1779.5 1377.4L1781.5 1377.4L1783.5 1377.5L1785.6 1377.5L1787.6 1377.6L1789.6 1377.6L1791.6 1377.6L1793.5 1377.7L1795.5 1377.7L1797.5 1377.7L1799.4 1377.8L1801.3 1377.8L1803.3 1377.8L1805.2 1377.8L1807.0 1377.8L1808.9 1377.8L1810.8 1377.8L1812.6 1377.8L1814.4 1377.8L1816.2 1377.8L1818.0 1377.8L1820.3 1377.8L1822.7 1377.7L1825.1 1377.7L1827.6 1377.6L1830.2 1377.6L1832.8 1377.5L1835.5 1377.4L1838.2 1377.4L1840.8 1377.3L1843.5 1377.2L1846.2 1377.1L1848.8 1377.0L1851.3 1376.9L1853.9 1376.9L1856.3 1376.8L1858.7 1376.7L1860.9 1376.6L1863.1 1376.5L1865.1 1376.4L1867.0 1376.4L1868.8 1376.3L1870.4 1376.2L1871.8 1376.2L1873.0 1376.1L1874.1 1376.1L1874.9 1376.0L1875.5 1376.0L1875.9 1376.0L1876.0 1376.0"/>
<path stroke="#ff00ff" d="M357.0 1397.0L358.0 1396.6L360.3 1395.8L363.3 1394.8L366.0 1394.0L367.9 1393.4L369.9 1392.9L371.9 1392.4L373.9 1392.0L376.0 1392.0L377.9 1392.3L379.9 1392.8L381.9 1393.5L383.9 1394.3L385.9 1395.2L388.0 1396.0L390.0 1396.9L392.0 1397.9L394.1 1399.1L396.1 1400.2L398.1 1401.1L400.1 1401.7L402.0 1402.0L404.1 1401.7L406.1 1401.0L408.1 1400.1L410.0 1399.0L412.0 1398.0L414.0 1397.0L415.8 1395.8L417.7 1394.7L419.8 1393.7L422.0 1393.0L423.7 1392.8L425.4 1392.8L427.2 1392.9L429.0 1393.1L431.0 1393.4L433.0 1393.7L435.2 1394.1L437.5 1394.3L440.0 1394.5L441.5 1394.6L443.0 1394.6L444.6 1394.7L446.2 1394.7L448.0 1394.8L449.8 1394.8L451.6 1394.9L453.5 1394.9L455.4 1394.9L457.4 1395.0L459.4 1395.0L461.5 1395.0L463.6 1395.1L465.7 1395.1L467.8 1395.1L470.0 1395.1L472.1 1395.1L474.3 1395.1L476.5 1395.1L478.7 1395.1L480.9 1395.1L483.1 1395.1L485.3 1395.1L487.4 1395.1L489.6 1395.1L491.7 1395.1L493.8 1395.1L495.9 1395.0L498.0 1395.0L500.0 1395.0L502.0 1395.0L504.0 1394.9L506.0 1394.9L507.9 1394.9L509.9 1394.8L511.9 1394.8L513.8 1394.7L515.8 1394.7L517.7 1394.6L519.7 1394.6L521.6 1394.5L523.6 1394.4L525.5 1394.4L527.5 1394.3L529.5 1394.2L531.4 1394.2L533.4 1394.1L535.4 1394.0L537.4 1393.9L539.4 1393.9L541.4 1393.8L543.4 1393.7L545.4 1393.6L547.5 1393.5L549.5 1393.4L551.6 1393.4L553.7 1393.3L555.8 1393.2L557.9 1393.1L560.0 1393.0L561.9 1392.9L563.8 1392.8L565.7 1392.8L567.7 1392.7L569.6 1392.6L571.6 1392.5L573.7 1392.4L575.7 1392.3L577.8 1392.2L579.8 1392.1L581.9 1391.9L584.0 1391.8L586.1 1391.7L588.2 1391.6L590.4 1391.5L592.5 1391.4L594.6 1391.3L596.7 1391.2L598.9 1391.0L601.0 1390.9L603.1 1390.8L605.2 1390.7L607.3 1390.6L609.4 1390.5L611.5 1390.4L613.6 1390.2L615.6 1390.1L617.7 1390.0L619.7 1389.9L621.7 1389.8L623.6 1389.7L625.6 1389.6L627.5 1389.5L629.4 1389.5L631.2 1389.4L633.1 1389.3L634.9 1389.2L636.6 1389.1L638.3 1389.1L640.0 1389.0L642.3 1388.9L644.6 1388.8L646.8 1388.8L648.9 1388.7L651.1 1388.6L653.1 1388.6L655.2 1388.5L657.2 1388.5L659.2 1388.5L661.1 1388.4L663.1 1388.4L665.0 1388.3L666.9 1388.3L668.8 1388.3L670.6 1388.2L672.5 1388.2L674.4 1388.1L676.2 1388.1L678.1 1388.1L680.0 1388.0L682.1 1387.9L684.2 1387.9L686.4 1387.8L688.5 1387.7L690.6 1387.6L692.7 1387.4L694.7 1387.3L696.8 1387.2L698.8 1387.2L700.8 1387.1L702.8 1387.0L704.7 1387.0L706.6 1386.9L708.5 1386.9L710.3 1386.9L712.0 1387.0L714.2 1387.1L716.4 1387.2L718.5 1387.4L720.5 1387.6L722.5 1387.8L724.4 1388.1L726.3 1388.3L728.1 1388.7L730.0 1389.0L732.1 1389.5L734.0 1390.1L735.9 1390.8L737.8 1391.5L739.7 1392.1L741.8 1392.6L744.0 1393.0L745.7 1393.2L747.6 1393.2L749.5 1393.3L751.5 1393.2L753.5 1393.1L755.6 1393.0L757.7 1392.9L759.8 1392.7L761.9 1392.6L764.0 1392.4L766.0 1392.2L768.0 1392.1L770.0 1392.0L772.0 1391.9L774.0 1391.8L775.9 1391.7L777.8 1391.7L779.6 1391.6L781.5 1391.5L783.5 1391.4L785.4 1391.3L787.5 1391.2L789.7 1391.1L792.0 1391.0L793.6 1390.9L795.3 1390.9L797.1 1390.8L798.9 1390.7L800.7 1390.7L802.6 1390.6L804.5 1390.5L806.4 1390.5L808.4 1390.4L810.4 1390.3L812.5 1390.2L814.5 1390.2L816.6 1390.1L818.7 1390.0L820.8 1389.9L822.9 1389.8L825.1 1389.7L827.2 1389.7L829.3 1389.6L831.5 1389.5L833.6 1389.3L835.8 1389.2L837.9 1389.1L840.0 1389.0L841.9 1388.9L843.8 1388.8L845.8 1388.7L847.7 1388.5L849.7 1388.4L851.7 1388.3L853.7 1388.2L855.7 1388.0L857.7 1387.9L859.8 1387.8L861.8 1387.6L863.9 1387.5L865.9 1387.4L868.0 1387.2L870.0 1387.1L872.1 1386.9L874.1 1386.8L876.2 1386.6L878.2 1386.4L880.3 1386.3L882.3 1386.1L884.3 1385.9L886.3 1385.8L888.3 1385.6L890.3 1385.4L892.3 1385.2L894.3 1385.0L896.2 1384.8L898.1 1384.6L900.0 1384.4L902.1 1384.2L904.2 1383.9L906.2 1383.7L908.3 1383.5L910.3 1383.2L912.3 1383.0L914.3 1382.7L916.3 1382.5L918.3 1382.2L920.3 1382.0L922.3 1381.7L924.2 1381.4L926.2 1381.1L928.1 1380.9L930.1 1380.6L932.0 1380.3L934.0 1379.9L935.9 1379.6L937.9 1379.3L939.8 1379.0L941.8 1378.6L943.8 1378.3L945.7 1377.9L947.7 1377.5L949.7 1377.1L951.8 1376.7L953.8 1376.3L955.9 1375.8L958.0 1375.3L960.1 1374.9L962.2 1374.4L964.3 1373.9L966.4 1373.4L968.5 1372.9L970.6 1372.4L972.7 1371.9L974.8 1371.4L976.8 1370.8L978.8 1370.3L980.8 1369.8L982.8 1369.2L984.8 1368.7L986.7 1368.2L988.5 1367.7L990.3 1367.1L992.1 1366.6L993.8 1366.1L995.5 1365.6L997.8 1364.9L1000.0 1364.3L1002.1 1363.6L1004.2 1363.0L1006.1 1362.4L1008.1 1361.8L1010.0 1361.2L1011.9 1360.5L1013.7 1359.7L1015.6 1358.9L1017.4 1357.9L1019.3 1356.9L1021.0 1355.8L1022.7 1354.7L1024.4 1353.4L1026.1 1352.0L1027.7 1350.6L1029.4 1349.1L1031.1 1347.5L1032.7 1346.0L1034.3 1344.5L1035.9 1343.0L1037.4 1341.5L1038.9 1340.2L1040.4 1338.9L1041.8 1337.7L1043.2 1336.6L1045.1 1335.2L1046.8 1334.0L1048.5 1332.9L1050.1 1331.9L1051.7 1330.9L1053.3 1329.9L1055.0 1329.0L1057.0 1328.0L1059.0 1327.1L1061.0 1326.2L1063.0 1325.4L1065.0 1324.5L1067.0 1323.5L1069.1 1322.5L1071.2 1321.5L1073.3 1320.5L1075.3 1319.3L1077.2 1318.0L1079.0 1316.3L1080.2 1314.8L1081.3 1313.1L1082.3 1311.2L1083.3 1309.2L1084.2 1307.1L1085.0 1305.0L1085.9 1302.9L1086.7 1300.8L1087.6 1298.8L1088.5 1297.0L1089.6 1295.0L1090.7 1293.2L1091.8 1291.4L1092.8 1289.6L1093.9 1287.8L1095.0 1286.0L1096.0 1284.0L1096.9 1282.1L1097.9 1280.2L1098.8 1278.2L1099.7 1276.2L1100.6 1274.1L1101.5 1272.1L1102.3 1270.0L1103.2 1268.0L1104.0 1266.0L1104.8 1264.0L1105.6 1262.0L1106.4 1260.1L1107.1 1258.1L1107.9 1256.2L1108.6 1254.2L1109.3 1252.1L1110.0 1250.0L1110.6 1248.1L1111.2 1246.2L1111.7 1244.2L1112.3 1242.2L1112.8 1240.2L1113.4 1238.1L1113.9 1236.1L1114.4 1234.0L1115.0 1232.0L1115.5 1230.0L1116.0 1228.0L1116.5 1225.9L1117.0 1223.9L1117.4 1221.8L1117.8 1219.8L1118.3 1217.7L1118.7 1215.7L1119.2 1213.7L1119.7 1211.8L1120.3 1209.9L1121.0 1208.0L1121.8 1206.1L1122.7 1204.2L1123.7 1202.4L1124.8 1200.6L1125.8 1198.8L1126.9 1197.1L1128.0 1195.3L1129.0 1193.7L1130.0 1192.0L1131.2 1189.9L1132.5 1188.0L1133.7 1186.1L1134.9 1184.2L1136.0 1182.2L1137.0 1180.0L1137.7 1178.2L1138.3 1176.4L1138.8 1174.4L1139.4 1172.4L1139.9 1170.4L1140.3 1168.3L1140.8 1166.2L1141.2 1164.1L1141.6 1162.0L1142.0 1160.0L1142.4 1158.0L1142.7 1156.0L1143.0 1154.0L1143.3 1152.0L1143.6 1150.0L1143.9 1148.0L1144.1 1146.0L1144.4 1144.0L1144.7 1142.0L1145.0 1140.0L1145.3 1138.0L1145.7 1136.0L1146.0 1134.0L1146.4 1132.0L1146.8 1130.0L1147.1 1128.0L1147.5 1126.0L1147.8 1124.0L1148.1 1122.0L1148.4 1120.0L1148.7 1118.0L1148.9 1116.0L1149.1 1114.1L1149.4 1112.1L1149.6 1110.1L1149.8 1108.2L1150.0 1106.2L1150.1 1104.1L1150.3 1102.1L1150.5 1100.0L1150.7 1098.0L1150.8 1096.0L1150.9 1094.0L1151.1 1091.9L1151.2 1089.8L1151.3 1087.7L1151.4 1085.6L1151.5 1083.5L1151.7 1081.4L1151.8 1079.2L1152.0 1077.1L1152.2 1075.0L1152.4 1073.0L1152.6 1070.9L1152.9 1068.9L1153.2 1066.8L1153.4 1064.7L1153.7 1062.6L1154.0 1060.5L1154.3 1058.4L1154.6 1056.4L1154.9 1054.4L1155.2 1052.5L1155.5 1050.6L1155.8 1048.8L1156.2 1046.6L1156.5 1044.5L1156.9 1042.4L1157.2 1040.4L1157.6 1038.5L1158.0 1036.6L1158.4 1034.8L1158.9 1033.0L1159.6 1030.8L1160.3 1028.7L1161.1 1026.7L1161.9 1024.7L1162.8 1022.6L1163.7 1020.6L1164.6 1018.5L1165.6 1016.4L1166.7 1014.3L1167.6 1012.2L1168.5 1010.0L1169.2 1008.1L1169.9 1006.2L1170.5 1004.3L1171.1 1002.4L1171.7 1000.4L1172.3 998.2L1172.9 996.0L1173.3 994.3L1173.7 992.5L1174.1 990.6L1174.5 988.7L1174.9 986.8L1175.3 984.8L1175.7 982.7L1176.0 980.6L1176.4 978.5L1176.8 976.4L1177.3 974.3L1177.7 972.1L1178.2 970.0L1178.6 968.2L1179.1 966.3L1179.5 964.3L1180.0 962.3L1180.5 960.2L1181.0 958.2L1181.6 956.1L1182.1 954.0L1182.6 951.9L1183.2 949.8L1183.7 947.8L1184.2 945.8L1184.7 943.8L1185.2 941.9L1185.7 940.0L1186.1 938.3L1186.6 936.6L1187.0 935.0L1187.6 932.5L1188.2 930.3L1188.8 928.2L1189.4 926.3L1189.9 924.3L1190.4 922.2L1191.0 920.0L1191.5 918.2L1191.9 916.4L1192.3 914.7L1192.8 912.9L1193.2 911.1L1193.6 909.2L1194.1 907.2L1194.6 905.0L1195.0 902.6L1195.5 900.0L1195.7 898.7L1196.0 897.3L1196.2 895.9L1196.5 894.4L1196.7 892.9L1196.9 891.3L1197.2 889.6L1197.5 887.9L1197.7 886.2L1198.0 884.4L1198.3 882.5L1198.5 880.7L1198.8 878.7L1199.1 876.8L1199.3 874.8L1199.6 872.8L1199.9 870.8L1200.2 868.7L1200.5 866.6L1200.8 864.5L1201.0 862.3L1201.3 860.2L1201.6 858.0L1201.9 855.8L1202.2 853.6L1202.5 851.4L1202.7 849.1L1203.0 846.9L1203.3 844.7L1203.6 842.4L1203.9 840.2L1204.1 837.9L1204.4 835.7L1204.7 833.5L1205.0 831.3L1205.2 829.0L1205.5 826.9L1205.8 824.7L1206.0 822.5L1206.3 820.4L1206.5 818.2L1206.8 816.1L1207.0 814.1L1207.3 812.0L1207.5 810.0L1207.7 808.0L1208.0 806.0L1208.2 803.9L1208.4 801.8L1208.7 799.7L1208.9 797.6L1209.1 795.5L1209.4 793.3L1209.6 791.2L1209.9 789.0L1210.1 786.8L1210.3 784.7L1210.5 782.5L1210.8 780.3L1211.0 778.1L1211.2 775.9L1211.5 773.7L1211.7 771.5L1211.9 769.3L1212.1 767.2L1212.3 765.0L1212.6 762.8L1212.8 760.7L1213.0 758.6L1213.2 756.4L1213.4 754.3L1213.6 752.3L1213.8 750.2L1214.0 748.2L1214.2 746.2L1214.4 744.2L1214.6 742.2L1214.8 740.3L1214.9 738.4L1215.1 736.5L1215.3 734.7L1215.5 732.9L1215.6 731.1L1215.8 729.4L1216.0 727.7L1216.1 726.1L1216.3 724.5L1216.4 722.9L1216.6 721.4L1216.7 720.0L1216.9 717.4L1217.2 714.9L1217.4 712.7L1217.6 710.5L1217.7 708.5L1217.9 706.5L1218.0 704.6L1218.2 702.7L1218.4 700.8L1218.5 698.8L1218.7 696.8L1218.9 694.8L1219.1 692.6L1219.3 690.7L1219.5 688.7L1219.7 686.7L1219.9 684.7L1220.1 682.6L1220.3 680.6L1220.5 678.5L1220.8 676.4L1221.0 674.3L1221.2 672.2L1221.5 670.1L1221.7 668.0L1221.9 665.9L1222.1 663.8L1222.4 661.7L1222.6 659.7L1222.8 657.6L1223.0 655.5L1223.2 653.4L1223.5 651.3L1223.7 649.2L1224.0 647.1L1224.2 644.9L1224.4 642.8L1224.7 640.6L1224.9 638.5L1225.1 636.4L1225.4 634.3L1225.6 632.3L1225.8 630.3L1226.0 628.3L1226.2 626.3L1226.3 624.4L1226.5 622.6L1226.7 620.2L1226.8 617.9L1227.0 615.7L1227.1 613.6L1227.2 611.4L1227.3 609.3L1227.4 607.3L1227.5 605.2L1227.7 603.1L1227.9 601.0L1228.1 598.9L1228.4 596.9L1228.7 594.9L1229.0 592.8L1229.3 590.8L1229.6 588.8L1230.0 586.8L1230.3 584.7L1230.7 582.7L1231.0 580.7L1231.3 578.6L1231.7 576.4L1232.0 574.2L1232.4 572.0L1232.8 569.8L1233.1 567.7L1233.5 565.6L1233.9 563.7L1234.2 561.9L1234.6 560.4L1235.2 558.0L1235.8 556.0L1236.6 554.3L1238.0 552.1L1239.6 551.0L1241.1 552.1L1242.4 554.3L1243.0 556.0L1243.3 558.0L1243.6 560.4L1243.8 561.9L1244.0 563.7L1244.2 565.6L1244.4 567.7L1244.5 569.8L1244.7 572.0L1244.9 574.2L1245.1 576.5L1245.3 578.6L1245.5 580.7L1245.7 582.7L1245.9 584.8L1246.2 586.8L1246.4 588.8L1246.7 590.8L1246.9 592.8L1247.1 594.9L1247.4 596.9L1247.6 598.9L1247.8 601.0L1248.0 603.1L1248.2 605.2L1248.4 607.3L1248.5 609.3L1248.7 611.4L1248.8 613.6L1249.0 615.7L1249.2 617.9L1249.3 620.2L1249.5 622.6L1249.6 624.4L1249.8 626.3L1249.9 628.3L1250.0 630.3L1250.2 632.3L1250.3 634.3L1250.4 636.4L1250.6 638.5L1250.7 640.6L1250.9 642.8L1251.0 644.9L1251.1 647.0L1251.3 649.2L1251.4 651.3L1251.5 653.4L1251.7 655.5L1251.8 657.6L1251.9 659.7L1252.1 661.7L1252.2 663.8L1252.3 665.9L1252.4 668.0L1252.6 670.1L1252.7 672.2L1252.8 674.3L1252.9 676.4L1253.1 678.5L1253.2 680.6L1253.3 682.6L1253.4 684.7L1253.5 686.7L1253.7 688.7L1253.8 690.7L1253.9 692.6L1254.0 694.8L1254.2 696.8L1254.3 698.8L1254.4 700.8L1254.6 702.7L1254.7 704.6L1254.8 706.5L1254.9 708.5L1255.1 710.5L1255.2 712.7L1255.3 714.9L1255.5 717.4L1255.6 720.0L1255.7 721.4L1255.7 722.9L1255.8 724.5L1255.9 726.1L1255.9 727.7L1256.0 729.4L1256.1 731.1L1256.1 732.8L1256.2 734.6L1256.3 736.4L1256.4 738.3L1256.4 740.1L1256.5 742.1L1256.6 744.0L1256.6 746.0L1256.7 748.0L1256.8 750.0L1256.8 752.0L1256.9 754.1L1257.0 756.2L1257.0 758.3L1257.1 760.4L1257.2 762.5L1257.2 764.7L1257.3 766.8L1257.4 769.0L1257.5 771.2L1257.5 773.3L1257.6 775.5L1257.7 777.7L1257.7 779.9L1257.8 782.1L1257.9 784.3L1258.0 786.5L1258.0 788.7L1258.1 790.9L1258.2 793.0L1258.3 795.2L1258.3 797.4L1258.4 799.5L1258.5 801.6L1258.6 803.8L1258.6 805.9L1258.7 807.9L1258.8 810.0L1258.9 811.9L1259.0 813.9L1259.0 815.9L1259.1 817.8L1259.2 819.8L1259.3 821.8L1259.3 823.7L1259.4 825.7L1259.5 827.7L1259.6 829.7L1259.7 831.6L1259.8 833.6L1259.8 835.6L1259.9 837.6L1260.0 839.6L1260.1 841.6L1260.2 843.6L1260.3 845.6L1260.3 847.6L1260.4 849.6L1260.5 851.6L1260.6 853.6L1260.7 855.6L1260.8 857.7L1260.9 859.7L1260.9 861.7L1261.0 863.7L1261.1 865.7L1261.2 867.7L1261.3 869.7L1261.4 871.8L1261.5 873.8L1261.6 875.8L1261.6 877.8L1261.7 879.8L1261.8 881.9L1261.9 883.9L1262.0 885.9L1262.1 887.9L1262.2 889.9L1262.2 891.9L1262.3 893.9L1262.4 896.0L1262.5 898.0L1262.6 900.0L1262.7 902.0L1262.8 904.0L1262.8 906.0L1262.9 908.0L1263.0 910.0L1263.1 912.0L1263.2 914.0L1263.2 916.0L1263.3 918.0L1263.4 920.0L1263.5 922.0L1263.6 924.0L1263.6 926.1L1263.7 928.1L1263.8 930.1L1263.9 932.1L1263.9 934.1L1264.0 936.1L1264.1 938.1L1264.2 940.2L1264.2 942.2L1264.3 944.2L1264.4 946.2L1264.5 948.2L1264.6 950.3L1264.6 952.3L1264.7 954.3L1264.8 956.3L1264.9 958.3L1264.9 960.3L1265.0 962.3L1265.1 964.4L1265.2 966.4L1265.2 968.4L1265.3 970.4L1265.4 972.4L1265.5 974.4L1265.6 976.4L1265.6 978.4L1265.7 980.4L1265.8 982.4L1265.9 984.4L1266.0 986.4L1266.0 988.4L1266.1 990.3L1266.2 992.3L1266.3 994.3L1266.4 996.3L1266.5 998.2L1266.5 1000.2L1266.6 1002.2L1266.7 1004.1L1266.8 1006.1L1266.9 1008.1L1267.0 1010.0L1267.1 1012.0L1267.2 1014.1L1267.3 1016.1L1267.4 1018.2L1267.5 1020.2L1267.6 1022.2L1267.7 1024.2L1267.8 1026.2L1267.9 1028.2L1268.0 1030.2L1268.1 1032.2L1268.2 1034.2L1268.4 1036.2L1268.5 1038.2L1268.6 1040.2L1268.7 1042.2L1268.8 1044.1L1268.9 1046.1L1269.0 1048.1L1269.1 1050.1L1269.2 1052.0L1269.4 1054.0L1269.5 1056.0L1269.6 1058.0L1269.7 1059.9L1269.8 1061.9L1269.9 1063.9L1270.0 1065.9L1270.2 1067.8L1270.3 1069.8L1270.4 1071.8L1270.5 1073.8L1270.6 1075.8L1270.7 1077.8L1270.9 1079.8L1271.0 1081.8L1271.1 1083.8L1271.2 1085.8L1271.3 1087.8L1271.4 1089.8L1271.5 1091.8L1271.7 1093.9L1271.8 1095.9L1271.9 1098.0L1272.0 1100.0L1272.1 1102.0L1272.2 1103.9L1272.3 1105.9L1272.4 1107.9L1272.5 1109.9L1272.6 1112.0L1272.7 1114.0L1272.8 1116.1L1272.9 1118.1L1273.0 1120.2L1273.1 1122.3L1273.2 1124.4L1273.3 1126.5L1273.4 1128.6L1273.5 1130.7L1273.6 1132.8L1273.7 1134.9L1273.8 1137.0L1273.9 1139.2L1274.0 1141.3L1274.1 1143.4L1274.2 1145.5L1274.3 1147.6L1274.4 1149.7L1274.5 1151.8L1274.6 1153.9L1274.7 1156.0L1274.8 1158.1L1274.9 1160.2L1275.0 1162.2L1275.1 1164.3L1275.3 1166.3L1275.4 1168.4L1275.5 1170.4L1275.6 1172.4L1275.7 1174.4L1275.8 1176.3L1275.9 1178.3L1276.1 1180.2L1276.2 1182.1L1276.3 1184.0L1276.4 1185.9L1276.5 1187.7L1276.7 1189.6L1276.8 1191.4L1276.9 1193.2L1277.1 1194.9L1277.2 1196.6L1277.4 1198.3L1277.5 1200.0L1277.7 1202.3L1277.9 1204.6L1278.1 1206.8L1278.4 1209.0L1278.6 1211.2L1278.8 1213.3L1279.1 1215.4L1279.3 1217.5L1279.6 1219.5L1279.8 1221.5L1280.1 1223.5L1280.3 1225.5L1280.6 1227.4L1280.8 1229.3L1281.1 1231.2L1281.3 1233.1L1281.6 1235.0L1281.8 1236.9L1282.1 1238.8L1282.3 1240.6L1282.6 1242.5L1282.8 1244.4L1283.0 1246.2L1283.3 1248.1L1283.5 1250.0L1283.7 1252.1L1284.0 1254.2L1284.2 1256.4L1284.4 1258.5L1284.6 1260.6L1284.8 1262.8L1285.0 1264.9L1285.2 1267.0L1285.4 1269.1L1285.6 1271.2L1285.8 1273.2L1286.0 1275.2L1286.2 1277.2L1286.5 1279.2L1286.7 1281.1L1286.9 1283.0L1287.2 1284.8L1287.4 1286.6L1287.7 1288.3L1288.0 1290.0L1288.4 1292.3L1288.9 1294.5L1289.4 1296.5L1289.9 1298.5L1290.4 1300.4L1290.9 1302.3L1291.5 1304.2L1292.0 1306.1L1292.5 1308.0L1293.0 1310.0L1293.5 1312.0L1294.0 1314.0L1294.5 1316.0L1295.0 1318.0L1295.4 1320.0L1295.9 1322.0L1296.4 1324.0L1296.9 1326.0L1297.5 1328.0L1298.0 1330.0L1298.5 1332.0L1299.1 1334.1L1299.6 1336.1L1300.2 1338.2L1300.7 1340.3L1301.3 1342.3L1301.9 1344.3L1302.6 1346.3L1303.3 1348.2L1304.0 1350.0L1304.9 1351.9L1305.8 1353.8L1306.7 1355.6L1307.7 1357.4L1308.7 1359.1L1309.7 1360.8L1310.9 1362.4L1312.0 1364.0L1313.3 1365.6L1314.6 1367.2L1316.0 1368.7L1317.5 1370.2L1319.0 1371.6L1320.5 1372.8L1322.0 1374.0L1323.9 1375.3L1325.7 1376.4L1327.7 1377.4L1329.7 1378.3L1332.0 1379.0L1333.7 1379.5L1335.6 1379.8L1337.5 1380.1L1339.5 1380.4L1341.6 1380.6L1343.7 1380.7L1345.8 1380.8L1347.9 1380.9L1350.0 1381.0L1351.9 1381.0L1353.9 1381.0L1355.8 1381.0L1357.7 1380.9L1359.7 1380.8L1361.7 1380.6L1363.7 1380.5L1365.7 1380.3L1367.8 1380.2L1370.0 1380.0L1371.8 1379.9L1373.6 1379.7L1375.5 1379.5L1377.4 1379.3L1379.3 1379.1L1381.2 1378.9L1383.2 1378.7L1385.1 1378.5L1387.2 1378.3L1389.2 1378.0L1391.3 1377.8L1393.4 1377.6L1395.6 1377.4L1397.8 1377.2L1400.0 1377.0L1401.8 1376.9L1403.5 1376.7L1405.3 1376.6L1407.1 1376.5L1408.9 1376.4L1410.8 1376.3L1412.6 1376.1L1414.5 1376.0L1416.4 1375.9L1418.4 1375.8L1420.3 1375.7L1422.3 1375.6L1424.3 1375.5L1426.3 1375.4L1428.3 1375.3L1430.4 1375.2L1432.4 1375.1L1434.5 1375.0L1436.7 1374.8L1438.8 1374.7L1441.0 1374.6L1443.2 1374.4L1445.5 1374.3L1447.7 1374.2L1450.0 1374.0L1451.7 1373.9L1453.4 1373.8L1455.2 1373.6L1457.0 1373.5L1458.7 1373.4L1460.6 1373.2L1462.4 1373.1L1464.2 1372.9L1466.1 1372.8L1468.0 1372.6L1469.9 1372.4L1471.8 1372.3L1473.7 1372.1L1475.6 1371.9L1477.6 1371.8L1479.5 1371.6L1481.5 1371.4L1483.5 1371.3L1485.5 1371.1L1487.5 1370.9L1489.5 1370.7L1491.6 1370.6L1493.6 1370.4L1495.7 1370.2L1497.7 1370.0L1499.8 1369.9L1501.9 1369.7L1504.0 1369.5L1506.0 1369.3L1508.1 1369.2L1510.2 1369.0L1512.3 1368.8L1514.4 1368.7L1516.6 1368.5L1518.7 1368.3L1520.8 1368.2L1522.9 1368.0L1525.0 1367.9L1527.2 1367.7L1529.3 1367.6L1531.4 1367.4L1533.5 1367.3L1535.6 1367.2L1537.8 1367.0L1539.9 1366.9L1542.0 1366.8L1543.9 1366.7L1545.8 1366.6L1547.8 1366.5L1549.7 1366.4L1551.7 1366.3L1553.6 1366.2L1555.6 1366.1L1557.6 1366.0L1559.6 1365.9L1561.6 1365.9L1563.6 1365.8L1565.6 1365.7L1567.6 1365.6L1569.6 1365.5L1571.7 1365.5L1573.7 1365.4L1575.7 1365.3L1577.8 1365.2L1579.8 1365.2L1581.9 1365.1L1584.0 1365.0L1586.0 1365.0L1588.1 1364.9L1590.2 1364.8L1592.2 1364.8L1594.3 1364.7L1596.4 1364.6L1598.5 1364.6L1600.5 1364.5L1602.6 1364.5L1604.7 1364.4L1606.7 1364.4L1608.8 1364.3L1610.9 1364.3L1613.0 1364.2L1615.0 1364.2L1617.1 1364.1L1619.1 1364.1L1621.2 1364.0L1623.2 1364.0L1625.3 1363.9L1627.3 1363.9L1629.4 1363.9L1631.4 1363.8L1633.4 1363.8L1635.4 1363.7L1637.4 1363.7L1639.4 1363.7L1641.4 1363.6L1643.4 1363.6L1645.4 1363.6L1647.3 1363.5L1649.3 1363.5L1651.2 1363.5L1653.2 1363.5L1655.1 1363.4L1657.0 1363.4L1659.1 1363.4L1661.2 1363.3L1663.3 1363.3L1665.4 1363.3L1667.5 1363.3L1669.6 1363.2L1671.7 1363.2L1673.8 1363.2L1675.9 1363.1L1677.9 1363.1L1680.0 1363.1L1682.1 1363.1L1684.1 1363.0L1686.2 1363.0L1688.2 1363.0L1690.3 1363.0L1692.3 1363.0L1694.4 1363.0L1696.4 1362.9L1698.4 1362.9L1700.4 1362.9L1702.5 1362.9L1704.5 1362.9L1706.5 1362.9L1708.5 1362.9L1710.5 1362.9L1712.5 1362.9L1714.4 1362.9L1716.4 1362.9L1718.4 1362.9L1720.4 1362.9L1722.3 1363.0L1724.3 1363.0L1726.2 1363.0L1728.1 1363.0L1730.1 1363.1L1732.0 1363.1L1733.9 1363.1L1735.8 1363.2L1737.7 1363.2L1739.6 1363.3L1741.5 1363.3L1743.4 1363.4L1745.3 1363.5L1747.1 1363.5L1749.0 1363.6L1751.2 1363.7L1753.3 1363.8L1755.5 1363.9L1757.7 1364.0L1759.8 1364.1L1762.0 1364.3L1764.1 1364.4L1766.3 1364.5L1768.4 1364.7L1770.6 1364.8L1772.7 1365.0L1774.8 1365.1L1776.9 1365.3L1779.0 1365.4L1781.1 1365.6L1783.1 1365.8L1785.2 1365.9L1787.2 1366.1L1789.3 1366.3L1791.3 1366.5L1793.3 1366.7L1795.3 1366.8L1797.3 1367.0L1799.3 1367.2L1801.2 1367.4L1803.2 1367.6L1805.1 1367.8L1807.0 1367.9L1808.9 1368.1L1810.7 1368.3L1812.6 1368.5L1814.4 1368.7L1816.2 1368.8L1818.0 1369.0L1820.3 1369.2L1822.5 1369.5L1824.8 1369.7L1827.1 1369.9L1829.3 1370.2L1831.6 1370.4L1833.8 1370.7L1836.0 1370.9L1838.2 1371.2L1840.3 1371.4L1842.4 1371.7L1844.4 1371.9L1846.4 1372.2L1848.4 1372.4L1850.3 1372.7L1852.1 1372.9L1853.8 1373.1L1855.5 1373.3L1857.1 1373.5L1858.6 1373.6L1860.0 1373.8L1863.0 1374.1L1866.0 1374.5L1868.5 1374.7L1870.3 1374.9L1871.0 1375.0"/>
</g>
<g fill="none" stroke="#000" stroke-width="10.5" stroke-linecap="round" stroke-linejoin="round" shape-rendering="crispEdges">
<path d="M267.3 162.5 L293.0 162.5 L293.0 1471.5"/>
<path d="M293.0 1446.4 L1891.4 1446.4 L1891.4 1471.5"/>
<path d="M267.3 1396.5 L293.0 1396.5"/>
<path d="M267.3 1149.7 L293.0 1149.7"/>
<path d="M267.3 902.9 L293.0 902.9"/>
<path d="M267.3 656.1 L293.0 656.1"/>
<path d="M267.3 409.3 L293.0 409.3"/>
<path d="M280 1273.1 L293.0 1273.1"/>
<path d="M280 1026.3 L293.0 1026.3"/>
<path d="M280 779.5 L293.0 779.5"/>
<path d="M280 532.7 L293.0 532.7"/>
<path d="M280 285.9 L293.0 285.9"/>
<path d="M521.3 1446.4 L521.3 1471.5"/>
<path d="M749.7 1446.4 L749.7 1471.5"/>
<path d="M978.0 1446.4 L978.0 1471.5"/>
<path d="M1206.4 1446.4 L1206.4 1471.5"/>
<path d="M1434.7 1446.4 L1434.7 1471.5"/>
<path d="M1663.1 1446.4 L1663.1 1471.5"/>
<path d="M407.2 1446.4 L407.2 1458.5"/>
<path d="M635.5 1446.4 L635.5 1458.5"/>
<path d="M863.9 1446.4 L863.9 1458.5"/>
<path d="M1092.2 1446.4 L1092.2 1458.5"/>
<path d="M1320.5 1446.4 L1320.5 1458.5"/>
<path d="M1548.9 1446.4 L1548.9 1458.5"/>
<path d="M1777.2 1446.4 L1777.2 1458.5"/>
</g>
<text transform="translate(252.0,1408.0) scale(0.9470,1)" font-size="51.4" text-anchor="end">0.0</text>
<text transform="translate(252.0,1161.2) scale(0.9470,1)" font-size="51.4" text-anchor="end">0.5</text>
<text transform="translate(252.0,914.4) scale(0.9470,1)" font-size="51.4" text-anchor="end">1.0</text>
<text transform="translate(252.0,667.6) scale(0.9470,1)" font-size="51.4" text-anchor="end">1.5</text>
<text transform="translate(252.0,420.8) scale(0.9470,1)" font-size="51.4" text-anchor="end">2.0</text>
<text transform="translate(252.0,174.0) scale(0.9470,1)" font-size="51.4" text-anchor="end">2.5</text>
<text transform="translate(293.0,1524.2) scale(0.9470,1)" font-size="51.4" text-anchor="middle">0</text>
<text transform="translate(521.3,1524.2) scale(0.9470,1)" font-size="51.4" text-anchor="middle">100</text>
<text transform="translate(749.7,1524.2) scale(0.9470,1)" font-size="51.4" text-anchor="middle">200</text>
<text transform="translate(978.0,1524.2) scale(0.9470,1)" font-size="51.4" text-anchor="middle">300</text>
<text transform="translate(1206.4,1524.2) scale(0.9470,1)" font-size="51.4" text-anchor="middle">400</text>
<text transform="translate(1434.7,1524.2) scale(0.9470,1)" font-size="51.4" text-anchor="middle">500</text>
<text transform="translate(1663.1,1524.2) scale(0.9470,1)" font-size="51.4" text-anchor="middle">600</text>
<text transform="translate(1891.4,1524.2) scale(0.9470,1)" font-size="51.4" text-anchor="middle">700</text>
<text transform="translate(854.0,1636.2) scale(0.9340,1)" font-size="63.5" text-anchor="start">Temperature (<tspan font-size="70" dx="-4.3" dy="-6">°</tspan><tspan dx="-2.2" dy="6">C)</tspan></text>
<text transform="translate(94.8,1113.0) rotate(-90) scale(0.9900,1)" font-size="63.5" text-anchor="start">Deriv. Weight (%/<tspan font-size="70" dx="-4.3" dy="-6">°</tspan><tspan dx="-2.2" dy="6">C)</tspan></text>
<rect x="1446.4" y="37" width="523" height="563.2" fill="#fff" stroke="#000" stroke-width="3.6" shape-rendering="crispEdges"/>
<path d="M1471 96.5 L1609.5 96.5" stroke="#000000" stroke-width="11" stroke-linecap="round" fill="none" shape-rendering="crispEdges"/>
<text transform="translate(1628.3,117.2) scale(0.9250,1)" font-size="63.5" text-anchor="start">3 <tspan font-size="70" dx="-4.3" dy="-6">°</tspan><tspan dx="-2.2" dy="6">C/min</tspan></text>
<path d="M1471 184.7 L1609.5 184.7" stroke="#ff0000" stroke-width="11" stroke-linecap="round" fill="none" shape-rendering="crispEdges"/>
<text transform="translate(1628.3,205.4) scale(0.9250,1)" font-size="63.5" text-anchor="start">5 <tspan font-size="70" dx="-4.3" dy="-6">°</tspan><tspan dx="-2.2" dy="6">C/min</tspan></text>
<path d="M1471 272.9 L1609.5 272.9" stroke="#00ff00" stroke-width="11" stroke-linecap="round" fill="none" shape-rendering="crispEdges"/>
<text transform="translate(1628.3,293.6) scale(0.9250,1)" font-size="63.5" text-anchor="start">7 <tspan font-size="70" dx="-4.3" dy="-6">°</tspan><tspan dx="-2.2" dy="6">C/min</tspan></text>
<path d="M1471 361.1 L1609.5 361.1" stroke="#0000ff" stroke-width="11" stroke-linecap="round" fill="none" shape-rendering="crispEdges"/>
<text transform="translate(1628.3,381.8) scale(0.9250,1)" font-size="63.5" text-anchor="start">10 <tspan font-size="70" dx="-4.3" dy="-6">°</tspan><tspan dx="-2.2" dy="6">C/min</tspan></text>
<path d="M1471 449.3 L1609.5 449.3" stroke="#00ffff" stroke-width="11" stroke-linecap="round" fill="none" shape-rendering="crispEdges"/>
<text transform="translate(1628.3,470.0) scale(0.9250,1)" font-size="63.5" text-anchor="start">15 <tspan font-size="70" dx="-4.3" dy="-6">°</tspan><tspan dx="-2.2" dy="6">C/min</tspan></text>
<path d="M1471 537.5 L1609.5 537.5" stroke="#ff00ff" stroke-width="11" stroke-linecap="round" fill="none" shape-rendering="crispEdges"/>
<text transform="translate(1628.3,558.2) scale(0.9250,1)" font-size="63.5" text-anchor="start">20 <tspan font-size="70" dx="-4.3" dy="-6">°</tspan><tspan dx="-2.2" dy="6">C/min</tspan></text>
</svg></body></html>
